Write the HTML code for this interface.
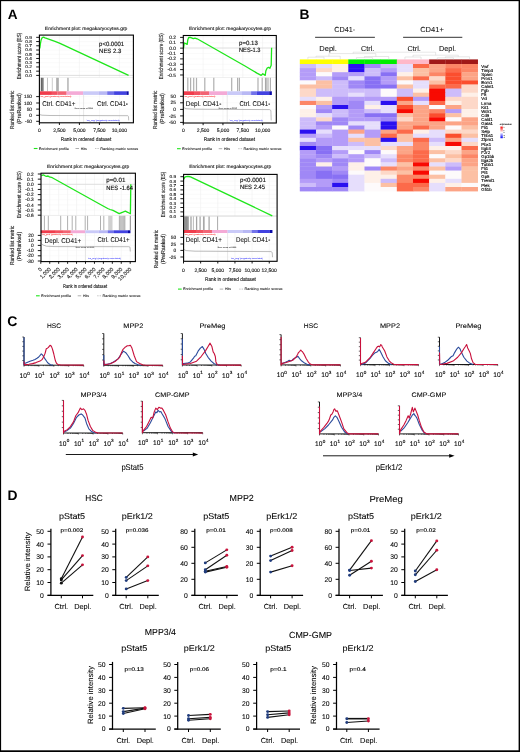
<!DOCTYPE html>
<html><head><meta charset="utf-8"><title>Figure</title>
<style>
html,body{margin:0;padding:0;background:#fff;}
body{width:520px;height:752px;overflow:hidden;}
svg{display:block;font-family:"Liberation Sans", sans-serif;text-rendering:geometricPrecision;will-change:transform;}
.frame{position:absolute;left:0;top:0;width:518px;height:750px;border:1px solid #000;}
</style></head>
<body>
<svg width="520" height="752" viewBox="0 0 520 752">
<rect x="0" y="0" width="520" height="752" fill="#fff"/>
<text x="7.8" y="18.7" font-size="13.6" font-weight="bold" >A</text>
<text x="299.6" y="18.8" font-size="13.8" font-weight="bold" >B</text>
<text x="7.2" y="326.4" font-size="14" font-weight="bold" >C</text>
<text x="7.4" y="500.4" font-size="13.8" font-weight="bold" >D</text>
<text x="86.1" y="30.3" font-size="4.7" text-anchor="middle" fill="#222" textLength="82.6" lengthAdjust="spacingAndGlyphs" stroke="#222" stroke-width="0.14" >Enrichment plot: megakaryocytes.grp</text>
<line x1="59.4" y1="35.1" x2="59.4" y2="77.5" stroke="#ececec" stroke-width="0.5" />
<line x1="59.4" y1="94.9" x2="59.4" y2="122.8" stroke="#eeeeee" stroke-width="0.5" />
<line x1="79.4" y1="35.1" x2="79.4" y2="77.5" stroke="#ececec" stroke-width="0.5" />
<line x1="79.4" y1="94.9" x2="79.4" y2="122.8" stroke="#eeeeee" stroke-width="0.5" />
<line x1="99.4" y1="35.1" x2="99.4" y2="77.5" stroke="#ececec" stroke-width="0.5" />
<line x1="99.4" y1="94.9" x2="99.4" y2="122.8" stroke="#eeeeee" stroke-width="0.5" />
<line x1="119.4" y1="35.1" x2="119.4" y2="77.5" stroke="#ececec" stroke-width="0.5" />
<line x1="119.4" y1="94.9" x2="119.4" y2="122.8" stroke="#eeeeee" stroke-width="0.5" />
<line x1="39.4" y1="75.4" x2="133.4" y2="75.4" stroke="#f2f2f2" stroke-width="0.4" />
<line x1="39.4" y1="71.17" x2="133.4" y2="71.17" stroke="#f2f2f2" stroke-width="0.4" />
<line x1="39.4" y1="66.94" x2="133.4" y2="66.94" stroke="#f2f2f2" stroke-width="0.4" />
<line x1="39.4" y1="62.71" x2="133.4" y2="62.71" stroke="#f2f2f2" stroke-width="0.4" />
<line x1="39.4" y1="58.48" x2="133.4" y2="58.48" stroke="#f2f2f2" stroke-width="0.4" />
<line x1="39.4" y1="54.25" x2="133.4" y2="54.25" stroke="#f2f2f2" stroke-width="0.4" />
<line x1="39.4" y1="50.02" x2="133.4" y2="50.02" stroke="#f2f2f2" stroke-width="0.4" />
<line x1="39.4" y1="45.79" x2="133.4" y2="45.79" stroke="#f2f2f2" stroke-width="0.4" />
<line x1="39.4" y1="41.56" x2="133.4" y2="41.56" stroke="#f2f2f2" stroke-width="0.4" />
<line x1="39.4" y1="37.33" x2="133.4" y2="37.33" stroke="#f2f2f2" stroke-width="0.4" />
<line x1="39.4" y1="96.6" x2="133.4" y2="96.6" stroke="#f4f4f4" stroke-width="0.4" />
<line x1="39.4" y1="103" x2="133.4" y2="103" stroke="#f4f4f4" stroke-width="0.4" />
<line x1="39.4" y1="109.1" x2="133.4" y2="109.1" stroke="#f4f4f4" stroke-width="0.4" />
<line x1="39.4" y1="115.3" x2="133.4" y2="115.3" stroke="#f4f4f4" stroke-width="0.4" />
<line x1="39.4" y1="121.3" x2="133.4" y2="121.3" stroke="#f4f4f4" stroke-width="0.4" />
<line x1="39.4" y1="75.4" x2="133.4" y2="75.4" stroke="#d4d4d4" stroke-width="0.7" />
<line x1="39.4" y1="77.5" x2="133.4" y2="77.5" stroke="#e0e0e0" stroke-width="0.5" />
<rect x="40.8" y="77.8" width="2.9" height="13.5" fill="#8a8a8a" />
<line x1="41.4" y1="77.8" x2="41.4" y2="91.3" stroke="#444" stroke-width="0.6" />
<line x1="42.6" y1="77.8" x2="42.6" y2="91.3" stroke="#666" stroke-width="0.4" />
<line x1="47.5" y1="77.8" x2="47.5" y2="91.3" stroke="#999" stroke-width="0.6" />
<line x1="52.3" y1="77.8" x2="52.3" y2="91.3" stroke="#aaa" stroke-width="0.6" />
<rect x="56.2" y="77.8" width="2.7" height="13.5" fill="#b4b4b4" />
<line x1="57" y1="77.8" x2="57" y2="91.3" stroke="#999" stroke-width="0.4" />
<rect x="67.2" y="77.8" width="1.5" height="13.5" fill="#b4b4b4" />
<rect x="39.4" y="91.3" width="12.54" height="3.6" fill="#f03c4c" />
<rect x="51.89" y="91.3" width="5.4" height="3.6" fill="#f25060" />
<rect x="57.24" y="91.3" width="9.42" height="3.6" fill="#f26474" />
<rect x="66.61" y="91.3" width="16.55" height="3.6" fill="#f4aad6" />
<rect x="83.11" y="91.3" width="15.66" height="3.6" fill="#cacaf8" />
<rect x="98.72" y="91.3" width="8.52" height="3.6" fill="#b8b8f4" />
<rect x="107.19" y="91.3" width="6.92" height="3.6" fill="#7272ea" />
<rect x="114.06" y="91.3" width="12.36" height="3.6" fill="#4242e0" />
<rect x="126.37" y="91.3" width="2.28" height="3.6" fill="#0a0aa8" />
<text x="40.4" y="96.6" font-size="1.8" fill="#ff3030" textLength="31" lengthAdjust="spacingAndGlyphs" stroke="#ff3030" stroke-width="0.05" >'na_pos' (positively correlated)</text>
<text x="86.5" y="121" font-size="1.8" fill="#4040ff" textLength="33" lengthAdjust="spacingAndGlyphs" stroke="#4040ff" stroke-width="0.05" >'na_neg' (negatively correlated)</text>
<line x1="83.6" y1="94.9" x2="83.6" y2="122.8" stroke="#d0d0d0" stroke-width="0.5" />
<text x="74.6" y="108.8" font-size="1.8" fill="#444" textLength="18.5" lengthAdjust="spacingAndGlyphs" stroke="#444" stroke-width="0.05" >Zero cross at 5548</text>
<polyline points="39.8,114.6 42,115.2 50,115.5 127.8,115.7 128.5,116.6 128.7,120.4" fill="none" stroke="#a0a0a0" stroke-width="0.7" stroke-linejoin="round" />
<text x="42.3" y="105.6" font-size="7" fill="#111" textLength="33.1" lengthAdjust="spacingAndGlyphs" stroke="#111" stroke-width="0.07" >Ctrl. CD41+</text>
<text x="97" y="105.5" font-size="7" fill="#111" textLength="30.9" lengthAdjust="spacingAndGlyphs" stroke="#111" stroke-width="0.07" >Ctrl. CD41-</text>
<polyline points="39.8,48.5 40.3,44.5 41,40.5 41.8,38.3 42.8,37.3 43.6,37.2 45,37.9 46.5,38.4 50,39.6 55,41.3 60,43.3 128.6,75.4" fill="none" stroke="#1ee61a" stroke-width="1.3" stroke-linejoin="round" />
<text x="99.1" y="45.7" font-size="6.2" fill="#111" textLength="25" lengthAdjust="spacingAndGlyphs" stroke="#111" stroke-width="0.14" >p&lt;0.0001</text>
<text x="99.1" y="52.8" font-size="6.2" fill="#111" textLength="22.2" lengthAdjust="spacingAndGlyphs" stroke="#111" stroke-width="0.14" >NES 2.3</text>
<rect x="39.4" y="35.1" width="94" height="87.7" fill="none" stroke="#000" stroke-width="1.1" />
<line x1="36.2" y1="75.4" x2="39.4" y2="75.4" stroke="#000" stroke-width="0.9" />
<text x="32" y="0" font-size="4.8" text-anchor="end" fill="#222" stroke="#222" stroke-width="0.14" transform="translate(0 76.85) scale(1 0.88)">0.0</text>
<line x1="36.2" y1="71.17" x2="39.4" y2="71.17" stroke="#000" stroke-width="0.9" />
<text x="32" y="0" font-size="4.8" text-anchor="end" fill="#222" stroke="#222" stroke-width="0.14" transform="translate(0 72.62) scale(1 0.88)">0.1</text>
<line x1="36.2" y1="66.94" x2="39.4" y2="66.94" stroke="#000" stroke-width="0.9" />
<text x="32" y="0" font-size="4.8" text-anchor="end" fill="#222" stroke="#222" stroke-width="0.14" transform="translate(0 68.39) scale(1 0.88)">0.2</text>
<line x1="36.2" y1="62.71" x2="39.4" y2="62.71" stroke="#000" stroke-width="0.9" />
<text x="32" y="0" font-size="4.8" text-anchor="end" fill="#222" stroke="#222" stroke-width="0.14" transform="translate(0 64.16) scale(1 0.88)">0.3</text>
<line x1="36.2" y1="58.48" x2="39.4" y2="58.48" stroke="#000" stroke-width="0.9" />
<text x="32" y="0" font-size="4.8" text-anchor="end" fill="#222" stroke="#222" stroke-width="0.14" transform="translate(0 59.93) scale(1 0.88)">0.4</text>
<line x1="36.2" y1="54.25" x2="39.4" y2="54.25" stroke="#000" stroke-width="0.9" />
<text x="32" y="0" font-size="4.8" text-anchor="end" fill="#222" stroke="#222" stroke-width="0.14" transform="translate(0 55.7) scale(1 0.88)">0.5</text>
<line x1="36.2" y1="50.02" x2="39.4" y2="50.02" stroke="#000" stroke-width="0.9" />
<text x="32" y="0" font-size="4.8" text-anchor="end" fill="#222" stroke="#222" stroke-width="0.14" transform="translate(0 51.47) scale(1 0.88)">0.6</text>
<line x1="36.2" y1="45.79" x2="39.4" y2="45.79" stroke="#000" stroke-width="0.9" />
<text x="32" y="0" font-size="4.8" text-anchor="end" fill="#222" stroke="#222" stroke-width="0.14" transform="translate(0 47.24) scale(1 0.88)">0.7</text>
<line x1="36.2" y1="41.56" x2="39.4" y2="41.56" stroke="#000" stroke-width="0.9" />
<text x="32" y="0" font-size="4.8" text-anchor="end" fill="#222" stroke="#222" stroke-width="0.14" transform="translate(0 43.01) scale(1 0.88)">0.8</text>
<line x1="36.2" y1="37.33" x2="39.4" y2="37.33" stroke="#000" stroke-width="0.9" />
<text x="32" y="0" font-size="4.8" text-anchor="end" fill="#222" stroke="#222" stroke-width="0.14" transform="translate(0 38.78) scale(1 0.88)">0.9</text>
<line x1="36.2" y1="96.6" x2="39.4" y2="96.6" stroke="#000" stroke-width="0.9" />
<text x="32" y="98.2" font-size="4.8" text-anchor="end" fill="#222" stroke="#222" stroke-width="0.14" >150</text>
<line x1="36.2" y1="103" x2="39.4" y2="103" stroke="#000" stroke-width="0.9" />
<text x="32" y="104.6" font-size="4.8" text-anchor="end" fill="#222" stroke="#222" stroke-width="0.14" >100</text>
<line x1="36.2" y1="109.1" x2="39.4" y2="109.1" stroke="#000" stroke-width="0.9" />
<text x="32" y="110.7" font-size="4.8" text-anchor="end" fill="#222" stroke="#222" stroke-width="0.14" >50</text>
<line x1="36.2" y1="115.3" x2="39.4" y2="115.3" stroke="#000" stroke-width="0.9" />
<text x="32" y="116.9" font-size="4.8" text-anchor="end" fill="#222" stroke="#222" stroke-width="0.14" >0</text>
<line x1="36.2" y1="121.3" x2="39.4" y2="121.3" stroke="#000" stroke-width="0.9" />
<text x="32" y="122.9" font-size="4.8" text-anchor="end" fill="#222" stroke="#222" stroke-width="0.14" >-50</text>
<line x1="39.4" y1="122.8" x2="39.4" y2="125" stroke="#000" stroke-width="0.9" />
<text x="39.4" y="131.7" font-size="5" text-anchor="middle" fill="#222" stroke="#222" stroke-width="0.14" >0</text>
<line x1="59.4" y1="122.8" x2="59.4" y2="125" stroke="#000" stroke-width="0.9" />
<text x="59.4" y="131.7" font-size="5" text-anchor="middle" fill="#222" stroke="#222" stroke-width="0.14" >2,500</text>
<line x1="79.4" y1="122.8" x2="79.4" y2="125" stroke="#000" stroke-width="0.9" />
<text x="79.4" y="131.7" font-size="5" text-anchor="middle" fill="#222" stroke="#222" stroke-width="0.14" >5,000</text>
<line x1="99.4" y1="122.8" x2="99.4" y2="125" stroke="#000" stroke-width="0.9" />
<text x="99.4" y="131.7" font-size="5" text-anchor="middle" fill="#222" stroke="#222" stroke-width="0.14" >7,500</text>
<line x1="119.4" y1="122.8" x2="119.4" y2="125" stroke="#000" stroke-width="0.9" />
<text x="119.4" y="131.7" font-size="5" text-anchor="middle" fill="#222" stroke="#222" stroke-width="0.14" >10,000</text>
<text x="86.05" y="141.4" font-size="5.5" text-anchor="middle" fill="#222" textLength="50.5" lengthAdjust="spacingAndGlyphs" stroke="#222" stroke-width="0.14" >Rank in ordered dataset</text>
<text x="21.3" y="56" font-size="5.8" text-anchor="middle" fill="#222" textLength="46.5" lengthAdjust="spacingAndGlyphs" transform="rotate(-90 21.3 56)" stroke="#222" stroke-width="0.14" >Enrichment score (ES)</text>
<text x="14" y="109.8" font-size="5.8" text-anchor="middle" fill="#222" textLength="38.5" lengthAdjust="spacingAndGlyphs" transform="rotate(-90 14 109.8)" stroke="#222" stroke-width="0.14" >Ranked list metric</text>
<text x="20.8" y="108.5" font-size="5.8" text-anchor="middle" fill="#222" textLength="30.5" lengthAdjust="spacingAndGlyphs" transform="rotate(-90 20.8 108.5)" stroke="#222" stroke-width="0.14" >(PreRanked)</text>
<line x1="33.8" y1="148.5" x2="37.5" y2="148.5" stroke="#1ee61a" stroke-width="1.1" />
<text x="38.8" y="149.6" font-size="3.4" fill="#333" textLength="30" lengthAdjust="spacingAndGlyphs" stroke="#333" stroke-width="0.1" >Enrichment profile</text>
<line x1="75.5" y1="148.5" x2="79" y2="148.5" stroke="#777" stroke-width="0.6" />
<text x="80.8" y="149.6" font-size="3.4" fill="#333" textLength="6" lengthAdjust="spacingAndGlyphs" stroke="#333" stroke-width="0.1" >Hits</text>
<line x1="95" y1="148.5" x2="96.4" y2="148.5" stroke="#999" stroke-width="0.6" />
<line x1="97.4" y1="148.5" x2="98.8" y2="148.5" stroke="#999" stroke-width="0.6" />
<text x="100.3" y="149.6" font-size="3.4" fill="#333" textLength="38" lengthAdjust="spacingAndGlyphs" stroke="#333" stroke-width="0.1" >Ranking metric scores</text>
<text x="230" y="30.3" font-size="4.7" text-anchor="middle" fill="#222" textLength="82" lengthAdjust="spacingAndGlyphs" stroke="#222" stroke-width="0.14" >Enrichment plot: megakaryocytes.grp</text>
<line x1="203.12" y1="35.5" x2="203.12" y2="77.5" stroke="#ececec" stroke-width="0.5" />
<line x1="203.12" y1="95" x2="203.12" y2="123" stroke="#eeeeee" stroke-width="0.5" />
<line x1="222.95" y1="35.5" x2="222.95" y2="77.5" stroke="#ececec" stroke-width="0.5" />
<line x1="222.95" y1="95" x2="222.95" y2="123" stroke="#eeeeee" stroke-width="0.5" />
<line x1="242.78" y1="35.5" x2="242.78" y2="77.5" stroke="#ececec" stroke-width="0.5" />
<line x1="242.78" y1="95" x2="242.78" y2="123" stroke="#eeeeee" stroke-width="0.5" />
<line x1="262.6" y1="35.5" x2="262.6" y2="77.5" stroke="#ececec" stroke-width="0.5" />
<line x1="262.6" y1="95" x2="262.6" y2="123" stroke="#eeeeee" stroke-width="0.5" />
<line x1="183.3" y1="37.4" x2="276.3" y2="37.4" stroke="#f2f2f2" stroke-width="0.4" />
<line x1="183.3" y1="42.77" x2="276.3" y2="42.77" stroke="#f2f2f2" stroke-width="0.4" />
<line x1="183.3" y1="48.14" x2="276.3" y2="48.14" stroke="#f2f2f2" stroke-width="0.4" />
<line x1="183.3" y1="53.51" x2="276.3" y2="53.51" stroke="#f2f2f2" stroke-width="0.4" />
<line x1="183.3" y1="58.88" x2="276.3" y2="58.88" stroke="#f2f2f2" stroke-width="0.4" />
<line x1="183.3" y1="64.25" x2="276.3" y2="64.25" stroke="#f2f2f2" stroke-width="0.4" />
<line x1="183.3" y1="69.62" x2="276.3" y2="69.62" stroke="#f2f2f2" stroke-width="0.4" />
<line x1="183.3" y1="74.99" x2="276.3" y2="74.99" stroke="#f2f2f2" stroke-width="0.4" />
<line x1="183.3" y1="96.3" x2="276.3" y2="96.3" stroke="#f4f4f4" stroke-width="0.4" />
<line x1="183.3" y1="102.8" x2="276.3" y2="102.8" stroke="#f4f4f4" stroke-width="0.4" />
<line x1="183.3" y1="109.4" x2="276.3" y2="109.4" stroke="#f4f4f4" stroke-width="0.4" />
<line x1="183.3" y1="115.9" x2="276.3" y2="115.9" stroke="#f4f4f4" stroke-width="0.4" />
<line x1="183.3" y1="48" x2="276.3" y2="48" stroke="#d4d4d4" stroke-width="0.7" />
<line x1="183.3" y1="77.5" x2="276.3" y2="77.5" stroke="#e0e0e0" stroke-width="0.5" />
<line x1="187.8" y1="77.8" x2="187.8" y2="91.3" stroke="#b0b0b0" stroke-width="1.2" />
<line x1="190.6" y1="77.8" x2="190.6" y2="91.3" stroke="#b0b0b0" stroke-width="1.2" />
<line x1="193.7" y1="77.8" x2="193.7" y2="91.3" stroke="#b0b0b0" stroke-width="1.2" />
<line x1="196.5" y1="77.8" x2="196.5" y2="91.3" stroke="#b0b0b0" stroke-width="1.2" />
<line x1="204.8" y1="77.8" x2="204.8" y2="91.3" stroke="#b0b0b0" stroke-width="1.2" />
<line x1="213.8" y1="77.8" x2="213.8" y2="91.3" stroke="#b0b0b0" stroke-width="1.2" />
<line x1="231.7" y1="77.8" x2="231.7" y2="91.3" stroke="#b0b0b0" stroke-width="1.2" />
<line x1="237.6" y1="77.8" x2="237.6" y2="91.3" stroke="#b0b0b0" stroke-width="1.2" />
<line x1="239.4" y1="77.8" x2="239.4" y2="91.3" stroke="#b0b0b0" stroke-width="1.2" />
<line x1="258" y1="77.8" x2="258" y2="91.3" stroke="#b0b0b0" stroke-width="1.2" />
<line x1="262.2" y1="77.8" x2="262.2" y2="91.3" stroke="#b0b0b0" stroke-width="1.2" />
<line x1="268" y1="77.8" x2="268" y2="91.3" stroke="#b0b0b0" stroke-width="1.2" />
<line x1="270.4" y1="77.8" x2="270.4" y2="91.3" stroke="#b0b0b0" stroke-width="1.2" />
<line x1="266" y1="77.8" x2="266" y2="91.3" stroke="#999" stroke-width="1.2" />
<line x1="265.4" y1="77.8" x2="265.4" y2="91.3" stroke="#888" stroke-width="0.5" />
<rect x="183.3" y="91.3" width="11.55" height="3.7" fill="#f03c4c" />
<rect x="194.81" y="91.3" width="5.36" height="3.7" fill="#f25060" />
<rect x="200.12" y="91.3" width="8.9" height="3.7" fill="#f26474" />
<rect x="208.97" y="91.3" width="18.28" height="3.7" fill="#f4aad6" />
<rect x="227.2" y="91.3" width="14.74" height="3.7" fill="#cacaf8" />
<rect x="241.89" y="91.3" width="9.25" height="3.7" fill="#b8b8f4" />
<rect x="251.09" y="91.3" width="5.71" height="3.7" fill="#7272ea" />
<rect x="256.75" y="91.3" width="12.53" height="3.7" fill="#4242e0" />
<rect x="269.23" y="91.3" width="2.62" height="3.7" fill="#0a0aa8" />
<text x="184.3" y="96.7" font-size="1.8" fill="#ff3030" textLength="31" lengthAdjust="spacingAndGlyphs" stroke="#ff3030" stroke-width="0.05" >'na_pos' (positively correlated)</text>
<text x="229.5" y="121" font-size="1.8" fill="#4040ff" textLength="33" lengthAdjust="spacingAndGlyphs" stroke="#4040ff" stroke-width="0.05" >'na_neg' (negatively correlated)</text>
<line x1="227.2" y1="95" x2="227.2" y2="123" stroke="#d0d0d0" stroke-width="0.5" />
<text x="218.5" y="108.9" font-size="1.8" fill="#444" textLength="18.5" lengthAdjust="spacingAndGlyphs" stroke="#444" stroke-width="0.05" >Zero cross at 5535</text>
<polyline points="183.8,107.6 186,108.7 195,109.2 269.5,109.6 270.9,110.5 271.2,120.4" fill="none" stroke="#a0a0a0" stroke-width="0.7" stroke-linejoin="round" />
<text x="185.8" y="105.8" font-size="7" fill="#111" textLength="35.5" lengthAdjust="spacingAndGlyphs" stroke="#111" stroke-width="0.07" >Depl. CD41-</text>
<text x="239.6" y="105.8" font-size="7" fill="#111" textLength="30.6" lengthAdjust="spacingAndGlyphs" stroke="#111" stroke-width="0.07" >Ctrl. CD41-</text>
<polyline points="183.5,48.3 184.3,43 185.8,43.6 187.2,44.4 187.8,39.8 188.7,37.5 190.4,37.4 192.1,38.1 193.3,38.7 195,38.1 197.1,38.8 245,66 251.7,70 257.4,73.4 261.2,75.4 262.8,73.7 265.2,75.4 265.9,70.7 267.2,68 268.6,67.3 269.9,68.3 271.2,65.3 271.6,47.8" fill="none" stroke="#1ee61a" stroke-width="1.3" stroke-linejoin="round" />
<text x="239" y="44.8" font-size="6.2" fill="#111" textLength="18.8" lengthAdjust="spacingAndGlyphs" stroke="#111" stroke-width="0.14" >p=0.13</text>
<text x="239" y="51.8" font-size="6.2" fill="#111" textLength="21.5" lengthAdjust="spacingAndGlyphs" stroke="#111" stroke-width="0.14" >NES-1.3</text>
<rect x="183.3" y="35.5" width="93" height="87.5" fill="none" stroke="#000" stroke-width="1.1" />
<line x1="180.1" y1="37.4" x2="183.3" y2="37.4" stroke="#000" stroke-width="0.9" />
<text x="175.9" y="39" font-size="4.8" text-anchor="end" fill="#222" stroke="#222" stroke-width="0.14" >0.2</text>
<line x1="180.1" y1="42.77" x2="183.3" y2="42.77" stroke="#000" stroke-width="0.9" />
<text x="175.9" y="44.37" font-size="4.8" text-anchor="end" fill="#222" stroke="#222" stroke-width="0.14" >0.1</text>
<line x1="180.1" y1="48.14" x2="183.3" y2="48.14" stroke="#000" stroke-width="0.9" />
<text x="175.9" y="49.74" font-size="4.8" text-anchor="end" fill="#222" stroke="#222" stroke-width="0.14" >0.0</text>
<line x1="180.1" y1="53.51" x2="183.3" y2="53.51" stroke="#000" stroke-width="0.9" />
<text x="175.9" y="55.11" font-size="4.8" text-anchor="end" fill="#222" stroke="#222" stroke-width="0.14" >-0.1</text>
<line x1="180.1" y1="58.88" x2="183.3" y2="58.88" stroke="#000" stroke-width="0.9" />
<text x="175.9" y="60.48" font-size="4.8" text-anchor="end" fill="#222" stroke="#222" stroke-width="0.14" >-0.2</text>
<line x1="180.1" y1="64.25" x2="183.3" y2="64.25" stroke="#000" stroke-width="0.9" />
<text x="175.9" y="65.85" font-size="4.8" text-anchor="end" fill="#222" stroke="#222" stroke-width="0.14" >-0.3</text>
<line x1="180.1" y1="69.62" x2="183.3" y2="69.62" stroke="#000" stroke-width="0.9" />
<text x="175.9" y="71.22" font-size="4.8" text-anchor="end" fill="#222" stroke="#222" stroke-width="0.14" >-0.4</text>
<line x1="180.1" y1="74.99" x2="183.3" y2="74.99" stroke="#000" stroke-width="0.9" />
<text x="175.9" y="76.59" font-size="4.8" text-anchor="end" fill="#222" stroke="#222" stroke-width="0.14" >-0.5</text>
<line x1="180.1" y1="96.3" x2="183.3" y2="96.3" stroke="#000" stroke-width="0.9" />
<text x="175.9" y="97.9" font-size="4.8" text-anchor="end" fill="#222" stroke="#222" stroke-width="0.14" >50</text>
<line x1="180.1" y1="102.8" x2="183.3" y2="102.8" stroke="#000" stroke-width="0.9" />
<text x="175.9" y="104.4" font-size="4.8" text-anchor="end" fill="#222" stroke="#222" stroke-width="0.14" >25</text>
<line x1="180.1" y1="109.4" x2="183.3" y2="109.4" stroke="#000" stroke-width="0.9" />
<text x="175.9" y="111" font-size="4.8" text-anchor="end" fill="#222" stroke="#222" stroke-width="0.14" >0</text>
<line x1="180.1" y1="115.9" x2="183.3" y2="115.9" stroke="#000" stroke-width="0.9" />
<text x="175.9" y="117.5" font-size="4.8" text-anchor="end" fill="#222" stroke="#222" stroke-width="0.14" >-25</text>
<line x1="180.1" y1="122.4" x2="183.3" y2="122.4" stroke="#000" stroke-width="0.9" />
<text x="175.9" y="124" font-size="4.8" text-anchor="end" fill="#222" stroke="#222" stroke-width="0.14" >-50</text>
<line x1="183.3" y1="123" x2="183.3" y2="125.2" stroke="#000" stroke-width="0.9" />
<text x="183.3" y="132" font-size="5" text-anchor="middle" fill="#222" stroke="#222" stroke-width="0.14" >0</text>
<line x1="203.12" y1="123" x2="203.12" y2="125.2" stroke="#000" stroke-width="0.9" />
<text x="203.12" y="132" font-size="5" text-anchor="middle" fill="#222" stroke="#222" stroke-width="0.14" >2,500</text>
<line x1="222.95" y1="123" x2="222.95" y2="125.2" stroke="#000" stroke-width="0.9" />
<text x="222.95" y="132" font-size="5" text-anchor="middle" fill="#222" stroke="#222" stroke-width="0.14" >5,000</text>
<line x1="242.78" y1="123" x2="242.78" y2="125.2" stroke="#000" stroke-width="0.9" />
<text x="242.78" y="132" font-size="5" text-anchor="middle" fill="#222" stroke="#222" stroke-width="0.14" >7,500</text>
<line x1="262.6" y1="123" x2="262.6" y2="125.2" stroke="#000" stroke-width="0.9" />
<text x="262.6" y="132" font-size="5" text-anchor="middle" fill="#222" stroke="#222" stroke-width="0.14" >10,000</text>
<text x="229.4" y="141.4" font-size="5.5" text-anchor="middle" fill="#222" textLength="51.2" lengthAdjust="spacingAndGlyphs" stroke="#222" stroke-width="0.14" >Rank in ordered dataset</text>
<text x="163.2" y="56.2" font-size="5.8" text-anchor="middle" fill="#222" textLength="45.9" lengthAdjust="spacingAndGlyphs" transform="rotate(-90 163.2 56.2)" stroke="#222" stroke-width="0.14" >Enrichment score (ES)</text>
<text x="157" y="109.8" font-size="5.8" text-anchor="middle" fill="#222" textLength="38.5" lengthAdjust="spacingAndGlyphs" transform="rotate(-90 157 109.8)" stroke="#222" stroke-width="0.14" >Ranked list metric</text>
<text x="163.8" y="108.5" font-size="5.8" text-anchor="middle" fill="#222" textLength="30.5" lengthAdjust="spacingAndGlyphs" transform="rotate(-90 163.8 108.5)" stroke="#222" stroke-width="0.14" >(PreRanked)</text>
<line x1="177" y1="148.7" x2="180.7" y2="148.7" stroke="#1ee61a" stroke-width="1.1" />
<text x="182" y="149.8" font-size="3.4" fill="#333" textLength="30" lengthAdjust="spacingAndGlyphs" stroke="#333" stroke-width="0.1" >Enrichment profile</text>
<line x1="218.7" y1="148.7" x2="222.2" y2="148.7" stroke="#777" stroke-width="0.6" />
<text x="224" y="149.8" font-size="3.4" fill="#333" textLength="6" lengthAdjust="spacingAndGlyphs" stroke="#333" stroke-width="0.1" >Hits</text>
<line x1="238.2" y1="148.7" x2="239.6" y2="148.7" stroke="#999" stroke-width="0.6" />
<line x1="240.6" y1="148.7" x2="242" y2="148.7" stroke="#999" stroke-width="0.6" />
<text x="243.5" y="149.8" font-size="3.4" fill="#333" textLength="38" lengthAdjust="spacingAndGlyphs" stroke="#333" stroke-width="0.1" >Ranking metric scores</text>
<text x="88.05" y="168.2" font-size="4.7" text-anchor="middle" fill="#222" textLength="82.3" lengthAdjust="spacingAndGlyphs" stroke="#222" stroke-width="0.14" >Enrichment plot: megakaryocytes.grp</text>
<line x1="49.74" y1="173.2" x2="49.74" y2="215.5" stroke="#ececec" stroke-width="0.5" />
<line x1="49.74" y1="233.2" x2="49.74" y2="261.6" stroke="#eeeeee" stroke-width="0.5" />
<line x1="58.68" y1="173.2" x2="58.68" y2="215.5" stroke="#ececec" stroke-width="0.5" />
<line x1="58.68" y1="233.2" x2="58.68" y2="261.6" stroke="#eeeeee" stroke-width="0.5" />
<line x1="67.62" y1="173.2" x2="67.62" y2="215.5" stroke="#ececec" stroke-width="0.5" />
<line x1="67.62" y1="233.2" x2="67.62" y2="261.6" stroke="#eeeeee" stroke-width="0.5" />
<line x1="76.56" y1="173.2" x2="76.56" y2="215.5" stroke="#ececec" stroke-width="0.5" />
<line x1="76.56" y1="233.2" x2="76.56" y2="261.6" stroke="#eeeeee" stroke-width="0.5" />
<line x1="85.5" y1="173.2" x2="85.5" y2="215.5" stroke="#ececec" stroke-width="0.5" />
<line x1="85.5" y1="233.2" x2="85.5" y2="261.6" stroke="#eeeeee" stroke-width="0.5" />
<line x1="94.44" y1="173.2" x2="94.44" y2="215.5" stroke="#ececec" stroke-width="0.5" />
<line x1="94.44" y1="233.2" x2="94.44" y2="261.6" stroke="#eeeeee" stroke-width="0.5" />
<line x1="103.38" y1="173.2" x2="103.38" y2="215.5" stroke="#ececec" stroke-width="0.5" />
<line x1="103.38" y1="233.2" x2="103.38" y2="261.6" stroke="#eeeeee" stroke-width="0.5" />
<line x1="112.32" y1="173.2" x2="112.32" y2="215.5" stroke="#ececec" stroke-width="0.5" />
<line x1="112.32" y1="233.2" x2="112.32" y2="261.6" stroke="#eeeeee" stroke-width="0.5" />
<line x1="121.26" y1="173.2" x2="121.26" y2="215.5" stroke="#ececec" stroke-width="0.5" />
<line x1="121.26" y1="233.2" x2="121.26" y2="261.6" stroke="#eeeeee" stroke-width="0.5" />
<line x1="130.2" y1="173.2" x2="130.2" y2="215.5" stroke="#ececec" stroke-width="0.5" />
<line x1="130.2" y1="233.2" x2="130.2" y2="261.6" stroke="#eeeeee" stroke-width="0.5" />
<line x1="41" y1="174" x2="135.4" y2="174" stroke="#f2f2f2" stroke-width="0.4" />
<line x1="41" y1="179.15" x2="135.4" y2="179.15" stroke="#f2f2f2" stroke-width="0.4" />
<line x1="41" y1="184.3" x2="135.4" y2="184.3" stroke="#f2f2f2" stroke-width="0.4" />
<line x1="41" y1="189.45" x2="135.4" y2="189.45" stroke="#f2f2f2" stroke-width="0.4" />
<line x1="41" y1="194.6" x2="135.4" y2="194.6" stroke="#f2f2f2" stroke-width="0.4" />
<line x1="41" y1="199.75" x2="135.4" y2="199.75" stroke="#f2f2f2" stroke-width="0.4" />
<line x1="41" y1="204.9" x2="135.4" y2="204.9" stroke="#f2f2f2" stroke-width="0.4" />
<line x1="41" y1="210.05" x2="135.4" y2="210.05" stroke="#f2f2f2" stroke-width="0.4" />
<line x1="41" y1="215.2" x2="135.4" y2="215.2" stroke="#f2f2f2" stroke-width="0.4" />
<line x1="41" y1="235.4" x2="135.4" y2="235.4" stroke="#f4f4f4" stroke-width="0.4" />
<line x1="41" y1="240.4" x2="135.4" y2="240.4" stroke="#f4f4f4" stroke-width="0.4" />
<line x1="41" y1="245.4" x2="135.4" y2="245.4" stroke="#f4f4f4" stroke-width="0.4" />
<line x1="41" y1="250.6" x2="135.4" y2="250.6" stroke="#f4f4f4" stroke-width="0.4" />
<line x1="41" y1="255.8" x2="135.4" y2="255.8" stroke="#f4f4f4" stroke-width="0.4" />
<line x1="41" y1="184.3" x2="135.4" y2="184.3" stroke="#d4d4d4" stroke-width="0.7" />
<line x1="41" y1="215.5" x2="135.4" y2="215.5" stroke="#e0e0e0" stroke-width="0.5" />
<line x1="44.4" y1="215.8" x2="44.4" y2="230.3" stroke="#b0b0b0" stroke-width="1" />
<line x1="48.3" y1="215.8" x2="48.3" y2="230.3" stroke="#b0b0b0" stroke-width="1" />
<line x1="60.7" y1="215.8" x2="60.7" y2="230.3" stroke="#b0b0b0" stroke-width="1" />
<line x1="67.6" y1="215.8" x2="67.6" y2="230.3" stroke="#b0b0b0" stroke-width="1" />
<line x1="72.2" y1="215.8" x2="72.2" y2="230.3" stroke="#b0b0b0" stroke-width="1" />
<line x1="75.8" y1="215.8" x2="75.8" y2="230.3" stroke="#b0b0b0" stroke-width="1" />
<line x1="85.2" y1="215.8" x2="85.2" y2="230.3" stroke="#b0b0b0" stroke-width="1" />
<line x1="87.6" y1="215.8" x2="87.6" y2="230.3" stroke="#b0b0b0" stroke-width="1" />
<line x1="100.5" y1="215.8" x2="100.5" y2="230.3" stroke="#b0b0b0" stroke-width="1" />
<line x1="103.8" y1="215.8" x2="103.8" y2="230.3" stroke="#b0b0b0" stroke-width="1" />
<rect x="108.2" y="215.8" width="4.3" height="14.5" fill="#d0d0d0" />
<rect x="118.8" y="215.8" width="6.7" height="14.5" fill="#c4c4c4" />
<line x1="119.6" y1="215.8" x2="119.6" y2="230.3" stroke="#a8a8a8" stroke-width="0.6" />
<line x1="124.2" y1="215.8" x2="124.2" y2="230.3" stroke="#a8a8a8" stroke-width="0.6" />
<line x1="130.3" y1="215.8" x2="130.3" y2="230.3" stroke="#888" stroke-width="1" />
<rect x="40.8" y="230.3" width="15.1" height="2.9" fill="#f03c4c" />
<rect x="55.85" y="230.3" width="7.13" height="2.9" fill="#f25060" />
<rect x="62.93" y="230.3" width="7.93" height="2.9" fill="#f26474" />
<rect x="70.82" y="230.3" width="14.48" height="2.9" fill="#f4aad6" />
<rect x="85.24" y="230.3" width="13.4" height="2.9" fill="#cacaf8" />
<rect x="98.59" y="230.3" width="9.19" height="2.9" fill="#b8b8f4" />
<rect x="107.73" y="230.3" width="6.32" height="2.9" fill="#7272ea" />
<rect x="114" y="230.3" width="13.94" height="2.9" fill="#4242e0" />
<rect x="127.89" y="230.3" width="2.56" height="2.9" fill="#0a0aa8" />
<text x="41.8" y="234.9" font-size="1.8" fill="#ff3030" textLength="31" lengthAdjust="spacingAndGlyphs" stroke="#ff3030" stroke-width="0.05" >'na_pos' (positively correlated)</text>
<text x="87.9" y="259.3" font-size="1.8" fill="#4040ff" textLength="33" lengthAdjust="spacingAndGlyphs" stroke="#4040ff" stroke-width="0.05" >'na_neg' (negatively correlated)</text>
<line x1="85.4" y1="233.2" x2="85.4" y2="261.6" stroke="#d0d0d0" stroke-width="0.5" />
<text x="75.4" y="247.9" font-size="1.8" fill="#444" textLength="19" lengthAdjust="spacingAndGlyphs" stroke="#444" stroke-width="0.05" >Zero cross at 4999</text>
<polyline points="41.5,243.7 43,245 46.5,246.2 55,246.6 128.8,246.7 130,247.2 130.3,251.5" fill="none" stroke="#a0a0a0" stroke-width="0.7" stroke-linejoin="round" />
<text x="44.6" y="242.6" font-size="7" fill="#111" textLength="36.6" lengthAdjust="spacingAndGlyphs" stroke="#111" stroke-width="0.07" >Depl. CD41+</text>
<text x="97.5" y="242.4" font-size="7" fill="#111" textLength="32.1" lengthAdjust="spacingAndGlyphs" stroke="#111" stroke-width="0.07" >Ctrl. CD41+</text>
<polyline points="41.5,175.6 42.5,175.2 43.7,175 45,175.8 46.5,176.3 48,176 49.4,176.9 52.3,177.7 100,204.2 107.7,208.5 110,209.5 113,210.4 119.2,213.6 122.3,212.3 125.4,211.2 127.7,212.3 130.4,213.8 130.8,184.2" fill="none" stroke="#1ee61a" stroke-width="1.3" stroke-linejoin="round" />
<text x="106.2" y="181.9" font-size="6.2" fill="#111" textLength="19.2" lengthAdjust="spacingAndGlyphs" stroke="#111" stroke-width="0.14" >p=0.01</text>
<text x="106.2" y="189.6" font-size="6.2" fill="#111" textLength="26.8" lengthAdjust="spacingAndGlyphs" stroke="#111" stroke-width="0.14" >NES -1.64</text>
<rect x="41" y="173.2" width="94.4" height="88.4" fill="none" stroke="#000" stroke-width="1.1" />
<line x1="37.8" y1="174" x2="41" y2="174" stroke="#000" stroke-width="0.9" />
<text x="33.6" y="175.6" font-size="4.8" text-anchor="end" fill="#222" stroke="#222" stroke-width="0.14" >0.2</text>
<line x1="37.8" y1="179.15" x2="41" y2="179.15" stroke="#000" stroke-width="0.9" />
<text x="33.6" y="180.75" font-size="4.8" text-anchor="end" fill="#222" stroke="#222" stroke-width="0.14" >0.1</text>
<line x1="37.8" y1="184.3" x2="41" y2="184.3" stroke="#000" stroke-width="0.9" />
<text x="33.6" y="185.9" font-size="4.8" text-anchor="end" fill="#222" stroke="#222" stroke-width="0.14" >0.0</text>
<line x1="37.8" y1="189.45" x2="41" y2="189.45" stroke="#000" stroke-width="0.9" />
<text x="33.6" y="191.05" font-size="4.8" text-anchor="end" fill="#222" stroke="#222" stroke-width="0.14" >-0.1</text>
<line x1="37.8" y1="194.6" x2="41" y2="194.6" stroke="#000" stroke-width="0.9" />
<text x="33.6" y="196.2" font-size="4.8" text-anchor="end" fill="#222" stroke="#222" stroke-width="0.14" >-0.2</text>
<line x1="37.8" y1="199.75" x2="41" y2="199.75" stroke="#000" stroke-width="0.9" />
<text x="33.6" y="201.35" font-size="4.8" text-anchor="end" fill="#222" stroke="#222" stroke-width="0.14" >-0.3</text>
<line x1="37.8" y1="204.9" x2="41" y2="204.9" stroke="#000" stroke-width="0.9" />
<text x="33.6" y="206.5" font-size="4.8" text-anchor="end" fill="#222" stroke="#222" stroke-width="0.14" >-0.4</text>
<line x1="37.8" y1="210.05" x2="41" y2="210.05" stroke="#000" stroke-width="0.9" />
<text x="33.6" y="211.65" font-size="4.8" text-anchor="end" fill="#222" stroke="#222" stroke-width="0.14" >-0.5</text>
<line x1="37.8" y1="215.2" x2="41" y2="215.2" stroke="#000" stroke-width="0.9" />
<text x="33.6" y="216.8" font-size="4.8" text-anchor="end" fill="#222" stroke="#222" stroke-width="0.14" >-0.6</text>
<line x1="37.8" y1="235.4" x2="41" y2="235.4" stroke="#000" stroke-width="0.9" />
<text x="33.6" y="237" font-size="4.8" text-anchor="end" fill="#222" stroke="#222" stroke-width="0.14" >20</text>
<line x1="37.8" y1="240.4" x2="41" y2="240.4" stroke="#000" stroke-width="0.9" />
<text x="33.6" y="242" font-size="4.8" text-anchor="end" fill="#222" stroke="#222" stroke-width="0.14" >10</text>
<line x1="37.8" y1="245.4" x2="41" y2="245.4" stroke="#000" stroke-width="0.9" />
<text x="33.6" y="247" font-size="4.8" text-anchor="end" fill="#222" stroke="#222" stroke-width="0.14" >0</text>
<line x1="37.8" y1="250.6" x2="41" y2="250.6" stroke="#000" stroke-width="0.9" />
<text x="33.6" y="252.2" font-size="4.8" text-anchor="end" fill="#222" stroke="#222" stroke-width="0.14" >-10</text>
<line x1="37.8" y1="255.8" x2="41" y2="255.8" stroke="#000" stroke-width="0.9" />
<text x="33.6" y="257.4" font-size="4.8" text-anchor="end" fill="#222" stroke="#222" stroke-width="0.14" >-20</text>
<line x1="37.8" y1="261" x2="41" y2="261" stroke="#000" stroke-width="0.9" />
<text x="33.6" y="262.6" font-size="4.8" text-anchor="end" fill="#222" stroke="#222" stroke-width="0.14" >-30</text>
<line x1="40.8" y1="261.6" x2="40.8" y2="263.8" stroke="#000" stroke-width="0.9" />
<text x="0" y="0" font-size="5.3" text-anchor="end" fill="#222" stroke="#222" stroke-width="0.14" transform="translate(42.4 269.6) rotate(-45)">0</text>
<line x1="49.74" y1="261.6" x2="49.74" y2="263.8" stroke="#000" stroke-width="0.9" />
<text x="0" y="0" font-size="5.3" text-anchor="end" fill="#222" stroke="#222" stroke-width="0.14" transform="translate(51.34 269.6) rotate(-45)">1,000</text>
<line x1="58.68" y1="261.6" x2="58.68" y2="263.8" stroke="#000" stroke-width="0.9" />
<text x="0" y="0" font-size="5.3" text-anchor="end" fill="#222" stroke="#222" stroke-width="0.14" transform="translate(60.28 269.6) rotate(-45)">2,000</text>
<line x1="67.62" y1="261.6" x2="67.62" y2="263.8" stroke="#000" stroke-width="0.9" />
<text x="0" y="0" font-size="5.3" text-anchor="end" fill="#222" stroke="#222" stroke-width="0.14" transform="translate(69.22 269.6) rotate(-45)">3,000</text>
<line x1="76.56" y1="261.6" x2="76.56" y2="263.8" stroke="#000" stroke-width="0.9" />
<text x="0" y="0" font-size="5.3" text-anchor="end" fill="#222" stroke="#222" stroke-width="0.14" transform="translate(78.16 269.6) rotate(-45)">4,000</text>
<line x1="85.5" y1="261.6" x2="85.5" y2="263.8" stroke="#000" stroke-width="0.9" />
<text x="0" y="0" font-size="5.3" text-anchor="end" fill="#222" stroke="#222" stroke-width="0.14" transform="translate(87.1 269.6) rotate(-45)">5,000</text>
<line x1="94.44" y1="261.6" x2="94.44" y2="263.8" stroke="#000" stroke-width="0.9" />
<text x="0" y="0" font-size="5.3" text-anchor="end" fill="#222" stroke="#222" stroke-width="0.14" transform="translate(96.04 269.6) rotate(-45)">6,000</text>
<line x1="103.38" y1="261.6" x2="103.38" y2="263.8" stroke="#000" stroke-width="0.9" />
<text x="0" y="0" font-size="5.3" text-anchor="end" fill="#222" stroke="#222" stroke-width="0.14" transform="translate(104.98 269.6) rotate(-45)">7,000</text>
<line x1="112.32" y1="261.6" x2="112.32" y2="263.8" stroke="#000" stroke-width="0.9" />
<text x="0" y="0" font-size="5.3" text-anchor="end" fill="#222" stroke="#222" stroke-width="0.14" transform="translate(113.92 269.6) rotate(-45)">8,000</text>
<line x1="121.26" y1="261.6" x2="121.26" y2="263.8" stroke="#000" stroke-width="0.9" />
<text x="0" y="0" font-size="5.3" text-anchor="end" fill="#222" stroke="#222" stroke-width="0.14" transform="translate(122.86 269.6) rotate(-45)">9,000</text>
<line x1="130.2" y1="261.6" x2="130.2" y2="263.8" stroke="#000" stroke-width="0.9" />
<text x="0" y="0" font-size="5.3" text-anchor="end" fill="#222" stroke="#222" stroke-width="0.14" transform="translate(131.8 269.6) rotate(-45)">10,000</text>
<text x="85" y="287.9" font-size="5.5" text-anchor="middle" fill="#222" textLength="44.2" lengthAdjust="spacingAndGlyphs" stroke="#222" stroke-width="0.14" >Rank in ordered dataset</text>
<text x="20.6" y="194.6" font-size="5.8" text-anchor="middle" fill="#222" textLength="46.6" lengthAdjust="spacingAndGlyphs" transform="rotate(-90 20.6 194.6)" stroke="#222" stroke-width="0.14" >Enrichment score (ES)</text>
<text x="13.9" y="245.4" font-size="5.8" text-anchor="middle" fill="#222" textLength="39.2" lengthAdjust="spacingAndGlyphs" transform="rotate(-90 13.9 245.4)" stroke="#222" stroke-width="0.14" >Ranked list metric</text>
<text x="20.8" y="246.4" font-size="5.8" text-anchor="middle" fill="#222" textLength="29.2" lengthAdjust="spacingAndGlyphs" transform="rotate(-90 20.8 246.4)" stroke="#222" stroke-width="0.14" >(PreRanked)</text>
<line x1="36" y1="295.8" x2="39.7" y2="295.8" stroke="#1ee61a" stroke-width="1.1" />
<text x="41" y="296.9" font-size="3.4" fill="#333" textLength="30" lengthAdjust="spacingAndGlyphs" stroke="#333" stroke-width="0.1" >Enrichment profile</text>
<line x1="77.7" y1="295.8" x2="81.2" y2="295.8" stroke="#777" stroke-width="0.6" />
<text x="83" y="296.9" font-size="3.4" fill="#333" textLength="6" lengthAdjust="spacingAndGlyphs" stroke="#333" stroke-width="0.1" >Hits</text>
<line x1="97.2" y1="295.8" x2="98.6" y2="295.8" stroke="#999" stroke-width="0.6" />
<line x1="99.6" y1="295.8" x2="101" y2="295.8" stroke="#999" stroke-width="0.6" />
<text x="102.5" y="296.9" font-size="3.4" fill="#333" textLength="38" lengthAdjust="spacingAndGlyphs" stroke="#333" stroke-width="0.1" >Ranking metric scores</text>
<text x="230.25" y="168.2" font-size="4.7" text-anchor="middle" fill="#222" textLength="82.1" lengthAdjust="spacingAndGlyphs" stroke="#222" stroke-width="0.14" >Enrichment plot: megakaryocytes.grp</text>
<line x1="200.65" y1="174.4" x2="200.65" y2="216.1" stroke="#ececec" stroke-width="0.5" />
<line x1="200.65" y1="233" x2="200.65" y2="261.3" stroke="#eeeeee" stroke-width="0.5" />
<line x1="217.8" y1="174.4" x2="217.8" y2="216.1" stroke="#ececec" stroke-width="0.5" />
<line x1="217.8" y1="233" x2="217.8" y2="261.3" stroke="#eeeeee" stroke-width="0.5" />
<line x1="234.95" y1="174.4" x2="234.95" y2="216.1" stroke="#ececec" stroke-width="0.5" />
<line x1="234.95" y1="233" x2="234.95" y2="261.3" stroke="#eeeeee" stroke-width="0.5" />
<line x1="252.1" y1="174.4" x2="252.1" y2="216.1" stroke="#ececec" stroke-width="0.5" />
<line x1="252.1" y1="233" x2="252.1" y2="261.3" stroke="#eeeeee" stroke-width="0.5" />
<line x1="269.25" y1="174.4" x2="269.25" y2="216.1" stroke="#ececec" stroke-width="0.5" />
<line x1="269.25" y1="233" x2="269.25" y2="261.3" stroke="#eeeeee" stroke-width="0.5" />
<line x1="183.6" y1="216.3" x2="277.1" y2="216.3" stroke="#f2f2f2" stroke-width="0.4" />
<line x1="183.6" y1="211.9" x2="277.1" y2="211.9" stroke="#f2f2f2" stroke-width="0.4" />
<line x1="183.6" y1="207.5" x2="277.1" y2="207.5" stroke="#f2f2f2" stroke-width="0.4" />
<line x1="183.6" y1="203.1" x2="277.1" y2="203.1" stroke="#f2f2f2" stroke-width="0.4" />
<line x1="183.6" y1="198.7" x2="277.1" y2="198.7" stroke="#f2f2f2" stroke-width="0.4" />
<line x1="183.6" y1="194.3" x2="277.1" y2="194.3" stroke="#f2f2f2" stroke-width="0.4" />
<line x1="183.6" y1="189.9" x2="277.1" y2="189.9" stroke="#f2f2f2" stroke-width="0.4" />
<line x1="183.6" y1="185.5" x2="277.1" y2="185.5" stroke="#f2f2f2" stroke-width="0.4" />
<line x1="183.6" y1="181.1" x2="277.1" y2="181.1" stroke="#f2f2f2" stroke-width="0.4" />
<line x1="183.6" y1="176.7" x2="277.1" y2="176.7" stroke="#f2f2f2" stroke-width="0.4" />
<line x1="183.6" y1="237.4" x2="277.1" y2="237.4" stroke="#f4f4f4" stroke-width="0.4" />
<line x1="183.6" y1="244" x2="277.1" y2="244" stroke="#f4f4f4" stroke-width="0.4" />
<line x1="183.6" y1="250.4" x2="277.1" y2="250.4" stroke="#f4f4f4" stroke-width="0.4" />
<line x1="183.6" y1="257" x2="277.1" y2="257" stroke="#f4f4f4" stroke-width="0.4" />
<line x1="183.6" y1="216" x2="277.1" y2="216" stroke="#d4d4d4" stroke-width="0.7" />
<line x1="183.6" y1="216.1" x2="277.1" y2="216.1" stroke="#e0e0e0" stroke-width="0.5" />
<rect x="184.2" y="216.4" width="4.6" height="13.6" fill="#9a9a9a" />
<line x1="185" y1="216.4" x2="185" y2="230" stroke="#777" stroke-width="0.5" />
<line x1="186.6" y1="216.4" x2="186.6" y2="230" stroke="#808080" stroke-width="0.5" />
<line x1="191" y1="216.4" x2="191" y2="230" stroke="#a4a4a4" stroke-width="1.3" />
<line x1="193.4" y1="216.4" x2="193.4" y2="230" stroke="#aaaaaa" stroke-width="0.8" />
<line x1="196.6" y1="216.4" x2="196.6" y2="230" stroke="#a4a4a4" stroke-width="1.3" />
<line x1="200.1" y1="216.4" x2="200.1" y2="230" stroke="#a8a8a8" stroke-width="1.3" />
<line x1="203.8" y1="216.4" x2="203.8" y2="230" stroke="#a8a8a8" stroke-width="1.7" />
<line x1="209.1" y1="216.4" x2="209.1" y2="230" stroke="#a8a8a8" stroke-width="1.3" />
<line x1="217.6" y1="216.4" x2="217.6" y2="230" stroke="#a0a0a0" stroke-width="0.9" />
<rect x="183.5" y="230" width="13.39" height="3" fill="#f03c4c" />
<rect x="196.84" y="230" width="6.27" height="3" fill="#f25060" />
<rect x="203.06" y="230" width="8.94" height="3" fill="#f26474" />
<rect x="211.95" y="230" width="15.7" height="3" fill="#f4aad6" />
<rect x="227.59" y="230" width="14.81" height="3" fill="#cacaf8" />
<rect x="242.35" y="230" width="9.3" height="3" fill="#b8b8f4" />
<rect x="251.6" y="230" width="5.74" height="3" fill="#7272ea" />
<rect x="257.29" y="230" width="12.58" height="3" fill="#4242e0" />
<rect x="269.82" y="230" width="2.63" height="3" fill="#0a0aa8" />
<text x="184.5" y="234.7" font-size="1.8" fill="#ff3030" textLength="31" lengthAdjust="spacingAndGlyphs" stroke="#ff3030" stroke-width="0.05" >'na_pos' (positively correlated)</text>
<text x="230.9" y="259.3" font-size="1.8" fill="#4040ff" textLength="32" lengthAdjust="spacingAndGlyphs" stroke="#4040ff" stroke-width="0.05" >'na_neg' (negatively correlated)</text>
<line x1="227.6" y1="233" x2="227.6" y2="261.3" stroke="#d0d0d0" stroke-width="0.5" />
<text x="217.4" y="247.6" font-size="1.8" fill="#444" textLength="19" lengthAdjust="spacingAndGlyphs" stroke="#444" stroke-width="0.05" >Zero cross at 6288</text>
<polyline points="183.9,249.4 186,250.6 195,251.2 271,251.6 272.2,252.4 272.5,257.2" fill="none" stroke="#a0a0a0" stroke-width="0.7" stroke-linejoin="round" />
<text x="185.8" y="241.5" font-size="7" fill="#111" textLength="36" lengthAdjust="spacingAndGlyphs" stroke="#111" stroke-width="0.07" >Depl. CD41+</text>
<text x="236.1" y="241.5" font-size="7" fill="#111" textLength="34.2" lengthAdjust="spacingAndGlyphs" stroke="#111" stroke-width="0.07" >Depl. CD41-</text>
<polyline points="183.9,179.2 184.5,177.8 185.3,176.9 187.2,176.3 189,176.5 190.5,176.9 272.3,215.8" fill="none" stroke="#1ee61a" stroke-width="1.3" stroke-linejoin="round" />
<text x="240" y="181.5" font-size="6.2" fill="#111" textLength="25.8" lengthAdjust="spacingAndGlyphs" stroke="#111" stroke-width="0.14" >p&lt;0.0001</text>
<text x="240" y="188.5" font-size="6.2" fill="#111" textLength="25" lengthAdjust="spacingAndGlyphs" stroke="#111" stroke-width="0.14" >NES 2.45</text>
<rect x="183.6" y="174.4" width="93.5" height="86.9" fill="none" stroke="#000" stroke-width="1.1" />
<line x1="180.4" y1="216.3" x2="183.6" y2="216.3" stroke="#000" stroke-width="0.9" />
<text x="176.2" y="0" font-size="4.8" text-anchor="end" fill="#222" stroke="#222" stroke-width="0.14" transform="translate(0 217.75) scale(1 0.88)">0.0</text>
<line x1="180.4" y1="211.9" x2="183.6" y2="211.9" stroke="#000" stroke-width="0.9" />
<text x="176.2" y="0" font-size="4.8" text-anchor="end" fill="#222" stroke="#222" stroke-width="0.14" transform="translate(0 213.35) scale(1 0.88)">0.1</text>
<line x1="180.4" y1="207.5" x2="183.6" y2="207.5" stroke="#000" stroke-width="0.9" />
<text x="176.2" y="0" font-size="4.8" text-anchor="end" fill="#222" stroke="#222" stroke-width="0.14" transform="translate(0 208.95) scale(1 0.88)">0.2</text>
<line x1="180.4" y1="203.1" x2="183.6" y2="203.1" stroke="#000" stroke-width="0.9" />
<text x="176.2" y="0" font-size="4.8" text-anchor="end" fill="#222" stroke="#222" stroke-width="0.14" transform="translate(0 204.55) scale(1 0.88)">0.3</text>
<line x1="180.4" y1="198.7" x2="183.6" y2="198.7" stroke="#000" stroke-width="0.9" />
<text x="176.2" y="0" font-size="4.8" text-anchor="end" fill="#222" stroke="#222" stroke-width="0.14" transform="translate(0 200.15) scale(1 0.88)">0.4</text>
<line x1="180.4" y1="194.3" x2="183.6" y2="194.3" stroke="#000" stroke-width="0.9" />
<text x="176.2" y="0" font-size="4.8" text-anchor="end" fill="#222" stroke="#222" stroke-width="0.14" transform="translate(0 195.75) scale(1 0.88)">0.5</text>
<line x1="180.4" y1="189.9" x2="183.6" y2="189.9" stroke="#000" stroke-width="0.9" />
<text x="176.2" y="0" font-size="4.8" text-anchor="end" fill="#222" stroke="#222" stroke-width="0.14" transform="translate(0 191.35) scale(1 0.88)">0.6</text>
<line x1="180.4" y1="185.5" x2="183.6" y2="185.5" stroke="#000" stroke-width="0.9" />
<text x="176.2" y="0" font-size="4.8" text-anchor="end" fill="#222" stroke="#222" stroke-width="0.14" transform="translate(0 186.95) scale(1 0.88)">0.7</text>
<line x1="180.4" y1="181.1" x2="183.6" y2="181.1" stroke="#000" stroke-width="0.9" />
<text x="176.2" y="0" font-size="4.8" text-anchor="end" fill="#222" stroke="#222" stroke-width="0.14" transform="translate(0 182.55) scale(1 0.88)">0.8</text>
<line x1="180.4" y1="176.7" x2="183.6" y2="176.7" stroke="#000" stroke-width="0.9" />
<text x="176.2" y="0" font-size="4.8" text-anchor="end" fill="#222" stroke="#222" stroke-width="0.14" transform="translate(0 178.15) scale(1 0.88)">0.9</text>
<line x1="180.4" y1="237.4" x2="183.6" y2="237.4" stroke="#000" stroke-width="0.9" />
<text x="176.2" y="239" font-size="4.8" text-anchor="end" fill="#222" stroke="#222" stroke-width="0.14" >50</text>
<line x1="180.4" y1="244" x2="183.6" y2="244" stroke="#000" stroke-width="0.9" />
<text x="176.2" y="245.6" font-size="4.8" text-anchor="end" fill="#222" stroke="#222" stroke-width="0.14" >25</text>
<line x1="180.4" y1="250.4" x2="183.6" y2="250.4" stroke="#000" stroke-width="0.9" />
<text x="176.2" y="252" font-size="4.8" text-anchor="end" fill="#222" stroke="#222" stroke-width="0.14" >0</text>
<line x1="180.4" y1="257" x2="183.6" y2="257" stroke="#000" stroke-width="0.9" />
<text x="176.2" y="258.6" font-size="4.8" text-anchor="end" fill="#222" stroke="#222" stroke-width="0.14" >-25</text>
<line x1="183.5" y1="261.3" x2="183.5" y2="263.5" stroke="#000" stroke-width="0.9" />
<text x="183.5" y="272" font-size="5" text-anchor="middle" fill="#222" stroke="#222" stroke-width="0.14" >0</text>
<line x1="200.65" y1="261.3" x2="200.65" y2="263.5" stroke="#000" stroke-width="0.9" />
<text x="200.65" y="272" font-size="5" text-anchor="middle" fill="#222" stroke="#222" stroke-width="0.14" >2,500</text>
<line x1="217.8" y1="261.3" x2="217.8" y2="263.5" stroke="#000" stroke-width="0.9" />
<text x="217.8" y="272" font-size="5" text-anchor="middle" fill="#222" stroke="#222" stroke-width="0.14" >5,000</text>
<line x1="234.95" y1="261.3" x2="234.95" y2="263.5" stroke="#000" stroke-width="0.9" />
<text x="234.95" y="272" font-size="5" text-anchor="middle" fill="#222" stroke="#222" stroke-width="0.14" >7,500</text>
<line x1="252.1" y1="261.3" x2="252.1" y2="263.5" stroke="#000" stroke-width="0.9" />
<text x="252.1" y="272" font-size="5" text-anchor="middle" fill="#222" stroke="#222" stroke-width="0.14" >10,000</text>
<line x1="269.25" y1="261.3" x2="269.25" y2="263.5" stroke="#000" stroke-width="0.9" />
<text x="269.25" y="272" font-size="5" text-anchor="middle" fill="#222" stroke="#222" stroke-width="0.14" >12,500</text>
<text x="230.45" y="281.4" font-size="5.5" text-anchor="middle" fill="#222" textLength="50.9" lengthAdjust="spacingAndGlyphs" stroke="#222" stroke-width="0.14" >Rank in ordered dataset</text>
<text x="164.9" y="194.5" font-size="5.8" text-anchor="middle" fill="#222" textLength="45.5" lengthAdjust="spacingAndGlyphs" transform="rotate(-90 164.9 194.5)" stroke="#222" stroke-width="0.14" >Enrichment score (ES)</text>
<text x="157.9" y="249" font-size="5.8" text-anchor="middle" fill="#222" textLength="38.5" lengthAdjust="spacingAndGlyphs" transform="rotate(-90 157.9 249)" stroke="#222" stroke-width="0.14" >Ranked list metric</text>
<text x="164.7" y="249" font-size="5.8" text-anchor="middle" fill="#222" textLength="30" lengthAdjust="spacingAndGlyphs" transform="rotate(-90 164.7 249)" stroke="#222" stroke-width="0.14" >(PreRanked)</text>
<line x1="178" y1="289.1" x2="181.7" y2="289.1" stroke="#1ee61a" stroke-width="1.1" />
<text x="183" y="290.2" font-size="3.4" fill="#333" textLength="30" lengthAdjust="spacingAndGlyphs" stroke="#333" stroke-width="0.1" >Enrichment profile</text>
<line x1="219.7" y1="289.1" x2="223.2" y2="289.1" stroke="#777" stroke-width="0.6" />
<text x="225" y="290.2" font-size="3.4" fill="#333" textLength="6" lengthAdjust="spacingAndGlyphs" stroke="#333" stroke-width="0.1" >Hits</text>
<line x1="239.2" y1="289.1" x2="240.6" y2="289.1" stroke="#999" stroke-width="0.6" />
<line x1="241.6" y1="289.1" x2="243" y2="289.1" stroke="#999" stroke-width="0.6" />
<text x="244.5" y="290.2" font-size="3.4" fill="#333" textLength="38" lengthAdjust="spacingAndGlyphs" stroke="#333" stroke-width="0.1" >Ranking metric scores</text>
<rect x="299.8" y="59.4" width="16.47" height="4.6" fill="#ffff00" />
<rect x="315.97" y="59.4" width="16.47" height="4.6" fill="#ffff00" />
<rect x="332.14" y="59.4" width="16.47" height="4.6" fill="#ffff00" />
<rect x="348.31" y="59.4" width="16.47" height="4.6" fill="#00ee00" />
<rect x="364.48" y="59.4" width="16.47" height="4.6" fill="#00ee00" />
<rect x="380.65" y="59.4" width="16.47" height="4.6" fill="#00ee00" />
<rect x="396.82" y="59.4" width="16.47" height="4.6" fill="#ffb8c8" />
<rect x="412.99" y="59.4" width="16.47" height="4.6" fill="#ffb8c8" />
<rect x="429.16" y="59.4" width="16.47" height="4.6" fill="#a01818" />
<rect x="445.33" y="59.4" width="16.47" height="4.6" fill="#a01818" />
<rect x="461.5" y="59.4" width="16.47" height="4.6" fill="#a01818" />
<rect x="299.8" y="64" width="16.47" height="4.4" fill="#cdbcfa" />
<rect x="315.97" y="64" width="16.47" height="4.4" fill="#e6defc" />
<rect x="332.14" y="64" width="16.47" height="4.4" fill="#fef0e8" />
<rect x="348.31" y="64" width="16.47" height="4.4" fill="#2a10f0" />
<rect x="364.48" y="64" width="16.47" height="4.4" fill="#a088f6" />
<rect x="380.65" y="64" width="16.47" height="4.4" fill="#cdbcfa" />
<rect x="396.82" y="64" width="16.47" height="4.4" fill="#e6defc" />
<rect x="412.99" y="64" width="16.47" height="4.4" fill="#fc6a4a" />
<rect x="429.16" y="64" width="16.47" height="4.4" fill="#fca486" />
<rect x="445.33" y="64" width="16.47" height="4.4" fill="#fc8666" />
<rect x="461.5" y="64" width="16.47" height="4.4" fill="#fc8666" />
<rect x="299.8" y="68.1" width="16.47" height="4.4" fill="#b49cf8" />
<rect x="315.97" y="68.1" width="16.47" height="4.4" fill="#fdd8c8" />
<rect x="332.14" y="68.1" width="16.47" height="4.4" fill="#fef0e8" />
<rect x="348.31" y="68.1" width="16.47" height="4.4" fill="#2a10f0" />
<rect x="364.48" y="68.1" width="16.47" height="4.4" fill="#cdbcfa" />
<rect x="380.65" y="68.1" width="16.47" height="4.4" fill="#b49cf8" />
<rect x="396.82" y="68.1" width="16.47" height="4.4" fill="#e6defc" />
<rect x="412.99" y="68.1" width="16.47" height="4.4" fill="#fcc0a4" />
<rect x="429.16" y="68.1" width="16.47" height="4.4" fill="#fca486" />
<rect x="445.33" y="68.1" width="16.47" height="4.4" fill="#fc6a4a" />
<rect x="461.5" y="68.1" width="16.47" height="4.4" fill="#fc8666" />
<rect x="299.8" y="72.2" width="16.47" height="4.4" fill="#b49cf8" />
<rect x="315.97" y="72.2" width="16.47" height="4.4" fill="#fdfafb" />
<rect x="332.14" y="72.2" width="16.47" height="4.4" fill="#b49cf8" />
<rect x="348.31" y="72.2" width="16.47" height="4.4" fill="#b49cf8" />
<rect x="364.48" y="72.2" width="16.47" height="4.4" fill="#cdbcfa" />
<rect x="380.65" y="72.2" width="16.47" height="4.4" fill="#8870f4" />
<rect x="396.82" y="72.2" width="16.47" height="4.4" fill="#fef0e8" />
<rect x="412.99" y="72.2" width="16.47" height="4.4" fill="#fcc0a4" />
<rect x="429.16" y="72.2" width="16.47" height="4.4" fill="#fc8666" />
<rect x="445.33" y="72.2" width="16.47" height="4.4" fill="#fb4e2e" />
<rect x="461.5" y="72.2" width="16.47" height="4.4" fill="#fca486" />
<rect x="299.8" y="76.3" width="16.47" height="4.4" fill="#b49cf8" />
<rect x="315.97" y="76.3" width="16.47" height="4.4" fill="#cdbcfa" />
<rect x="332.14" y="76.3" width="16.47" height="4.4" fill="#a088f6" />
<rect x="348.31" y="76.3" width="16.47" height="4.4" fill="#e6defc" />
<rect x="364.48" y="76.3" width="16.47" height="4.4" fill="#8870f4" />
<rect x="380.65" y="76.3" width="16.47" height="4.4" fill="#b49cf8" />
<rect x="396.82" y="76.3" width="16.47" height="4.4" fill="#fcc0a4" />
<rect x="412.99" y="76.3" width="16.47" height="4.4" fill="#fc6a4a" />
<rect x="429.16" y="76.3" width="16.47" height="4.4" fill="#fdd8c8" />
<rect x="445.33" y="76.3" width="16.47" height="4.4" fill="#fb4e2e" />
<rect x="461.5" y="76.3" width="16.47" height="4.4" fill="#fca486" />
<rect x="299.8" y="80.4" width="16.47" height="4.4" fill="#fdfafb" />
<rect x="315.97" y="80.4" width="16.47" height="4.4" fill="#fcc0a4" />
<rect x="332.14" y="80.4" width="16.47" height="4.4" fill="#cdbcfa" />
<rect x="348.31" y="80.4" width="16.47" height="4.4" fill="#a088f6" />
<rect x="364.48" y="80.4" width="16.47" height="4.4" fill="#8870f4" />
<rect x="380.65" y="80.4" width="16.47" height="4.4" fill="#b49cf8" />
<rect x="396.82" y="80.4" width="16.47" height="4.4" fill="#fdfafb" />
<rect x="412.99" y="80.4" width="16.47" height="4.4" fill="#e6defc" />
<rect x="429.16" y="80.4" width="16.47" height="4.4" fill="#fcc0a4" />
<rect x="445.33" y="80.4" width="16.47" height="4.4" fill="#fb4e2e" />
<rect x="461.5" y="80.4" width="16.47" height="4.4" fill="#fb4e2e" />
<rect x="299.8" y="84.5" width="16.47" height="4.4" fill="#fcc0a4" />
<rect x="315.97" y="84.5" width="16.47" height="4.4" fill="#fcc0a4" />
<rect x="332.14" y="84.5" width="16.47" height="4.4" fill="#cdbcfa" />
<rect x="348.31" y="84.5" width="16.47" height="4.4" fill="#a088f6" />
<rect x="364.48" y="84.5" width="16.47" height="4.4" fill="#8870f4" />
<rect x="380.65" y="84.5" width="16.47" height="4.4" fill="#8870f4" />
<rect x="396.82" y="84.5" width="16.47" height="4.4" fill="#fcc0a4" />
<rect x="412.99" y="84.5" width="16.47" height="4.4" fill="#e6defc" />
<rect x="429.16" y="84.5" width="16.47" height="4.4" fill="#fc6a4a" />
<rect x="445.33" y="84.5" width="16.47" height="4.4" fill="#fc6a4a" />
<rect x="461.5" y="84.5" width="16.47" height="4.4" fill="#fdd8c8" />
<rect x="299.8" y="88.6" width="16.47" height="4.4" fill="#fdd8c8" />
<rect x="315.97" y="88.6" width="16.47" height="4.4" fill="#cdbcfa" />
<rect x="332.14" y="88.6" width="16.47" height="4.4" fill="#cdbcfa" />
<rect x="348.31" y="88.6" width="16.47" height="4.4" fill="#cdbcfa" />
<rect x="364.48" y="88.6" width="16.47" height="4.4" fill="#cdbcfa" />
<rect x="380.65" y="88.6" width="16.47" height="4.4" fill="#fdfafb" />
<rect x="396.82" y="88.6" width="16.47" height="4.4" fill="#cdbcfa" />
<rect x="412.99" y="88.6" width="16.47" height="4.4" fill="#fef0e8" />
<rect x="429.16" y="88.6" width="16.47" height="4.4" fill="#f80a02" />
<rect x="445.33" y="88.6" width="16.47" height="4.4" fill="#cdbcfa" />
<rect x="461.5" y="88.6" width="16.47" height="4.4" fill="#fdd8c8" />
<rect x="299.8" y="92.7" width="16.47" height="4.4" fill="#fdd8c8" />
<rect x="315.97" y="92.7" width="16.47" height="4.4" fill="#cdbcfa" />
<rect x="332.14" y="92.7" width="16.47" height="4.4" fill="#cdbcfa" />
<rect x="348.31" y="92.7" width="16.47" height="4.4" fill="#e6defc" />
<rect x="364.48" y="92.7" width="16.47" height="4.4" fill="#cdbcfa" />
<rect x="380.65" y="92.7" width="16.47" height="4.4" fill="#fdfafb" />
<rect x="396.82" y="92.7" width="16.47" height="4.4" fill="#cdbcfa" />
<rect x="412.99" y="92.7" width="16.47" height="4.4" fill="#fcc0a4" />
<rect x="429.16" y="92.7" width="16.47" height="4.4" fill="#f80a02" />
<rect x="445.33" y="92.7" width="16.47" height="4.4" fill="#cdbcfa" />
<rect x="461.5" y="92.7" width="16.47" height="4.4" fill="#fef0e8" />
<rect x="299.8" y="96.8" width="16.47" height="4.4" fill="#e6defc" />
<rect x="315.97" y="96.8" width="16.47" height="4.4" fill="#fef0e8" />
<rect x="332.14" y="96.8" width="16.47" height="4.4" fill="#b49cf8" />
<rect x="348.31" y="96.8" width="16.47" height="4.4" fill="#b49cf8" />
<rect x="364.48" y="96.8" width="16.47" height="4.4" fill="#b49cf8" />
<rect x="380.65" y="96.8" width="16.47" height="4.4" fill="#b49cf8" />
<rect x="396.82" y="96.8" width="16.47" height="4.4" fill="#fb4e2e" />
<rect x="412.99" y="96.8" width="16.47" height="4.4" fill="#b49cf8" />
<rect x="429.16" y="96.8" width="16.47" height="4.4" fill="#f80a02" />
<rect x="445.33" y="96.8" width="16.47" height="4.4" fill="#fdd8c8" />
<rect x="461.5" y="96.8" width="16.47" height="4.4" fill="#fdd8c8" />
<rect x="299.8" y="100.9" width="16.47" height="4.4" fill="#fc8666" />
<rect x="315.97" y="100.9" width="16.47" height="4.4" fill="#fcc0a4" />
<rect x="332.14" y="100.9" width="16.47" height="4.4" fill="#b49cf8" />
<rect x="348.31" y="100.9" width="16.47" height="4.4" fill="#a088f6" />
<rect x="364.48" y="100.9" width="16.47" height="4.4" fill="#e6defc" />
<rect x="380.65" y="100.9" width="16.47" height="4.4" fill="#2a10f0" />
<rect x="396.82" y="100.9" width="16.47" height="4.4" fill="#fca486" />
<rect x="412.99" y="100.9" width="16.47" height="4.4" fill="#e6defc" />
<rect x="429.16" y="100.9" width="16.47" height="4.4" fill="#fc6a4a" />
<rect x="445.33" y="100.9" width="16.47" height="4.4" fill="#fef0e8" />
<rect x="461.5" y="100.9" width="16.47" height="4.4" fill="#fdd8c8" />
<rect x="299.8" y="105" width="16.47" height="4.4" fill="#fdfafb" />
<rect x="315.97" y="105" width="16.47" height="4.4" fill="#b49cf8" />
<rect x="332.14" y="105" width="16.47" height="4.4" fill="#2a10f0" />
<rect x="348.31" y="105" width="16.47" height="4.4" fill="#a088f6" />
<rect x="364.48" y="105" width="16.47" height="4.4" fill="#fef0e8" />
<rect x="380.65" y="105" width="16.47" height="4.4" fill="#e6defc" />
<rect x="396.82" y="105" width="16.47" height="4.4" fill="#fb4e2e" />
<rect x="412.99" y="105" width="16.47" height="4.4" fill="#fca486" />
<rect x="429.16" y="105" width="16.47" height="4.4" fill="#fdfafb" />
<rect x="445.33" y="105" width="16.47" height="4.4" fill="#fca486" />
<rect x="461.5" y="105" width="16.47" height="4.4" fill="#fdd8c8" />
<rect x="299.8" y="109.1" width="16.47" height="4.4" fill="#fef0e8" />
<rect x="315.97" y="109.1" width="16.47" height="4.4" fill="#a088f6" />
<rect x="332.14" y="109.1" width="16.47" height="4.4" fill="#cdbcfa" />
<rect x="348.31" y="109.1" width="16.47" height="4.4" fill="#b49cf8" />
<rect x="364.48" y="109.1" width="16.47" height="4.4" fill="#cdbcfa" />
<rect x="380.65" y="109.1" width="16.47" height="4.4" fill="#e6defc" />
<rect x="396.82" y="109.1" width="16.47" height="4.4" fill="#f80a02" />
<rect x="412.99" y="109.1" width="16.47" height="4.4" fill="#fca486" />
<rect x="429.16" y="109.1" width="16.47" height="4.4" fill="#fc8666" />
<rect x="445.33" y="109.1" width="16.47" height="4.4" fill="#b49cf8" />
<rect x="461.5" y="109.1" width="16.47" height="4.4" fill="#fef0e8" />
<rect x="299.8" y="113.2" width="16.47" height="4.4" fill="#fef0e8" />
<rect x="315.97" y="113.2" width="16.47" height="4.4" fill="#e6defc" />
<rect x="332.14" y="113.2" width="16.47" height="4.4" fill="#cdbcfa" />
<rect x="348.31" y="113.2" width="16.47" height="4.4" fill="#b49cf8" />
<rect x="364.48" y="113.2" width="16.47" height="4.4" fill="#8870f4" />
<rect x="380.65" y="113.2" width="16.47" height="4.4" fill="#8870f4" />
<rect x="396.82" y="113.2" width="16.47" height="4.4" fill="#fcc0a4" />
<rect x="412.99" y="113.2" width="16.47" height="4.4" fill="#fca486" />
<rect x="429.16" y="113.2" width="16.47" height="4.4" fill="#fb4e2e" />
<rect x="445.33" y="113.2" width="16.47" height="4.4" fill="#fcc0a4" />
<rect x="461.5" y="113.2" width="16.47" height="4.4" fill="#fef0e8" />
<rect x="299.8" y="117.3" width="16.47" height="4.4" fill="#cdbcfa" />
<rect x="315.97" y="117.3" width="16.47" height="4.4" fill="#fdd8c8" />
<rect x="332.14" y="117.3" width="16.47" height="4.4" fill="#a088f6" />
<rect x="348.31" y="117.3" width="16.47" height="4.4" fill="#b49cf8" />
<rect x="364.48" y="117.3" width="16.47" height="4.4" fill="#b49cf8" />
<rect x="380.65" y="117.3" width="16.47" height="4.4" fill="#a088f6" />
<rect x="396.82" y="117.3" width="16.47" height="4.4" fill="#fdd8c8" />
<rect x="412.99" y="117.3" width="16.47" height="4.4" fill="#fca486" />
<rect x="429.16" y="117.3" width="16.47" height="4.4" fill="#f80a02" />
<rect x="445.33" y="117.3" width="16.47" height="4.4" fill="#fdfafb" />
<rect x="461.5" y="117.3" width="16.47" height="4.4" fill="#fca486" />
<rect x="299.8" y="121.4" width="16.47" height="4.4" fill="#cdbcfa" />
<rect x="315.97" y="121.4" width="16.47" height="4.4" fill="#a088f6" />
<rect x="332.14" y="121.4" width="16.47" height="4.4" fill="#a088f6" />
<rect x="348.31" y="121.4" width="16.47" height="4.4" fill="#e6defc" />
<rect x="364.48" y="121.4" width="16.47" height="4.4" fill="#e6defc" />
<rect x="380.65" y="121.4" width="16.47" height="4.4" fill="#2a10f0" />
<rect x="396.82" y="121.4" width="16.47" height="4.4" fill="#fca486" />
<rect x="412.99" y="121.4" width="16.47" height="4.4" fill="#fca486" />
<rect x="429.16" y="121.4" width="16.47" height="4.4" fill="#fca486" />
<rect x="445.33" y="121.4" width="16.47" height="4.4" fill="#fca486" />
<rect x="461.5" y="121.4" width="16.47" height="4.4" fill="#fca486" />
<rect x="299.8" y="125.5" width="16.47" height="4.4" fill="#cdbcfa" />
<rect x="315.97" y="125.5" width="16.47" height="4.4" fill="#b49cf8" />
<rect x="332.14" y="125.5" width="16.47" height="4.4" fill="#fdfafb" />
<rect x="348.31" y="125.5" width="16.47" height="4.4" fill="#a088f6" />
<rect x="364.48" y="125.5" width="16.47" height="4.4" fill="#e6defc" />
<rect x="380.65" y="125.5" width="16.47" height="4.4" fill="#2a10f0" />
<rect x="396.82" y="125.5" width="16.47" height="4.4" fill="#fca486" />
<rect x="412.99" y="125.5" width="16.47" height="4.4" fill="#fc6a4a" />
<rect x="429.16" y="125.5" width="16.47" height="4.4" fill="#fca486" />
<rect x="445.33" y="125.5" width="16.47" height="4.4" fill="#fdfafb" />
<rect x="461.5" y="125.5" width="16.47" height="4.4" fill="#fcc0a4" />
<rect x="299.8" y="129.6" width="16.47" height="4.4" fill="#2a10f0" />
<rect x="315.97" y="129.6" width="16.47" height="4.4" fill="#e6defc" />
<rect x="332.14" y="129.6" width="16.47" height="4.4" fill="#b49cf8" />
<rect x="348.31" y="129.6" width="16.47" height="4.4" fill="#fca486" />
<rect x="364.48" y="129.6" width="16.47" height="4.4" fill="#b49cf8" />
<rect x="380.65" y="129.6" width="16.47" height="4.4" fill="#fca486" />
<rect x="396.82" y="129.6" width="16.47" height="4.4" fill="#fc6a4a" />
<rect x="412.99" y="129.6" width="16.47" height="4.4" fill="#fef0e8" />
<rect x="429.16" y="129.6" width="16.47" height="4.4" fill="#e6defc" />
<rect x="445.33" y="129.6" width="16.47" height="4.4" fill="#fdd8c8" />
<rect x="461.5" y="129.6" width="16.47" height="4.4" fill="#fdd8c8" />
<rect x="299.8" y="133.7" width="16.47" height="4.4" fill="#b49cf8" />
<rect x="315.97" y="133.7" width="16.47" height="4.4" fill="#cdbcfa" />
<rect x="332.14" y="133.7" width="16.47" height="4.4" fill="#b49cf8" />
<rect x="348.31" y="133.7" width="16.47" height="4.4" fill="#e6defc" />
<rect x="364.48" y="133.7" width="16.47" height="4.4" fill="#b49cf8" />
<rect x="380.65" y="133.7" width="16.47" height="4.4" fill="#fc6a4a" />
<rect x="396.82" y="133.7" width="16.47" height="4.4" fill="#fcc0a4" />
<rect x="412.99" y="133.7" width="16.47" height="4.4" fill="#e6defc" />
<rect x="429.16" y="133.7" width="16.47" height="4.4" fill="#e6defc" />
<rect x="445.33" y="133.7" width="16.47" height="4.4" fill="#fb4e2e" />
<rect x="461.5" y="133.7" width="16.47" height="4.4" fill="#fcc0a4" />
<rect x="299.8" y="137.8" width="16.47" height="4.4" fill="#e6defc" />
<rect x="315.97" y="137.8" width="16.47" height="4.4" fill="#b49cf8" />
<rect x="332.14" y="137.8" width="16.47" height="4.4" fill="#b49cf8" />
<rect x="348.31" y="137.8" width="16.47" height="4.4" fill="#fcc0a4" />
<rect x="364.48" y="137.8" width="16.47" height="4.4" fill="#fcc0a4" />
<rect x="380.65" y="137.8" width="16.47" height="4.4" fill="#2a10f0" />
<rect x="396.82" y="137.8" width="16.47" height="4.4" fill="#fcc0a4" />
<rect x="412.99" y="137.8" width="16.47" height="4.4" fill="#fc6a4a" />
<rect x="429.16" y="137.8" width="16.47" height="4.4" fill="#cdbcfa" />
<rect x="445.33" y="137.8" width="16.47" height="4.4" fill="#fca486" />
<rect x="461.5" y="137.8" width="16.47" height="4.4" fill="#e6defc" />
<rect x="299.8" y="141.9" width="16.47" height="4.4" fill="#a088f6" />
<rect x="315.97" y="141.9" width="16.47" height="4.4" fill="#b49cf8" />
<rect x="332.14" y="141.9" width="16.47" height="4.4" fill="#b49cf8" />
<rect x="348.31" y="141.9" width="16.47" height="4.4" fill="#cdbcfa" />
<rect x="364.48" y="141.9" width="16.47" height="4.4" fill="#fcc0a4" />
<rect x="380.65" y="141.9" width="16.47" height="4.4" fill="#e6defc" />
<rect x="396.82" y="141.9" width="16.47" height="4.4" fill="#e6defc" />
<rect x="412.99" y="141.9" width="16.47" height="4.4" fill="#fc8666" />
<rect x="429.16" y="141.9" width="16.47" height="4.4" fill="#e6defc" />
<rect x="445.33" y="141.9" width="16.47" height="4.4" fill="#f80a02" />
<rect x="461.5" y="141.9" width="16.47" height="4.4" fill="#fdd8c8" />
<rect x="299.8" y="146" width="16.47" height="4.4" fill="#2a10f0" />
<rect x="315.97" y="146" width="16.47" height="4.4" fill="#8870f4" />
<rect x="332.14" y="146" width="16.47" height="4.4" fill="#e6defc" />
<rect x="348.31" y="146" width="16.47" height="4.4" fill="#e6defc" />
<rect x="364.48" y="146" width="16.47" height="4.4" fill="#e6defc" />
<rect x="380.65" y="146" width="16.47" height="4.4" fill="#fdd8c8" />
<rect x="396.82" y="146" width="16.47" height="4.4" fill="#fca486" />
<rect x="412.99" y="146" width="16.47" height="4.4" fill="#fc8666" />
<rect x="429.16" y="146" width="16.47" height="4.4" fill="#fef0e8" />
<rect x="445.33" y="146" width="16.47" height="4.4" fill="#fef0e8" />
<rect x="461.5" y="146" width="16.47" height="4.4" fill="#fc6a4a" />
<rect x="299.8" y="150.1" width="16.47" height="4.4" fill="#b49cf8" />
<rect x="315.97" y="150.1" width="16.47" height="4.4" fill="#8870f4" />
<rect x="332.14" y="150.1" width="16.47" height="4.4" fill="#b49cf8" />
<rect x="348.31" y="150.1" width="16.47" height="4.4" fill="#fdfafb" />
<rect x="364.48" y="150.1" width="16.47" height="4.4" fill="#a088f6" />
<rect x="380.65" y="150.1" width="16.47" height="4.4" fill="#fdfafb" />
<rect x="396.82" y="150.1" width="16.47" height="4.4" fill="#fca486" />
<rect x="412.99" y="150.1" width="16.47" height="4.4" fill="#fc6a4a" />
<rect x="429.16" y="150.1" width="16.47" height="4.4" fill="#fcc0a4" />
<rect x="445.33" y="150.1" width="16.47" height="4.4" fill="#fdd8c8" />
<rect x="461.5" y="150.1" width="16.47" height="4.4" fill="#fca486" />
<rect x="299.8" y="154.2" width="16.47" height="4.4" fill="#b49cf8" />
<rect x="315.97" y="154.2" width="16.47" height="4.4" fill="#a088f6" />
<rect x="332.14" y="154.2" width="16.47" height="4.4" fill="#cdbcfa" />
<rect x="348.31" y="154.2" width="16.47" height="4.4" fill="#b49cf8" />
<rect x="364.48" y="154.2" width="16.47" height="4.4" fill="#cdbcfa" />
<rect x="380.65" y="154.2" width="16.47" height="4.4" fill="#e6defc" />
<rect x="396.82" y="154.2" width="16.47" height="4.4" fill="#fc8666" />
<rect x="412.99" y="154.2" width="16.47" height="4.4" fill="#fc6a4a" />
<rect x="429.16" y="154.2" width="16.47" height="4.4" fill="#fdfafb" />
<rect x="445.33" y="154.2" width="16.47" height="4.4" fill="#fcc0a4" />
<rect x="461.5" y="154.2" width="16.47" height="4.4" fill="#fc8666" />
<rect x="299.8" y="158.3" width="16.47" height="4.4" fill="#a088f6" />
<rect x="315.97" y="158.3" width="16.47" height="4.4" fill="#b49cf8" />
<rect x="332.14" y="158.3" width="16.47" height="4.4" fill="#a088f6" />
<rect x="348.31" y="158.3" width="16.47" height="4.4" fill="#b49cf8" />
<rect x="364.48" y="158.3" width="16.47" height="4.4" fill="#fdfafb" />
<rect x="380.65" y="158.3" width="16.47" height="4.4" fill="#cdbcfa" />
<rect x="396.82" y="158.3" width="16.47" height="4.4" fill="#fc8666" />
<rect x="412.99" y="158.3" width="16.47" height="4.4" fill="#fc6a4a" />
<rect x="429.16" y="158.3" width="16.47" height="4.4" fill="#fcc0a4" />
<rect x="445.33" y="158.3" width="16.47" height="4.4" fill="#fdd8c8" />
<rect x="461.5" y="158.3" width="16.47" height="4.4" fill="#fca486" />
<rect x="299.8" y="162.4" width="16.47" height="4.4" fill="#a088f6" />
<rect x="315.97" y="162.4" width="16.47" height="4.4" fill="#fef0e8" />
<rect x="332.14" y="162.4" width="16.47" height="4.4" fill="#a088f6" />
<rect x="348.31" y="162.4" width="16.47" height="4.4" fill="#fef0e8" />
<rect x="364.48" y="162.4" width="16.47" height="4.4" fill="#fdfafb" />
<rect x="380.65" y="162.4" width="16.47" height="4.4" fill="#e6defc" />
<rect x="396.82" y="162.4" width="16.47" height="4.4" fill="#fcc0a4" />
<rect x="412.99" y="162.4" width="16.47" height="4.4" fill="#f80a02" />
<rect x="429.16" y="162.4" width="16.47" height="4.4" fill="#e6defc" />
<rect x="445.33" y="162.4" width="16.47" height="4.4" fill="#cdbcfa" />
<rect x="461.5" y="162.4" width="16.47" height="4.4" fill="#fca486" />
<rect x="299.8" y="166.5" width="16.47" height="4.4" fill="#a088f6" />
<rect x="315.97" y="166.5" width="16.47" height="4.4" fill="#a088f6" />
<rect x="332.14" y="166.5" width="16.47" height="4.4" fill="#b49cf8" />
<rect x="348.31" y="166.5" width="16.47" height="4.4" fill="#fef0e8" />
<rect x="364.48" y="166.5" width="16.47" height="4.4" fill="#a088f6" />
<rect x="380.65" y="166.5" width="16.47" height="4.4" fill="#fc8666" />
<rect x="396.82" y="166.5" width="16.47" height="4.4" fill="#fca486" />
<rect x="412.99" y="166.5" width="16.47" height="4.4" fill="#fc8666" />
<rect x="429.16" y="166.5" width="16.47" height="4.4" fill="#fcc0a4" />
<rect x="445.33" y="166.5" width="16.47" height="4.4" fill="#b49cf8" />
<rect x="461.5" y="166.5" width="16.47" height="4.4" fill="#fcc0a4" />
<rect x="299.8" y="170.6" width="16.47" height="4.4" fill="#a088f6" />
<rect x="315.97" y="170.6" width="16.47" height="4.4" fill="#8870f4" />
<rect x="332.14" y="170.6" width="16.47" height="4.4" fill="#a088f6" />
<rect x="348.31" y="170.6" width="16.47" height="4.4" fill="#fdfafb" />
<rect x="364.48" y="170.6" width="16.47" height="4.4" fill="#fef0e8" />
<rect x="380.65" y="170.6" width="16.47" height="4.4" fill="#fdd8c8" />
<rect x="396.82" y="170.6" width="16.47" height="4.4" fill="#fcc0a4" />
<rect x="412.99" y="170.6" width="16.47" height="4.4" fill="#f80a02" />
<rect x="429.16" y="170.6" width="16.47" height="4.4" fill="#fdfafb" />
<rect x="445.33" y="170.6" width="16.47" height="4.4" fill="#fdfafb" />
<rect x="461.5" y="170.6" width="16.47" height="4.4" fill="#fcc0a4" />
<rect x="299.8" y="174.7" width="16.47" height="4.4" fill="#a088f6" />
<rect x="315.97" y="174.7" width="16.47" height="4.4" fill="#8870f4" />
<rect x="332.14" y="174.7" width="16.47" height="4.4" fill="#8870f4" />
<rect x="348.31" y="174.7" width="16.47" height="4.4" fill="#e6defc" />
<rect x="364.48" y="174.7" width="16.47" height="4.4" fill="#fef0e8" />
<rect x="380.65" y="174.7" width="16.47" height="4.4" fill="#fef0e8" />
<rect x="396.82" y="174.7" width="16.47" height="4.4" fill="#fc8666" />
<rect x="412.99" y="174.7" width="16.47" height="4.4" fill="#fc8666" />
<rect x="429.16" y="174.7" width="16.47" height="4.4" fill="#fcc0a4" />
<rect x="445.33" y="174.7" width="16.47" height="4.4" fill="#fdfafb" />
<rect x="461.5" y="174.7" width="16.47" height="4.4" fill="#fcc0a4" />
<rect x="299.8" y="178.8" width="16.47" height="4.4" fill="#b49cf8" />
<rect x="315.97" y="178.8" width="16.47" height="4.4" fill="#b49cf8" />
<rect x="332.14" y="178.8" width="16.47" height="4.4" fill="#a088f6" />
<rect x="348.31" y="178.8" width="16.47" height="4.4" fill="#e6defc" />
<rect x="364.48" y="178.8" width="16.47" height="4.4" fill="#fef0e8" />
<rect x="380.65" y="178.8" width="16.47" height="4.4" fill="#cdbcfa" />
<rect x="396.82" y="178.8" width="16.47" height="4.4" fill="#fc8666" />
<rect x="412.99" y="178.8" width="16.47" height="4.4" fill="#f80a02" />
<rect x="429.16" y="178.8" width="16.47" height="4.4" fill="#fef0e8" />
<rect x="445.33" y="178.8" width="16.47" height="4.4" fill="#e6defc" />
<rect x="461.5" y="178.8" width="16.47" height="4.4" fill="#fcc0a4" />
<rect x="299.8" y="182.9" width="16.47" height="4.4" fill="#cdbcfa" />
<rect x="315.97" y="182.9" width="16.47" height="4.4" fill="#b49cf8" />
<rect x="332.14" y="182.9" width="16.47" height="4.4" fill="#2a10f0" />
<rect x="348.31" y="182.9" width="16.47" height="4.4" fill="#e6defc" />
<rect x="364.48" y="182.9" width="16.47" height="4.4" fill="#fdfafb" />
<rect x="380.65" y="182.9" width="16.47" height="4.4" fill="#fcc0a4" />
<rect x="396.82" y="182.9" width="16.47" height="4.4" fill="#fc6a4a" />
<rect x="412.99" y="182.9" width="16.47" height="4.4" fill="#fc6a4a" />
<rect x="429.16" y="182.9" width="16.47" height="4.4" fill="#e6defc" />
<rect x="445.33" y="182.9" width="16.47" height="4.4" fill="#fef0e8" />
<rect x="461.5" y="182.9" width="16.47" height="4.4" fill="#fdfafb" />
<rect x="299.8" y="187" width="16.47" height="4.4" fill="#a088f6" />
<rect x="315.97" y="187" width="16.47" height="4.4" fill="#a088f6" />
<rect x="332.14" y="187" width="16.47" height="4.4" fill="#a088f6" />
<rect x="348.31" y="187" width="16.47" height="4.4" fill="#e6defc" />
<rect x="364.48" y="187" width="16.47" height="4.4" fill="#fdfafb" />
<rect x="380.65" y="187" width="16.47" height="4.4" fill="#fdfafb" />
<rect x="396.82" y="187" width="16.47" height="4.4" fill="#fc6a4a" />
<rect x="412.99" y="187" width="16.47" height="4.4" fill="#fc8666" />
<rect x="429.16" y="187" width="16.47" height="4.4" fill="#e6defc" />
<rect x="445.33" y="187" width="16.47" height="4.4" fill="#fca486" />
<rect x="461.5" y="187" width="16.47" height="4.4" fill="#fca486" />
<path d="M307.88,59.4 V57.2 H324.06 V59.4" fill="none" stroke="#cfcfcf" stroke-width="0.5"/>
<path d="M315.97,57.2 V56.2 H340.23 V59.4" fill="none" stroke="#cfcfcf" stroke-width="0.5"/>
<path d="M356.4,59.4 V57.6 H372.57 V59.4" fill="none" stroke="#cfcfcf" stroke-width="0.5"/>
<path d="M364.48,57.6 V56.5 H388.74 V59.4" fill="none" stroke="#cfcfcf" stroke-width="0.5"/>
<path d="M328.91,56.2 V53.6 H375.8 V56.5" fill="none" stroke="#cfcfcf" stroke-width="0.5"/>
<path d="M404.91,59.4 V57 H421.08 V59.4" fill="none" stroke="#cfcfcf" stroke-width="0.5"/>
<path d="M437.25,59.4 V57.8 H453.42 V59.4" fill="none" stroke="#cfcfcf" stroke-width="0.5"/>
<path d="M445.33,57.8 V56.8 H469.59 V59.4" fill="none" stroke="#cfcfcf" stroke-width="0.5"/>
<path d="M412.99,57 V55.2 H458.27 V56.8" fill="none" stroke="#cfcfcf" stroke-width="0.5"/>
<path d="M353.16,53.6 V52.2 H435.63 V55.2" fill="none" stroke="#cfcfcf" stroke-width="0.5"/>
<text x="344.65" y="32.1" font-size="7.4" text-anchor="middle" fill="#111" textLength="20.9" lengthAdjust="spacingAndGlyphs" stroke="#111" stroke-width="0.07" >CD41-</text>
<line x1="315.1" y1="37.3" x2="374.9" y2="37.3" stroke="#333" stroke-width="1" />
<text x="432" y="32.1" font-size="7.4" text-anchor="middle" fill="#111" textLength="23.6" lengthAdjust="spacingAndGlyphs" stroke="#111" stroke-width="0.07" >CD41+</text>
<line x1="403.1" y1="37.3" x2="462.3" y2="37.3" stroke="#333" stroke-width="1" />
<text x="328.05" y="50.9" font-size="7.2" text-anchor="middle" fill="#111" textLength="17.7" lengthAdjust="spacingAndGlyphs" stroke="#111" stroke-width="0.07" >Depl.</text>
<text x="367.6" y="50.9" font-size="7.2" text-anchor="middle" fill="#111" textLength="13.4" lengthAdjust="spacingAndGlyphs" stroke="#111" stroke-width="0.07" >Ctrl.</text>
<text x="414.15" y="50.9" font-size="7.2" text-anchor="middle" fill="#111" textLength="13.5" lengthAdjust="spacingAndGlyphs" stroke="#111" stroke-width="0.07" >Ctrl.</text>
<text x="447.55" y="50.9" font-size="7.2" text-anchor="middle" fill="#111" textLength="17.1" lengthAdjust="spacingAndGlyphs" stroke="#111" stroke-width="0.07" >Depl.</text>
<text x="481.3" y="67.6" font-size="4.3" stroke="#000" stroke-width="0.13" >Vwf</text>
<text x="481.3" y="71.7" font-size="4.3" stroke="#000" stroke-width="0.13" >Timp3</text>
<text x="481.3" y="75.8" font-size="4.3" stroke="#000" stroke-width="0.13" >Sparc</text>
<text x="481.3" y="79.9" font-size="4.3" stroke="#000" stroke-width="0.13" >Pros1</text>
<text x="481.3" y="84" font-size="4.3" stroke="#000" stroke-width="0.13" >Ecm1</text>
<text x="481.3" y="88.1" font-size="4.3" stroke="#000" stroke-width="0.13" >Calm1</text>
<text x="481.3" y="92.2" font-size="4.3" stroke="#000" stroke-width="0.13" >Fgb</text>
<text x="481.3" y="96.3" font-size="4.3" stroke="#000" stroke-width="0.13" >F5</text>
<text x="481.3" y="100.4" font-size="4.3" stroke="#000" stroke-width="0.13" >Vcl</text>
<text x="481.3" y="104.5" font-size="4.3" stroke="#000" stroke-width="0.13" >Lrrna</text>
<text x="481.3" y="108.6" font-size="4.3" stroke="#000" stroke-width="0.13" >Kit1</text>
<text x="481.3" y="112.7" font-size="4.3" stroke="#000" stroke-width="0.13" >Wdr1</text>
<text x="481.3" y="116.8" font-size="4.3" stroke="#000" stroke-width="0.13" >Cd9</text>
<text x="481.3" y="120.9" font-size="4.3" stroke="#000" stroke-width="0.13" >Cald1</text>
<text x="481.3" y="125" font-size="4.3" stroke="#000" stroke-width="0.13" >Gata1</text>
<text x="481.3" y="129.1" font-size="4.3" stroke="#000" stroke-width="0.13" >Fli1</text>
<text x="481.3" y="133.2" font-size="4.3" stroke="#000" stroke-width="0.13" >Selp</text>
<text x="481.3" y="137.3" font-size="4.3" stroke="#000" stroke-width="0.13" >Thbs1</text>
<text x="481.3" y="141.4" font-size="4.3" stroke="#000" stroke-width="0.13" >Zfpm1</text>
<text x="481.3" y="145.5" font-size="4.3" stroke="#000" stroke-width="0.13" >Pbx1</text>
<text x="481.3" y="149.6" font-size="4.3" stroke="#000" stroke-width="0.13" >Itgb3</text>
<text x="481.3" y="153.7" font-size="4.3" stroke="#000" stroke-width="0.13" >F2r2</text>
<text x="481.3" y="157.8" font-size="4.3" stroke="#000" stroke-width="0.13" >Gp1bb</text>
<text x="481.3" y="161.9" font-size="4.3" stroke="#000" stroke-width="0.13" >Itga2b</text>
<text x="481.3" y="166" font-size="4.3" stroke="#000" stroke-width="0.13" >Tubb1</text>
<text x="481.3" y="170.1" font-size="4.3" stroke="#000" stroke-width="0.13" >Fli1</text>
<text x="481.3" y="174.2" font-size="4.3" stroke="#000" stroke-width="0.13" >Pf4</text>
<text x="481.3" y="178.3" font-size="4.3" stroke="#000" stroke-width="0.13" >Gp5</text>
<text x="481.3" y="182.4" font-size="4.3" stroke="#000" stroke-width="0.13" >Treml1</text>
<text x="481.3" y="186.5" font-size="4.3" stroke="#000" stroke-width="0.13" >Plek</text>
<text x="481.3" y="190.6" font-size="4.3" stroke="#000" stroke-width="0.13" >Gfi1b</text>
<text x="499.8" y="125" font-size="2.2" textLength="12.2" lengthAdjust="spacingAndGlyphs" stroke="#000" stroke-width="0.07" >expression</text>
<defs><linearGradient id="lg" x1="0" y1="0" x2="0" y2="1"><stop offset="0" stop-color="#f80000"/><stop offset="0.5" stop-color="#ffffff"/><stop offset="1" stop-color="#0000f8"/></linearGradient></defs>
<rect x="500.4" y="126.6" width="2.4" height="11.6" fill="url(#lg)" />
<text x="503.6" y="128.2" font-size="1.6" stroke="#000" stroke-width="0.05" >2</text>
<text x="503.6" y="130.7" font-size="1.6" stroke="#000" stroke-width="0.05" >1</text>
<text x="503.6" y="133.2" font-size="1.6" stroke="#000" stroke-width="0.05" >0</text>
<text x="503.6" y="135.7" font-size="1.6" stroke="#000" stroke-width="0.05" >-1</text>
<text x="503.6" y="138.2" font-size="1.6" stroke="#000" stroke-width="0.05" >-2</text>
<text x="54" y="327.7" font-size="6.6" text-anchor="middle" textLength="14" lengthAdjust="spacingAndGlyphs" stroke="#000" stroke-width="0.07" >HSC</text>
<line x1="24" y1="337" x2="24" y2="365.6" stroke="#000" stroke-width="0.9" />
<line x1="24" y1="365.2" x2="83.7" y2="365.2" stroke="#000" stroke-width="0.9" />
<line x1="22.3" y1="360.5" x2="24" y2="360.5" stroke="#000" stroke-width="0.6" />
<line x1="22.3" y1="355.8" x2="24" y2="355.8" stroke="#000" stroke-width="0.6" />
<line x1="22.3" y1="351.1" x2="24" y2="351.1" stroke="#000" stroke-width="0.6" />
<line x1="22.3" y1="346.4" x2="24" y2="346.4" stroke="#000" stroke-width="0.6" />
<line x1="22.3" y1="341.7" x2="24" y2="341.7" stroke="#000" stroke-width="0.6" />
<line x1="22.3" y1="337" x2="24" y2="337" stroke="#000" stroke-width="0.6" />
<line x1="24" y1="365.2" x2="24" y2="366.8" stroke="#000" stroke-width="0.5" />
<line x1="28.49" y1="365.2" x2="28.49" y2="366.2" stroke="#000" stroke-width="0.5" />
<line x1="31.12" y1="365.2" x2="31.12" y2="366.2" stroke="#000" stroke-width="0.5" />
<line x1="32.99" y1="365.2" x2="32.99" y2="366.2" stroke="#000" stroke-width="0.5" />
<line x1="34.43" y1="365.2" x2="34.43" y2="366.2" stroke="#000" stroke-width="0.5" />
<line x1="35.61" y1="365.2" x2="35.61" y2="366.2" stroke="#000" stroke-width="0.5" />
<line x1="36.61" y1="365.2" x2="36.61" y2="366.2" stroke="#000" stroke-width="0.5" />
<line x1="37.48" y1="365.2" x2="37.48" y2="366.2" stroke="#000" stroke-width="0.5" />
<line x1="38.24" y1="365.2" x2="38.24" y2="366.2" stroke="#000" stroke-width="0.5" />
<line x1="38.92" y1="365.2" x2="38.92" y2="366.8" stroke="#000" stroke-width="0.5" />
<line x1="43.42" y1="365.2" x2="43.42" y2="366.2" stroke="#000" stroke-width="0.5" />
<line x1="46.05" y1="365.2" x2="46.05" y2="366.2" stroke="#000" stroke-width="0.5" />
<line x1="47.91" y1="365.2" x2="47.91" y2="366.2" stroke="#000" stroke-width="0.5" />
<line x1="49.36" y1="365.2" x2="49.36" y2="366.2" stroke="#000" stroke-width="0.5" />
<line x1="50.54" y1="365.2" x2="50.54" y2="366.2" stroke="#000" stroke-width="0.5" />
<line x1="51.54" y1="365.2" x2="51.54" y2="366.2" stroke="#000" stroke-width="0.5" />
<line x1="52.4" y1="365.2" x2="52.4" y2="366.2" stroke="#000" stroke-width="0.5" />
<line x1="53.17" y1="365.2" x2="53.17" y2="366.2" stroke="#000" stroke-width="0.5" />
<line x1="53.85" y1="365.2" x2="53.85" y2="366.8" stroke="#000" stroke-width="0.5" />
<line x1="58.34" y1="365.2" x2="58.34" y2="366.2" stroke="#000" stroke-width="0.5" />
<line x1="60.97" y1="365.2" x2="60.97" y2="366.2" stroke="#000" stroke-width="0.5" />
<line x1="62.84" y1="365.2" x2="62.84" y2="366.2" stroke="#000" stroke-width="0.5" />
<line x1="64.28" y1="365.2" x2="64.28" y2="366.2" stroke="#000" stroke-width="0.5" />
<line x1="65.46" y1="365.2" x2="65.46" y2="366.2" stroke="#000" stroke-width="0.5" />
<line x1="66.46" y1="365.2" x2="66.46" y2="366.2" stroke="#000" stroke-width="0.5" />
<line x1="67.33" y1="365.2" x2="67.33" y2="366.2" stroke="#000" stroke-width="0.5" />
<line x1="68.09" y1="365.2" x2="68.09" y2="366.2" stroke="#000" stroke-width="0.5" />
<line x1="68.78" y1="365.2" x2="68.78" y2="366.8" stroke="#000" stroke-width="0.5" />
<line x1="73.27" y1="365.2" x2="73.27" y2="366.2" stroke="#000" stroke-width="0.5" />
<line x1="75.9" y1="365.2" x2="75.9" y2="366.2" stroke="#000" stroke-width="0.5" />
<line x1="77.76" y1="365.2" x2="77.76" y2="366.2" stroke="#000" stroke-width="0.5" />
<line x1="79.21" y1="365.2" x2="79.21" y2="366.2" stroke="#000" stroke-width="0.5" />
<line x1="80.39" y1="365.2" x2="80.39" y2="366.2" stroke="#000" stroke-width="0.5" />
<line x1="81.39" y1="365.2" x2="81.39" y2="366.2" stroke="#000" stroke-width="0.5" />
<line x1="82.25" y1="365.2" x2="82.25" y2="366.2" stroke="#000" stroke-width="0.5" />
<line x1="83.02" y1="365.2" x2="83.02" y2="366.2" stroke="#000" stroke-width="0.5" />
<line x1="83.7" y1="365.2" x2="83.7" y2="366.8" stroke="#000" stroke-width="0.5" />
<text x="23.3" y="377.7" font-size="6.8" text-anchor="middle" textLength="7.4" lengthAdjust="spacingAndGlyphs" stroke="#000" stroke-width="0.07" >10</text>
<text x="27.2" y="374.5" font-size="4.6" stroke="#000" stroke-width="0.14" >0</text>
<text x="38.22" y="377.7" font-size="6.8" text-anchor="middle" textLength="7.4" lengthAdjust="spacingAndGlyphs" stroke="#000" stroke-width="0.07" >10</text>
<text x="42.12" y="374.5" font-size="4.6" stroke="#000" stroke-width="0.14" >1</text>
<text x="53.15" y="377.7" font-size="6.8" text-anchor="middle" textLength="7.4" lengthAdjust="spacingAndGlyphs" stroke="#000" stroke-width="0.07" >10</text>
<text x="57.05" y="374.5" font-size="4.6" stroke="#000" stroke-width="0.14" >2</text>
<text x="68.08" y="377.7" font-size="6.8" text-anchor="middle" textLength="7.4" lengthAdjust="spacingAndGlyphs" stroke="#000" stroke-width="0.07" >10</text>
<text x="71.98" y="374.5" font-size="4.6" stroke="#000" stroke-width="0.14" >3</text>
<text x="83" y="377.7" font-size="6.8" text-anchor="middle" textLength="7.4" lengthAdjust="spacingAndGlyphs" stroke="#000" stroke-width="0.07" >10</text>
<text x="86.9" y="374.5" font-size="4.6" stroke="#000" stroke-width="0.14" >4</text>
<polyline points="24,337.2 24,365 24.6,363.6 27,362.6 30,361.3 33,360.3 35,359.5 37,358.3 38.75,357 40.3,355.2 41.25,353.9 42.2,354.6 43,355.6 44,357.2 45,358.9 46.3,360.8 47.5,362.5 49,363.8 50.5,364.7 53,365.1" fill="none" stroke="#2c4c9c" stroke-width="1.1" stroke-linejoin="round" />
<polyline points="24,361.5 24.4,365 26,364.6 29,364.2 32.5,363.6 36,362.6 40,361.1 42,359.6 43,358 44.2,355.6 45,353.6 45.7,351 46.3,348.7 47.2,348.2 48.2,347.6 49.2,346.3 50,345.4 50.8,345.6 51.5,346.6 52.3,348.6 53,351 53.8,354 54.6,357.6 55.5,361.1 56.6,363.4 58,364.5 61,365 83.7,365.1" fill="none" stroke="#c8103c" stroke-width="1.1" stroke-linejoin="round" />
<text x="133.3" y="328" font-size="6.6" text-anchor="middle" textLength="20" lengthAdjust="spacingAndGlyphs" stroke="#000" stroke-width="0.07" >MPP2</text>
<line x1="103.8" y1="333.5" x2="103.8" y2="365.7" stroke="#000" stroke-width="0.9" />
<line x1="103.8" y1="365.3" x2="162.7" y2="365.3" stroke="#000" stroke-width="0.9" />
<line x1="102.1" y1="360" x2="103.8" y2="360" stroke="#000" stroke-width="0.6" />
<line x1="102.1" y1="354.7" x2="103.8" y2="354.7" stroke="#000" stroke-width="0.6" />
<line x1="102.1" y1="349.4" x2="103.8" y2="349.4" stroke="#000" stroke-width="0.6" />
<line x1="102.1" y1="344.1" x2="103.8" y2="344.1" stroke="#000" stroke-width="0.6" />
<line x1="102.1" y1="338.8" x2="103.8" y2="338.8" stroke="#000" stroke-width="0.6" />
<line x1="102.1" y1="333.5" x2="103.8" y2="333.5" stroke="#000" stroke-width="0.6" />
<line x1="103.8" y1="365.3" x2="103.8" y2="366.9" stroke="#000" stroke-width="0.5" />
<line x1="108.23" y1="365.3" x2="108.23" y2="366.3" stroke="#000" stroke-width="0.5" />
<line x1="110.83" y1="365.3" x2="110.83" y2="366.3" stroke="#000" stroke-width="0.5" />
<line x1="112.67" y1="365.3" x2="112.67" y2="366.3" stroke="#000" stroke-width="0.5" />
<line x1="114.09" y1="365.3" x2="114.09" y2="366.3" stroke="#000" stroke-width="0.5" />
<line x1="115.26" y1="365.3" x2="115.26" y2="366.3" stroke="#000" stroke-width="0.5" />
<line x1="116.24" y1="365.3" x2="116.24" y2="366.3" stroke="#000" stroke-width="0.5" />
<line x1="117.1" y1="365.3" x2="117.1" y2="366.3" stroke="#000" stroke-width="0.5" />
<line x1="117.85" y1="365.3" x2="117.85" y2="366.3" stroke="#000" stroke-width="0.5" />
<line x1="118.52" y1="365.3" x2="118.52" y2="366.9" stroke="#000" stroke-width="0.5" />
<line x1="122.96" y1="365.3" x2="122.96" y2="366.3" stroke="#000" stroke-width="0.5" />
<line x1="125.55" y1="365.3" x2="125.55" y2="366.3" stroke="#000" stroke-width="0.5" />
<line x1="127.39" y1="365.3" x2="127.39" y2="366.3" stroke="#000" stroke-width="0.5" />
<line x1="128.82" y1="365.3" x2="128.82" y2="366.3" stroke="#000" stroke-width="0.5" />
<line x1="129.98" y1="365.3" x2="129.98" y2="366.3" stroke="#000" stroke-width="0.5" />
<line x1="130.97" y1="365.3" x2="130.97" y2="366.3" stroke="#000" stroke-width="0.5" />
<line x1="131.82" y1="365.3" x2="131.82" y2="366.3" stroke="#000" stroke-width="0.5" />
<line x1="132.58" y1="365.3" x2="132.58" y2="366.3" stroke="#000" stroke-width="0.5" />
<line x1="133.25" y1="365.3" x2="133.25" y2="366.9" stroke="#000" stroke-width="0.5" />
<line x1="137.68" y1="365.3" x2="137.68" y2="366.3" stroke="#000" stroke-width="0.5" />
<line x1="140.28" y1="365.3" x2="140.28" y2="366.3" stroke="#000" stroke-width="0.5" />
<line x1="142.12" y1="365.3" x2="142.12" y2="366.3" stroke="#000" stroke-width="0.5" />
<line x1="143.54" y1="365.3" x2="143.54" y2="366.3" stroke="#000" stroke-width="0.5" />
<line x1="144.71" y1="365.3" x2="144.71" y2="366.3" stroke="#000" stroke-width="0.5" />
<line x1="145.69" y1="365.3" x2="145.69" y2="366.3" stroke="#000" stroke-width="0.5" />
<line x1="146.55" y1="365.3" x2="146.55" y2="366.3" stroke="#000" stroke-width="0.5" />
<line x1="147.3" y1="365.3" x2="147.3" y2="366.3" stroke="#000" stroke-width="0.5" />
<line x1="147.97" y1="365.3" x2="147.97" y2="366.9" stroke="#000" stroke-width="0.5" />
<line x1="152.41" y1="365.3" x2="152.41" y2="366.3" stroke="#000" stroke-width="0.5" />
<line x1="155" y1="365.3" x2="155" y2="366.3" stroke="#000" stroke-width="0.5" />
<line x1="156.84" y1="365.3" x2="156.84" y2="366.3" stroke="#000" stroke-width="0.5" />
<line x1="158.27" y1="365.3" x2="158.27" y2="366.3" stroke="#000" stroke-width="0.5" />
<line x1="159.43" y1="365.3" x2="159.43" y2="366.3" stroke="#000" stroke-width="0.5" />
<line x1="160.42" y1="365.3" x2="160.42" y2="366.3" stroke="#000" stroke-width="0.5" />
<line x1="161.27" y1="365.3" x2="161.27" y2="366.3" stroke="#000" stroke-width="0.5" />
<line x1="162.03" y1="365.3" x2="162.03" y2="366.3" stroke="#000" stroke-width="0.5" />
<line x1="162.7" y1="365.3" x2="162.7" y2="366.9" stroke="#000" stroke-width="0.5" />
<text x="103.1" y="377.8" font-size="6.8" text-anchor="middle" textLength="7.4" lengthAdjust="spacingAndGlyphs" stroke="#000" stroke-width="0.07" >10</text>
<text x="107" y="374.6" font-size="4.6" stroke="#000" stroke-width="0.14" >0</text>
<text x="117.82" y="377.8" font-size="6.8" text-anchor="middle" textLength="7.4" lengthAdjust="spacingAndGlyphs" stroke="#000" stroke-width="0.07" >10</text>
<text x="121.72" y="374.6" font-size="4.6" stroke="#000" stroke-width="0.14" >1</text>
<text x="132.55" y="377.8" font-size="6.8" text-anchor="middle" textLength="7.4" lengthAdjust="spacingAndGlyphs" stroke="#000" stroke-width="0.07" >10</text>
<text x="136.45" y="374.6" font-size="4.6" stroke="#000" stroke-width="0.14" >2</text>
<text x="147.28" y="377.8" font-size="6.8" text-anchor="middle" textLength="7.4" lengthAdjust="spacingAndGlyphs" stroke="#000" stroke-width="0.07" >10</text>
<text x="151.17" y="374.6" font-size="4.6" stroke="#000" stroke-width="0.14" >3</text>
<text x="162" y="377.8" font-size="6.8" text-anchor="middle" textLength="7.4" lengthAdjust="spacingAndGlyphs" stroke="#000" stroke-width="0.07" >10</text>
<text x="165.9" y="374.6" font-size="4.6" stroke="#000" stroke-width="0.14" >4</text>
<polyline points="103.8,355 103.8,365 104.54,364.23 107.31,364.23 110.38,363.46 113.46,361.92 118.08,358.85 121.15,354.23 123.46,351.15 125.77,352.69 128.08,355.77 130.38,359.62 132.69,361.92 135,363.46 138.08,364.69 141.15,365.31" fill="none" stroke="#2c4c9c" stroke-width="1.1" stroke-linejoin="round" />
<polyline points="103.8,360.4 104.2,365 105,364.69 110.38,363.77 115,361.62 119.62,357.31 121.46,352.69 123,349.31 125,347.31 126.23,346.54 127.31,345.77 129.15,345.62 130.38,345.31 131.92,348.08 134.23,355.77 136.54,361.62 139.62,363.46 142.69,364.69 145.77,365.31 162.69,365.31" fill="none" stroke="#c8103c" stroke-width="1.1" stroke-linejoin="round" />
<text x="212.4" y="328" font-size="6.6" text-anchor="middle" textLength="26" lengthAdjust="spacingAndGlyphs" stroke="#000" stroke-width="0.07" >PreMeg</text>
<line x1="182.4" y1="333.5" x2="182.4" y2="365.4" stroke="#000" stroke-width="0.9" />
<line x1="182.4" y1="365" x2="241.2" y2="365" stroke="#000" stroke-width="0.9" />
<line x1="180.7" y1="359.75" x2="182.4" y2="359.75" stroke="#000" stroke-width="0.6" />
<line x1="180.7" y1="354.5" x2="182.4" y2="354.5" stroke="#000" stroke-width="0.6" />
<line x1="180.7" y1="349.25" x2="182.4" y2="349.25" stroke="#000" stroke-width="0.6" />
<line x1="180.7" y1="344" x2="182.4" y2="344" stroke="#000" stroke-width="0.6" />
<line x1="180.7" y1="338.75" x2="182.4" y2="338.75" stroke="#000" stroke-width="0.6" />
<line x1="180.7" y1="333.5" x2="182.4" y2="333.5" stroke="#000" stroke-width="0.6" />
<line x1="182.4" y1="365" x2="182.4" y2="366.6" stroke="#000" stroke-width="0.5" />
<line x1="186.83" y1="365" x2="186.83" y2="366" stroke="#000" stroke-width="0.5" />
<line x1="189.41" y1="365" x2="189.41" y2="366" stroke="#000" stroke-width="0.5" />
<line x1="191.25" y1="365" x2="191.25" y2="366" stroke="#000" stroke-width="0.5" />
<line x1="192.67" y1="365" x2="192.67" y2="366" stroke="#000" stroke-width="0.5" />
<line x1="193.84" y1="365" x2="193.84" y2="366" stroke="#000" stroke-width="0.5" />
<line x1="194.82" y1="365" x2="194.82" y2="366" stroke="#000" stroke-width="0.5" />
<line x1="195.68" y1="365" x2="195.68" y2="366" stroke="#000" stroke-width="0.5" />
<line x1="196.43" y1="365" x2="196.43" y2="366" stroke="#000" stroke-width="0.5" />
<line x1="197.1" y1="365" x2="197.1" y2="366.6" stroke="#000" stroke-width="0.5" />
<line x1="201.53" y1="365" x2="201.53" y2="366" stroke="#000" stroke-width="0.5" />
<line x1="204.11" y1="365" x2="204.11" y2="366" stroke="#000" stroke-width="0.5" />
<line x1="205.95" y1="365" x2="205.95" y2="366" stroke="#000" stroke-width="0.5" />
<line x1="207.37" y1="365" x2="207.37" y2="366" stroke="#000" stroke-width="0.5" />
<line x1="208.54" y1="365" x2="208.54" y2="366" stroke="#000" stroke-width="0.5" />
<line x1="209.52" y1="365" x2="209.52" y2="366" stroke="#000" stroke-width="0.5" />
<line x1="210.38" y1="365" x2="210.38" y2="366" stroke="#000" stroke-width="0.5" />
<line x1="211.13" y1="365" x2="211.13" y2="366" stroke="#000" stroke-width="0.5" />
<line x1="211.8" y1="365" x2="211.8" y2="366.6" stroke="#000" stroke-width="0.5" />
<line x1="216.23" y1="365" x2="216.23" y2="366" stroke="#000" stroke-width="0.5" />
<line x1="218.81" y1="365" x2="218.81" y2="366" stroke="#000" stroke-width="0.5" />
<line x1="220.65" y1="365" x2="220.65" y2="366" stroke="#000" stroke-width="0.5" />
<line x1="222.07" y1="365" x2="222.07" y2="366" stroke="#000" stroke-width="0.5" />
<line x1="223.24" y1="365" x2="223.24" y2="366" stroke="#000" stroke-width="0.5" />
<line x1="224.22" y1="365" x2="224.22" y2="366" stroke="#000" stroke-width="0.5" />
<line x1="225.08" y1="365" x2="225.08" y2="366" stroke="#000" stroke-width="0.5" />
<line x1="225.83" y1="365" x2="225.83" y2="366" stroke="#000" stroke-width="0.5" />
<line x1="226.5" y1="365" x2="226.5" y2="366.6" stroke="#000" stroke-width="0.5" />
<line x1="230.93" y1="365" x2="230.93" y2="366" stroke="#000" stroke-width="0.5" />
<line x1="233.51" y1="365" x2="233.51" y2="366" stroke="#000" stroke-width="0.5" />
<line x1="235.35" y1="365" x2="235.35" y2="366" stroke="#000" stroke-width="0.5" />
<line x1="236.77" y1="365" x2="236.77" y2="366" stroke="#000" stroke-width="0.5" />
<line x1="237.94" y1="365" x2="237.94" y2="366" stroke="#000" stroke-width="0.5" />
<line x1="238.92" y1="365" x2="238.92" y2="366" stroke="#000" stroke-width="0.5" />
<line x1="239.78" y1="365" x2="239.78" y2="366" stroke="#000" stroke-width="0.5" />
<line x1="240.53" y1="365" x2="240.53" y2="366" stroke="#000" stroke-width="0.5" />
<line x1="241.2" y1="365" x2="241.2" y2="366.6" stroke="#000" stroke-width="0.5" />
<text x="181.7" y="377.5" font-size="6.8" text-anchor="middle" textLength="7.4" lengthAdjust="spacingAndGlyphs" stroke="#000" stroke-width="0.07" >10</text>
<text x="185.6" y="374.3" font-size="4.6" stroke="#000" stroke-width="0.14" >0</text>
<text x="196.4" y="377.5" font-size="6.8" text-anchor="middle" textLength="7.4" lengthAdjust="spacingAndGlyphs" stroke="#000" stroke-width="0.07" >10</text>
<text x="200.3" y="374.3" font-size="4.6" stroke="#000" stroke-width="0.14" >1</text>
<text x="211.1" y="377.5" font-size="6.8" text-anchor="middle" textLength="7.4" lengthAdjust="spacingAndGlyphs" stroke="#000" stroke-width="0.07" >10</text>
<text x="215" y="374.3" font-size="4.6" stroke="#000" stroke-width="0.14" >2</text>
<text x="225.8" y="377.5" font-size="6.8" text-anchor="middle" textLength="7.4" lengthAdjust="spacingAndGlyphs" stroke="#000" stroke-width="0.07" >10</text>
<text x="229.7" y="374.3" font-size="4.6" stroke="#000" stroke-width="0.14" >3</text>
<text x="240.5" y="377.5" font-size="6.8" text-anchor="middle" textLength="7.4" lengthAdjust="spacingAndGlyphs" stroke="#000" stroke-width="0.07" >10</text>
<text x="244.4" y="374.3" font-size="4.6" stroke="#000" stroke-width="0.14" >4</text>
<polyline points="182.4,338.8 182.4,364.8 183.46,363.46 187.31,363.15 190.38,361.92 193.46,358.08 194.69,356.23 195.77,355.77 198.08,351.15 200.38,348.08 202.38,346.54 204.23,349.62 205.77,353.46 208.08,357.31 211.15,361.15 214.23,363.77 217.31,364.69 219.62,365" fill="none" stroke="#2c4c9c" stroke-width="1.1" stroke-linejoin="round" />
<polyline points="182.4,355.8 182.6,364.8 184.23,364.23 190.38,363.46 196.54,361.15 201.15,356.54 205.77,350.38 208.08,346.54 210.08,343.15 211.92,346.54 213.15,351.92 214.23,353.46 215.31,356.54 215.92,361.92 217.31,364.69 219.62,365.15 241.15,365.15" fill="none" stroke="#c8103c" stroke-width="1.1" stroke-linejoin="round" />
<text x="93.45" y="396.7" font-size="6.6" text-anchor="middle" textLength="26.1" lengthAdjust="spacingAndGlyphs" stroke="#000" stroke-width="0.07" >MPP3/4</text>
<line x1="63.5" y1="400.4" x2="63.5" y2="433.4" stroke="#000" stroke-width="0.9" />
<line x1="63.5" y1="433" x2="122.7" y2="433" stroke="#000" stroke-width="0.9" />
<line x1="61.8" y1="427.57" x2="63.5" y2="427.57" stroke="#000" stroke-width="0.6" />
<line x1="61.8" y1="422.13" x2="63.5" y2="422.13" stroke="#000" stroke-width="0.6" />
<line x1="61.8" y1="416.7" x2="63.5" y2="416.7" stroke="#000" stroke-width="0.6" />
<line x1="61.8" y1="411.27" x2="63.5" y2="411.27" stroke="#000" stroke-width="0.6" />
<line x1="61.8" y1="405.83" x2="63.5" y2="405.83" stroke="#000" stroke-width="0.6" />
<line x1="61.8" y1="400.4" x2="63.5" y2="400.4" stroke="#000" stroke-width="0.6" />
<line x1="63.5" y1="433" x2="63.5" y2="434.6" stroke="#000" stroke-width="0.5" />
<line x1="67.96" y1="433" x2="67.96" y2="434" stroke="#000" stroke-width="0.5" />
<line x1="70.56" y1="433" x2="70.56" y2="434" stroke="#000" stroke-width="0.5" />
<line x1="72.41" y1="433" x2="72.41" y2="434" stroke="#000" stroke-width="0.5" />
<line x1="73.84" y1="433" x2="73.84" y2="434" stroke="#000" stroke-width="0.5" />
<line x1="75.02" y1="433" x2="75.02" y2="434" stroke="#000" stroke-width="0.5" />
<line x1="76.01" y1="433" x2="76.01" y2="434" stroke="#000" stroke-width="0.5" />
<line x1="76.87" y1="433" x2="76.87" y2="434" stroke="#000" stroke-width="0.5" />
<line x1="77.62" y1="433" x2="77.62" y2="434" stroke="#000" stroke-width="0.5" />
<line x1="78.3" y1="433" x2="78.3" y2="434.6" stroke="#000" stroke-width="0.5" />
<line x1="82.76" y1="433" x2="82.76" y2="434" stroke="#000" stroke-width="0.5" />
<line x1="85.36" y1="433" x2="85.36" y2="434" stroke="#000" stroke-width="0.5" />
<line x1="87.21" y1="433" x2="87.21" y2="434" stroke="#000" stroke-width="0.5" />
<line x1="88.64" y1="433" x2="88.64" y2="434" stroke="#000" stroke-width="0.5" />
<line x1="89.82" y1="433" x2="89.82" y2="434" stroke="#000" stroke-width="0.5" />
<line x1="90.81" y1="433" x2="90.81" y2="434" stroke="#000" stroke-width="0.5" />
<line x1="91.67" y1="433" x2="91.67" y2="434" stroke="#000" stroke-width="0.5" />
<line x1="92.42" y1="433" x2="92.42" y2="434" stroke="#000" stroke-width="0.5" />
<line x1="93.1" y1="433" x2="93.1" y2="434.6" stroke="#000" stroke-width="0.5" />
<line x1="97.56" y1="433" x2="97.56" y2="434" stroke="#000" stroke-width="0.5" />
<line x1="100.16" y1="433" x2="100.16" y2="434" stroke="#000" stroke-width="0.5" />
<line x1="102.01" y1="433" x2="102.01" y2="434" stroke="#000" stroke-width="0.5" />
<line x1="103.44" y1="433" x2="103.44" y2="434" stroke="#000" stroke-width="0.5" />
<line x1="104.62" y1="433" x2="104.62" y2="434" stroke="#000" stroke-width="0.5" />
<line x1="105.61" y1="433" x2="105.61" y2="434" stroke="#000" stroke-width="0.5" />
<line x1="106.47" y1="433" x2="106.47" y2="434" stroke="#000" stroke-width="0.5" />
<line x1="107.22" y1="433" x2="107.22" y2="434" stroke="#000" stroke-width="0.5" />
<line x1="107.9" y1="433" x2="107.9" y2="434.6" stroke="#000" stroke-width="0.5" />
<line x1="112.36" y1="433" x2="112.36" y2="434" stroke="#000" stroke-width="0.5" />
<line x1="114.96" y1="433" x2="114.96" y2="434" stroke="#000" stroke-width="0.5" />
<line x1="116.81" y1="433" x2="116.81" y2="434" stroke="#000" stroke-width="0.5" />
<line x1="118.24" y1="433" x2="118.24" y2="434" stroke="#000" stroke-width="0.5" />
<line x1="119.42" y1="433" x2="119.42" y2="434" stroke="#000" stroke-width="0.5" />
<line x1="120.41" y1="433" x2="120.41" y2="434" stroke="#000" stroke-width="0.5" />
<line x1="121.27" y1="433" x2="121.27" y2="434" stroke="#000" stroke-width="0.5" />
<line x1="122.02" y1="433" x2="122.02" y2="434" stroke="#000" stroke-width="0.5" />
<line x1="122.7" y1="433" x2="122.7" y2="434.6" stroke="#000" stroke-width="0.5" />
<text x="62.8" y="445.5" font-size="6.8" text-anchor="middle" textLength="7.4" lengthAdjust="spacingAndGlyphs" stroke="#000" stroke-width="0.07" >10</text>
<text x="66.7" y="442.3" font-size="4.6" stroke="#000" stroke-width="0.14" >0</text>
<text x="77.6" y="445.5" font-size="6.8" text-anchor="middle" textLength="7.4" lengthAdjust="spacingAndGlyphs" stroke="#000" stroke-width="0.07" >10</text>
<text x="81.5" y="442.3" font-size="4.6" stroke="#000" stroke-width="0.14" >1</text>
<text x="92.4" y="445.5" font-size="6.8" text-anchor="middle" textLength="7.4" lengthAdjust="spacingAndGlyphs" stroke="#000" stroke-width="0.07" >10</text>
<text x="96.3" y="442.3" font-size="4.6" stroke="#000" stroke-width="0.14" >2</text>
<text x="107.2" y="445.5" font-size="6.8" text-anchor="middle" textLength="7.4" lengthAdjust="spacingAndGlyphs" stroke="#000" stroke-width="0.07" >10</text>
<text x="111.1" y="442.3" font-size="4.6" stroke="#000" stroke-width="0.14" >3</text>
<text x="122" y="445.5" font-size="6.8" text-anchor="middle" textLength="7.4" lengthAdjust="spacingAndGlyphs" stroke="#000" stroke-width="0.07" >10</text>
<text x="125.9" y="442.3" font-size="4.6" stroke="#000" stroke-width="0.14" >4</text>
<polyline points="63.92,431.92 67.31,430.38 70.38,428.08 73.46,423.46 76.54,417.31 78.85,415 81.15,413.92 82.69,415 85,418.08 86.54,423.46 88.85,428.85 91.15,431.15 94.23,432.69 96.54,433" fill="none" stroke="#2c4c9c" stroke-width="1.1" stroke-linejoin="round" />
<polyline points="63.5,400.6 63.5,433 64.23,431.15 67.31,429.62 70.38,426.54 73.46,421.92 75.77,415.77 78.08,412.69 80.38,408.08 81.92,409.62 83.46,408.85 85,410.38 86.54,414.23 88.08,420.38 90.38,426.54 92.69,430.38 95.77,432.38 98.08,433 122.69,433" fill="none" stroke="#c8103c" stroke-width="1.1" stroke-linejoin="round" />
<text x="172.3" y="396.7" font-size="6.6" text-anchor="middle" textLength="34.6" lengthAdjust="spacingAndGlyphs" stroke="#000" stroke-width="0.07" >CMP-GMP</text>
<line x1="142.4" y1="401.2" x2="142.4" y2="433.1" stroke="#000" stroke-width="0.9" />
<line x1="142.4" y1="432.7" x2="202.7" y2="432.7" stroke="#000" stroke-width="0.9" />
<line x1="140.7" y1="427.45" x2="142.4" y2="427.45" stroke="#000" stroke-width="0.6" />
<line x1="140.7" y1="422.2" x2="142.4" y2="422.2" stroke="#000" stroke-width="0.6" />
<line x1="140.7" y1="416.95" x2="142.4" y2="416.95" stroke="#000" stroke-width="0.6" />
<line x1="140.7" y1="411.7" x2="142.4" y2="411.7" stroke="#000" stroke-width="0.6" />
<line x1="140.7" y1="406.45" x2="142.4" y2="406.45" stroke="#000" stroke-width="0.6" />
<line x1="140.7" y1="401.2" x2="142.4" y2="401.2" stroke="#000" stroke-width="0.6" />
<line x1="142.4" y1="432.7" x2="142.4" y2="434.3" stroke="#000" stroke-width="0.5" />
<line x1="146.94" y1="432.7" x2="146.94" y2="433.7" stroke="#000" stroke-width="0.5" />
<line x1="149.59" y1="432.7" x2="149.59" y2="433.7" stroke="#000" stroke-width="0.5" />
<line x1="151.48" y1="432.7" x2="151.48" y2="433.7" stroke="#000" stroke-width="0.5" />
<line x1="152.94" y1="432.7" x2="152.94" y2="433.7" stroke="#000" stroke-width="0.5" />
<line x1="154.13" y1="432.7" x2="154.13" y2="433.7" stroke="#000" stroke-width="0.5" />
<line x1="155.14" y1="432.7" x2="155.14" y2="433.7" stroke="#000" stroke-width="0.5" />
<line x1="156.01" y1="432.7" x2="156.01" y2="433.7" stroke="#000" stroke-width="0.5" />
<line x1="156.79" y1="432.7" x2="156.79" y2="433.7" stroke="#000" stroke-width="0.5" />
<line x1="157.47" y1="432.7" x2="157.47" y2="434.3" stroke="#000" stroke-width="0.5" />
<line x1="162.01" y1="432.7" x2="162.01" y2="433.7" stroke="#000" stroke-width="0.5" />
<line x1="164.67" y1="432.7" x2="164.67" y2="433.7" stroke="#000" stroke-width="0.5" />
<line x1="166.55" y1="432.7" x2="166.55" y2="433.7" stroke="#000" stroke-width="0.5" />
<line x1="168.01" y1="432.7" x2="168.01" y2="433.7" stroke="#000" stroke-width="0.5" />
<line x1="169.21" y1="432.7" x2="169.21" y2="433.7" stroke="#000" stroke-width="0.5" />
<line x1="170.21" y1="432.7" x2="170.21" y2="433.7" stroke="#000" stroke-width="0.5" />
<line x1="171.09" y1="432.7" x2="171.09" y2="433.7" stroke="#000" stroke-width="0.5" />
<line x1="171.86" y1="432.7" x2="171.86" y2="433.7" stroke="#000" stroke-width="0.5" />
<line x1="172.55" y1="432.7" x2="172.55" y2="434.3" stroke="#000" stroke-width="0.5" />
<line x1="177.09" y1="432.7" x2="177.09" y2="433.7" stroke="#000" stroke-width="0.5" />
<line x1="179.74" y1="432.7" x2="179.74" y2="433.7" stroke="#000" stroke-width="0.5" />
<line x1="181.63" y1="432.7" x2="181.63" y2="433.7" stroke="#000" stroke-width="0.5" />
<line x1="183.09" y1="432.7" x2="183.09" y2="433.7" stroke="#000" stroke-width="0.5" />
<line x1="184.28" y1="432.7" x2="184.28" y2="433.7" stroke="#000" stroke-width="0.5" />
<line x1="185.29" y1="432.7" x2="185.29" y2="433.7" stroke="#000" stroke-width="0.5" />
<line x1="186.16" y1="432.7" x2="186.16" y2="433.7" stroke="#000" stroke-width="0.5" />
<line x1="186.94" y1="432.7" x2="186.94" y2="433.7" stroke="#000" stroke-width="0.5" />
<line x1="187.62" y1="432.7" x2="187.62" y2="434.3" stroke="#000" stroke-width="0.5" />
<line x1="192.16" y1="432.7" x2="192.16" y2="433.7" stroke="#000" stroke-width="0.5" />
<line x1="194.82" y1="432.7" x2="194.82" y2="433.7" stroke="#000" stroke-width="0.5" />
<line x1="196.7" y1="432.7" x2="196.7" y2="433.7" stroke="#000" stroke-width="0.5" />
<line x1="198.16" y1="432.7" x2="198.16" y2="433.7" stroke="#000" stroke-width="0.5" />
<line x1="199.36" y1="432.7" x2="199.36" y2="433.7" stroke="#000" stroke-width="0.5" />
<line x1="200.36" y1="432.7" x2="200.36" y2="433.7" stroke="#000" stroke-width="0.5" />
<line x1="201.24" y1="432.7" x2="201.24" y2="433.7" stroke="#000" stroke-width="0.5" />
<line x1="202.01" y1="432.7" x2="202.01" y2="433.7" stroke="#000" stroke-width="0.5" />
<line x1="202.7" y1="432.7" x2="202.7" y2="434.3" stroke="#000" stroke-width="0.5" />
<text x="141.7" y="445.2" font-size="6.8" text-anchor="middle" textLength="7.4" lengthAdjust="spacingAndGlyphs" stroke="#000" stroke-width="0.07" >10</text>
<text x="145.6" y="442" font-size="4.6" stroke="#000" stroke-width="0.14" >0</text>
<text x="156.78" y="445.2" font-size="6.8" text-anchor="middle" textLength="7.4" lengthAdjust="spacingAndGlyphs" stroke="#000" stroke-width="0.07" >10</text>
<text x="160.67" y="442" font-size="4.6" stroke="#000" stroke-width="0.14" >1</text>
<text x="171.85" y="445.2" font-size="6.8" text-anchor="middle" textLength="7.4" lengthAdjust="spacingAndGlyphs" stroke="#000" stroke-width="0.07" >10</text>
<text x="175.75" y="442" font-size="4.6" stroke="#000" stroke-width="0.14" >2</text>
<text x="186.93" y="445.2" font-size="6.8" text-anchor="middle" textLength="7.4" lengthAdjust="spacingAndGlyphs" stroke="#000" stroke-width="0.07" >10</text>
<text x="190.82" y="442" font-size="4.6" stroke="#000" stroke-width="0.14" >3</text>
<text x="202" y="445.2" font-size="6.8" text-anchor="middle" textLength="7.4" lengthAdjust="spacingAndGlyphs" stroke="#000" stroke-width="0.07" >10</text>
<text x="205.9" y="442" font-size="4.6" stroke="#000" stroke-width="0.14" >4</text>
<polyline points="143.46,431.15 147.31,428.08 150.38,422.69 153.46,416.54 155.77,411.92 156.85,412.69 158.08,410.38 159.62,411.92 160.85,411.46 161.92,413.46 165,418.85 168.08,426.54 171.15,431.15 173.46,432.69 175.31,433" fill="none" stroke="#2c4c9c" stroke-width="1.1" stroke-linejoin="round" />
<polyline points="142.4,401.4 142.4,432.7 143.46,430.38 146.54,426.54 148.85,421.92 151.15,417.31 152.69,418.08 154.23,411.92 155.77,408.08 157.31,409.62 158.85,407.31 160.38,408.08 161.92,408.08 163.46,410.38 165.77,415 168.08,421.92 170.38,428.08 172.69,431.92 175,433 202.69,433" fill="none" stroke="#c8103c" stroke-width="1.1" stroke-linejoin="round" />
<line x1="65.8" y1="454.5" x2="194" y2="454.5" stroke="#000" stroke-width="0.9" />
<path d="M198.2,454.5 L192.8,452.6 L192.8,456.4 Z" fill="#000"/>
<text x="132.4" y="469.6" font-size="8.4" text-anchor="middle" textLength="22" lengthAdjust="spacingAndGlyphs" stroke="#000" stroke-width="0.07" >pStat5</text>
<text x="310.9" y="328" font-size="6.6" text-anchor="middle" textLength="14.2" lengthAdjust="spacingAndGlyphs" stroke="#000" stroke-width="0.07" >HSC</text>
<line x1="281.1" y1="334.6" x2="281.1" y2="365.3" stroke="#000" stroke-width="0.9" />
<line x1="281.1" y1="364.9" x2="340.5" y2="364.9" stroke="#000" stroke-width="0.9" />
<line x1="279.4" y1="359.85" x2="281.1" y2="359.85" stroke="#000" stroke-width="0.6" />
<line x1="279.4" y1="354.8" x2="281.1" y2="354.8" stroke="#000" stroke-width="0.6" />
<line x1="279.4" y1="349.75" x2="281.1" y2="349.75" stroke="#000" stroke-width="0.6" />
<line x1="279.4" y1="344.7" x2="281.1" y2="344.7" stroke="#000" stroke-width="0.6" />
<line x1="279.4" y1="339.65" x2="281.1" y2="339.65" stroke="#000" stroke-width="0.6" />
<line x1="279.4" y1="334.6" x2="281.1" y2="334.6" stroke="#000" stroke-width="0.6" />
<line x1="281.1" y1="364.9" x2="281.1" y2="366.5" stroke="#000" stroke-width="0.5" />
<line x1="285.57" y1="364.9" x2="285.57" y2="365.9" stroke="#000" stroke-width="0.5" />
<line x1="288.19" y1="364.9" x2="288.19" y2="365.9" stroke="#000" stroke-width="0.5" />
<line x1="290.04" y1="364.9" x2="290.04" y2="365.9" stroke="#000" stroke-width="0.5" />
<line x1="291.48" y1="364.9" x2="291.48" y2="365.9" stroke="#000" stroke-width="0.5" />
<line x1="292.66" y1="364.9" x2="292.66" y2="365.9" stroke="#000" stroke-width="0.5" />
<line x1="293.65" y1="364.9" x2="293.65" y2="365.9" stroke="#000" stroke-width="0.5" />
<line x1="294.51" y1="364.9" x2="294.51" y2="365.9" stroke="#000" stroke-width="0.5" />
<line x1="295.27" y1="364.9" x2="295.27" y2="365.9" stroke="#000" stroke-width="0.5" />
<line x1="295.95" y1="364.9" x2="295.95" y2="366.5" stroke="#000" stroke-width="0.5" />
<line x1="300.42" y1="364.9" x2="300.42" y2="365.9" stroke="#000" stroke-width="0.5" />
<line x1="303.04" y1="364.9" x2="303.04" y2="365.9" stroke="#000" stroke-width="0.5" />
<line x1="304.89" y1="364.9" x2="304.89" y2="365.9" stroke="#000" stroke-width="0.5" />
<line x1="306.33" y1="364.9" x2="306.33" y2="365.9" stroke="#000" stroke-width="0.5" />
<line x1="307.51" y1="364.9" x2="307.51" y2="365.9" stroke="#000" stroke-width="0.5" />
<line x1="308.5" y1="364.9" x2="308.5" y2="365.9" stroke="#000" stroke-width="0.5" />
<line x1="309.36" y1="364.9" x2="309.36" y2="365.9" stroke="#000" stroke-width="0.5" />
<line x1="310.12" y1="364.9" x2="310.12" y2="365.9" stroke="#000" stroke-width="0.5" />
<line x1="310.8" y1="364.9" x2="310.8" y2="366.5" stroke="#000" stroke-width="0.5" />
<line x1="315.27" y1="364.9" x2="315.27" y2="365.9" stroke="#000" stroke-width="0.5" />
<line x1="317.89" y1="364.9" x2="317.89" y2="365.9" stroke="#000" stroke-width="0.5" />
<line x1="319.74" y1="364.9" x2="319.74" y2="365.9" stroke="#000" stroke-width="0.5" />
<line x1="321.18" y1="364.9" x2="321.18" y2="365.9" stroke="#000" stroke-width="0.5" />
<line x1="322.36" y1="364.9" x2="322.36" y2="365.9" stroke="#000" stroke-width="0.5" />
<line x1="323.35" y1="364.9" x2="323.35" y2="365.9" stroke="#000" stroke-width="0.5" />
<line x1="324.21" y1="364.9" x2="324.21" y2="365.9" stroke="#000" stroke-width="0.5" />
<line x1="324.97" y1="364.9" x2="324.97" y2="365.9" stroke="#000" stroke-width="0.5" />
<line x1="325.65" y1="364.9" x2="325.65" y2="366.5" stroke="#000" stroke-width="0.5" />
<line x1="330.12" y1="364.9" x2="330.12" y2="365.9" stroke="#000" stroke-width="0.5" />
<line x1="332.74" y1="364.9" x2="332.74" y2="365.9" stroke="#000" stroke-width="0.5" />
<line x1="334.59" y1="364.9" x2="334.59" y2="365.9" stroke="#000" stroke-width="0.5" />
<line x1="336.03" y1="364.9" x2="336.03" y2="365.9" stroke="#000" stroke-width="0.5" />
<line x1="337.21" y1="364.9" x2="337.21" y2="365.9" stroke="#000" stroke-width="0.5" />
<line x1="338.2" y1="364.9" x2="338.2" y2="365.9" stroke="#000" stroke-width="0.5" />
<line x1="339.06" y1="364.9" x2="339.06" y2="365.9" stroke="#000" stroke-width="0.5" />
<line x1="339.82" y1="364.9" x2="339.82" y2="365.9" stroke="#000" stroke-width="0.5" />
<line x1="340.5" y1="364.9" x2="340.5" y2="366.5" stroke="#000" stroke-width="0.5" />
<text x="280.4" y="377.4" font-size="6.8" text-anchor="middle" textLength="7.4" lengthAdjust="spacingAndGlyphs" stroke="#000" stroke-width="0.07" >10</text>
<text x="284.3" y="374.2" font-size="4.6" stroke="#000" stroke-width="0.14" >0</text>
<text x="295.25" y="377.4" font-size="6.8" text-anchor="middle" textLength="7.4" lengthAdjust="spacingAndGlyphs" stroke="#000" stroke-width="0.07" >10</text>
<text x="299.15" y="374.2" font-size="4.6" stroke="#000" stroke-width="0.14" >1</text>
<text x="310.1" y="377.4" font-size="6.8" text-anchor="middle" textLength="7.4" lengthAdjust="spacingAndGlyphs" stroke="#000" stroke-width="0.07" >10</text>
<text x="314" y="374.2" font-size="4.6" stroke="#000" stroke-width="0.14" >2</text>
<text x="324.95" y="377.4" font-size="6.8" text-anchor="middle" textLength="7.4" lengthAdjust="spacingAndGlyphs" stroke="#000" stroke-width="0.07" >10</text>
<text x="328.85" y="374.2" font-size="4.6" stroke="#000" stroke-width="0.14" >3</text>
<text x="339.8" y="377.4" font-size="6.8" text-anchor="middle" textLength="7.4" lengthAdjust="spacingAndGlyphs" stroke="#000" stroke-width="0.07" >10</text>
<text x="343.7" y="374.2" font-size="4.6" stroke="#000" stroke-width="0.14" >4</text>
<polyline points="281.54,363.85 285.38,362.31 287.69,361.23 289.23,360.31 290.31,360.77 291.54,360.77 293.08,359.23 294.62,358.15 296.15,357.38 296.92,356.92 298,356.31 298.92,357.69 300,359.23 301.54,360.77 304.62,363.08 307.69,364.62 310,364.92" fill="none" stroke="#2c4c9c" stroke-width="1.1" stroke-linejoin="round" />
<polyline points="281.1,337 281.1,364.9 282.31,363.38 285.38,362.77 290,361.23 293.08,360 296.15,356.92 297.69,354.15 298.46,352.62 299.54,351.54 300.77,350 301.69,351.08 302.31,351.54 303.85,353.85 306.15,358.46 308.46,362.31 310.77,364.31 313.08,364.92 340.46,364.92" fill="none" stroke="#c8103c" stroke-width="1.1" stroke-linejoin="round" />
<text x="390" y="328.3" font-size="6.6" text-anchor="middle" textLength="20" lengthAdjust="spacingAndGlyphs" stroke="#000" stroke-width="0.07" >MPP2</text>
<line x1="360.5" y1="337.7" x2="360.5" y2="365" stroke="#000" stroke-width="0.9" />
<line x1="360.5" y1="364.6" x2="418.5" y2="364.6" stroke="#000" stroke-width="0.9" />
<line x1="358.8" y1="360.12" x2="360.5" y2="360.12" stroke="#000" stroke-width="0.6" />
<line x1="358.8" y1="355.63" x2="360.5" y2="355.63" stroke="#000" stroke-width="0.6" />
<line x1="358.8" y1="351.15" x2="360.5" y2="351.15" stroke="#000" stroke-width="0.6" />
<line x1="358.8" y1="346.67" x2="360.5" y2="346.67" stroke="#000" stroke-width="0.6" />
<line x1="358.8" y1="342.18" x2="360.5" y2="342.18" stroke="#000" stroke-width="0.6" />
<line x1="358.8" y1="337.7" x2="360.5" y2="337.7" stroke="#000" stroke-width="0.6" />
<line x1="360.5" y1="364.6" x2="360.5" y2="366.2" stroke="#000" stroke-width="0.5" />
<line x1="364.86" y1="364.6" x2="364.86" y2="365.6" stroke="#000" stroke-width="0.5" />
<line x1="367.42" y1="364.6" x2="367.42" y2="365.6" stroke="#000" stroke-width="0.5" />
<line x1="369.23" y1="364.6" x2="369.23" y2="365.6" stroke="#000" stroke-width="0.5" />
<line x1="370.64" y1="364.6" x2="370.64" y2="365.6" stroke="#000" stroke-width="0.5" />
<line x1="371.78" y1="364.6" x2="371.78" y2="365.6" stroke="#000" stroke-width="0.5" />
<line x1="372.75" y1="364.6" x2="372.75" y2="365.6" stroke="#000" stroke-width="0.5" />
<line x1="373.59" y1="364.6" x2="373.59" y2="365.6" stroke="#000" stroke-width="0.5" />
<line x1="374.34" y1="364.6" x2="374.34" y2="365.6" stroke="#000" stroke-width="0.5" />
<line x1="375" y1="364.6" x2="375" y2="366.2" stroke="#000" stroke-width="0.5" />
<line x1="379.36" y1="364.6" x2="379.36" y2="365.6" stroke="#000" stroke-width="0.5" />
<line x1="381.92" y1="364.6" x2="381.92" y2="365.6" stroke="#000" stroke-width="0.5" />
<line x1="383.73" y1="364.6" x2="383.73" y2="365.6" stroke="#000" stroke-width="0.5" />
<line x1="385.14" y1="364.6" x2="385.14" y2="365.6" stroke="#000" stroke-width="0.5" />
<line x1="386.28" y1="364.6" x2="386.28" y2="365.6" stroke="#000" stroke-width="0.5" />
<line x1="387.25" y1="364.6" x2="387.25" y2="365.6" stroke="#000" stroke-width="0.5" />
<line x1="388.09" y1="364.6" x2="388.09" y2="365.6" stroke="#000" stroke-width="0.5" />
<line x1="388.84" y1="364.6" x2="388.84" y2="365.6" stroke="#000" stroke-width="0.5" />
<line x1="389.5" y1="364.6" x2="389.5" y2="366.2" stroke="#000" stroke-width="0.5" />
<line x1="393.86" y1="364.6" x2="393.86" y2="365.6" stroke="#000" stroke-width="0.5" />
<line x1="396.42" y1="364.6" x2="396.42" y2="365.6" stroke="#000" stroke-width="0.5" />
<line x1="398.23" y1="364.6" x2="398.23" y2="365.6" stroke="#000" stroke-width="0.5" />
<line x1="399.64" y1="364.6" x2="399.64" y2="365.6" stroke="#000" stroke-width="0.5" />
<line x1="400.78" y1="364.6" x2="400.78" y2="365.6" stroke="#000" stroke-width="0.5" />
<line x1="401.75" y1="364.6" x2="401.75" y2="365.6" stroke="#000" stroke-width="0.5" />
<line x1="402.59" y1="364.6" x2="402.59" y2="365.6" stroke="#000" stroke-width="0.5" />
<line x1="403.34" y1="364.6" x2="403.34" y2="365.6" stroke="#000" stroke-width="0.5" />
<line x1="404" y1="364.6" x2="404" y2="366.2" stroke="#000" stroke-width="0.5" />
<line x1="408.36" y1="364.6" x2="408.36" y2="365.6" stroke="#000" stroke-width="0.5" />
<line x1="410.92" y1="364.6" x2="410.92" y2="365.6" stroke="#000" stroke-width="0.5" />
<line x1="412.73" y1="364.6" x2="412.73" y2="365.6" stroke="#000" stroke-width="0.5" />
<line x1="414.14" y1="364.6" x2="414.14" y2="365.6" stroke="#000" stroke-width="0.5" />
<line x1="415.28" y1="364.6" x2="415.28" y2="365.6" stroke="#000" stroke-width="0.5" />
<line x1="416.25" y1="364.6" x2="416.25" y2="365.6" stroke="#000" stroke-width="0.5" />
<line x1="417.09" y1="364.6" x2="417.09" y2="365.6" stroke="#000" stroke-width="0.5" />
<line x1="417.84" y1="364.6" x2="417.84" y2="365.6" stroke="#000" stroke-width="0.5" />
<line x1="418.5" y1="364.6" x2="418.5" y2="366.2" stroke="#000" stroke-width="0.5" />
<text x="359.8" y="377.1" font-size="6.8" text-anchor="middle" textLength="7.4" lengthAdjust="spacingAndGlyphs" stroke="#000" stroke-width="0.07" >10</text>
<text x="363.7" y="373.9" font-size="4.6" stroke="#000" stroke-width="0.14" >0</text>
<text x="374.3" y="377.1" font-size="6.8" text-anchor="middle" textLength="7.4" lengthAdjust="spacingAndGlyphs" stroke="#000" stroke-width="0.07" >10</text>
<text x="378.2" y="373.9" font-size="4.6" stroke="#000" stroke-width="0.14" >1</text>
<text x="388.8" y="377.1" font-size="6.8" text-anchor="middle" textLength="7.4" lengthAdjust="spacingAndGlyphs" stroke="#000" stroke-width="0.07" >10</text>
<text x="392.7" y="373.9" font-size="4.6" stroke="#000" stroke-width="0.14" >2</text>
<text x="403.3" y="377.1" font-size="6.8" text-anchor="middle" textLength="7.4" lengthAdjust="spacingAndGlyphs" stroke="#000" stroke-width="0.07" >10</text>
<text x="407.2" y="373.9" font-size="4.6" stroke="#000" stroke-width="0.14" >3</text>
<text x="417.8" y="377.1" font-size="6.8" text-anchor="middle" textLength="7.4" lengthAdjust="spacingAndGlyphs" stroke="#000" stroke-width="0.07" >10</text>
<text x="421.7" y="373.9" font-size="4.6" stroke="#000" stroke-width="0.14" >4</text>
<polyline points="361.54,364.62 365.38,363.08 370,358.46 372.31,355.38 374.62,353.08 376.46,352.31 377.69,351.54 379.23,349.23 380.77,352.31 383.08,356.92 385.38,360.77 388.46,363.38 391.54,364.62" fill="none" stroke="#2c4c9c" stroke-width="1.1" stroke-linejoin="round" />
<polyline points="360.5,338 360.5,364.6 361.08,363.85 365.38,362.31 370,357.69 373.08,353.08 376.15,348.46 377.69,346.46 378.46,346.15 379.54,346.92 380.77,344.62 381.69,345.38 382.31,346.92 384.62,350.77 386.92,356.92 389.23,360.77 391.54,363.08 394.62,364.62 418.46,364.62" fill="none" stroke="#c8103c" stroke-width="1.1" stroke-linejoin="round" />
<text x="468.45" y="328.2" font-size="6.6" text-anchor="middle" textLength="26.1" lengthAdjust="spacingAndGlyphs" stroke="#000" stroke-width="0.07" >PreMeg</text>
<line x1="439.5" y1="337.2" x2="439.5" y2="364.9" stroke="#000" stroke-width="0.9" />
<line x1="439.5" y1="364.5" x2="497.7" y2="364.5" stroke="#000" stroke-width="0.9" />
<line x1="437.8" y1="359.95" x2="439.5" y2="359.95" stroke="#000" stroke-width="0.6" />
<line x1="437.8" y1="355.4" x2="439.5" y2="355.4" stroke="#000" stroke-width="0.6" />
<line x1="437.8" y1="350.85" x2="439.5" y2="350.85" stroke="#000" stroke-width="0.6" />
<line x1="437.8" y1="346.3" x2="439.5" y2="346.3" stroke="#000" stroke-width="0.6" />
<line x1="437.8" y1="341.75" x2="439.5" y2="341.75" stroke="#000" stroke-width="0.6" />
<line x1="437.8" y1="337.2" x2="439.5" y2="337.2" stroke="#000" stroke-width="0.6" />
<line x1="439.5" y1="364.5" x2="439.5" y2="366.1" stroke="#000" stroke-width="0.5" />
<line x1="443.88" y1="364.5" x2="443.88" y2="365.5" stroke="#000" stroke-width="0.5" />
<line x1="446.44" y1="364.5" x2="446.44" y2="365.5" stroke="#000" stroke-width="0.5" />
<line x1="448.26" y1="364.5" x2="448.26" y2="365.5" stroke="#000" stroke-width="0.5" />
<line x1="449.67" y1="364.5" x2="449.67" y2="365.5" stroke="#000" stroke-width="0.5" />
<line x1="450.82" y1="364.5" x2="450.82" y2="365.5" stroke="#000" stroke-width="0.5" />
<line x1="451.8" y1="364.5" x2="451.8" y2="365.5" stroke="#000" stroke-width="0.5" />
<line x1="452.64" y1="364.5" x2="452.64" y2="365.5" stroke="#000" stroke-width="0.5" />
<line x1="453.38" y1="364.5" x2="453.38" y2="365.5" stroke="#000" stroke-width="0.5" />
<line x1="454.05" y1="364.5" x2="454.05" y2="366.1" stroke="#000" stroke-width="0.5" />
<line x1="458.43" y1="364.5" x2="458.43" y2="365.5" stroke="#000" stroke-width="0.5" />
<line x1="460.99" y1="364.5" x2="460.99" y2="365.5" stroke="#000" stroke-width="0.5" />
<line x1="462.81" y1="364.5" x2="462.81" y2="365.5" stroke="#000" stroke-width="0.5" />
<line x1="464.22" y1="364.5" x2="464.22" y2="365.5" stroke="#000" stroke-width="0.5" />
<line x1="465.37" y1="364.5" x2="465.37" y2="365.5" stroke="#000" stroke-width="0.5" />
<line x1="466.35" y1="364.5" x2="466.35" y2="365.5" stroke="#000" stroke-width="0.5" />
<line x1="467.19" y1="364.5" x2="467.19" y2="365.5" stroke="#000" stroke-width="0.5" />
<line x1="467.93" y1="364.5" x2="467.93" y2="365.5" stroke="#000" stroke-width="0.5" />
<line x1="468.6" y1="364.5" x2="468.6" y2="366.1" stroke="#000" stroke-width="0.5" />
<line x1="472.98" y1="364.5" x2="472.98" y2="365.5" stroke="#000" stroke-width="0.5" />
<line x1="475.54" y1="364.5" x2="475.54" y2="365.5" stroke="#000" stroke-width="0.5" />
<line x1="477.36" y1="364.5" x2="477.36" y2="365.5" stroke="#000" stroke-width="0.5" />
<line x1="478.77" y1="364.5" x2="478.77" y2="365.5" stroke="#000" stroke-width="0.5" />
<line x1="479.92" y1="364.5" x2="479.92" y2="365.5" stroke="#000" stroke-width="0.5" />
<line x1="480.9" y1="364.5" x2="480.9" y2="365.5" stroke="#000" stroke-width="0.5" />
<line x1="481.74" y1="364.5" x2="481.74" y2="365.5" stroke="#000" stroke-width="0.5" />
<line x1="482.48" y1="364.5" x2="482.48" y2="365.5" stroke="#000" stroke-width="0.5" />
<line x1="483.15" y1="364.5" x2="483.15" y2="366.1" stroke="#000" stroke-width="0.5" />
<line x1="487.53" y1="364.5" x2="487.53" y2="365.5" stroke="#000" stroke-width="0.5" />
<line x1="490.09" y1="364.5" x2="490.09" y2="365.5" stroke="#000" stroke-width="0.5" />
<line x1="491.91" y1="364.5" x2="491.91" y2="365.5" stroke="#000" stroke-width="0.5" />
<line x1="493.32" y1="364.5" x2="493.32" y2="365.5" stroke="#000" stroke-width="0.5" />
<line x1="494.47" y1="364.5" x2="494.47" y2="365.5" stroke="#000" stroke-width="0.5" />
<line x1="495.45" y1="364.5" x2="495.45" y2="365.5" stroke="#000" stroke-width="0.5" />
<line x1="496.29" y1="364.5" x2="496.29" y2="365.5" stroke="#000" stroke-width="0.5" />
<line x1="497.03" y1="364.5" x2="497.03" y2="365.5" stroke="#000" stroke-width="0.5" />
<line x1="497.7" y1="364.5" x2="497.7" y2="366.1" stroke="#000" stroke-width="0.5" />
<text x="438.8" y="377" font-size="6.8" text-anchor="middle" textLength="7.4" lengthAdjust="spacingAndGlyphs" stroke="#000" stroke-width="0.07" >10</text>
<text x="442.7" y="373.8" font-size="4.6" stroke="#000" stroke-width="0.14" >0</text>
<text x="453.35" y="377" font-size="6.8" text-anchor="middle" textLength="7.4" lengthAdjust="spacingAndGlyphs" stroke="#000" stroke-width="0.07" >10</text>
<text x="457.25" y="373.8" font-size="4.6" stroke="#000" stroke-width="0.14" >1</text>
<text x="467.9" y="377" font-size="6.8" text-anchor="middle" textLength="7.4" lengthAdjust="spacingAndGlyphs" stroke="#000" stroke-width="0.07" >10</text>
<text x="471.8" y="373.8" font-size="4.6" stroke="#000" stroke-width="0.14" >2</text>
<text x="482.45" y="377" font-size="6.8" text-anchor="middle" textLength="7.4" lengthAdjust="spacingAndGlyphs" stroke="#000" stroke-width="0.07" >10</text>
<text x="486.35" y="373.8" font-size="4.6" stroke="#000" stroke-width="0.14" >3</text>
<text x="497" y="377" font-size="6.8" text-anchor="middle" textLength="7.4" lengthAdjust="spacingAndGlyphs" stroke="#000" stroke-width="0.07" >10</text>
<text x="500.9" y="373.8" font-size="4.6" stroke="#000" stroke-width="0.14" >4</text>
<polyline points="439.5,346.5 439.5,364.5 440.77,364.15 444.62,362.62 447.69,360.31 450,358 451.54,356.46 453.08,355.69 454.62,352.62 456.92,348.77 458.46,347.23 460,348.77 461.54,352.62 463.85,357.23 466.92,361.08 470,363.38 473.08,364.46" fill="none" stroke="#2c4c9c" stroke-width="1.1" stroke-linejoin="round" />
<polyline points="439.5,352.6 439.8,364.5 440.77,364.46 446.92,363.38 453.08,361.08 457.69,357.23 461.54,352.62 463.85,348.77 465.38,346.46 466.62,344.46 467.69,348 469.23,351.08 470.31,353.38 471.54,358.77 473.08,362.62 475.38,364.46 497.69,364.46" fill="none" stroke="#c8103c" stroke-width="1.1" stroke-linejoin="round" />
<text x="349.4" y="397" font-size="6.6" text-anchor="middle" textLength="25.8" lengthAdjust="spacingAndGlyphs" stroke="#000" stroke-width="0.07" >MPP3/4</text>
<line x1="319.5" y1="401.9" x2="319.5" y2="434.3" stroke="#000" stroke-width="0.9" />
<line x1="319.5" y1="433.9" x2="378.5" y2="433.9" stroke="#000" stroke-width="0.9" />
<line x1="317.8" y1="428.57" x2="319.5" y2="428.57" stroke="#000" stroke-width="0.6" />
<line x1="317.8" y1="423.23" x2="319.5" y2="423.23" stroke="#000" stroke-width="0.6" />
<line x1="317.8" y1="417.9" x2="319.5" y2="417.9" stroke="#000" stroke-width="0.6" />
<line x1="317.8" y1="412.57" x2="319.5" y2="412.57" stroke="#000" stroke-width="0.6" />
<line x1="317.8" y1="407.23" x2="319.5" y2="407.23" stroke="#000" stroke-width="0.6" />
<line x1="317.8" y1="401.9" x2="319.5" y2="401.9" stroke="#000" stroke-width="0.6" />
<line x1="319.5" y1="433.9" x2="319.5" y2="435.5" stroke="#000" stroke-width="0.5" />
<line x1="323.94" y1="433.9" x2="323.94" y2="434.9" stroke="#000" stroke-width="0.5" />
<line x1="326.54" y1="433.9" x2="326.54" y2="434.9" stroke="#000" stroke-width="0.5" />
<line x1="328.38" y1="433.9" x2="328.38" y2="434.9" stroke="#000" stroke-width="0.5" />
<line x1="329.81" y1="433.9" x2="329.81" y2="434.9" stroke="#000" stroke-width="0.5" />
<line x1="330.98" y1="433.9" x2="330.98" y2="434.9" stroke="#000" stroke-width="0.5" />
<line x1="331.97" y1="433.9" x2="331.97" y2="434.9" stroke="#000" stroke-width="0.5" />
<line x1="332.82" y1="433.9" x2="332.82" y2="434.9" stroke="#000" stroke-width="0.5" />
<line x1="333.58" y1="433.9" x2="333.58" y2="434.9" stroke="#000" stroke-width="0.5" />
<line x1="334.25" y1="433.9" x2="334.25" y2="435.5" stroke="#000" stroke-width="0.5" />
<line x1="338.69" y1="433.9" x2="338.69" y2="434.9" stroke="#000" stroke-width="0.5" />
<line x1="341.29" y1="433.9" x2="341.29" y2="434.9" stroke="#000" stroke-width="0.5" />
<line x1="343.13" y1="433.9" x2="343.13" y2="434.9" stroke="#000" stroke-width="0.5" />
<line x1="344.56" y1="433.9" x2="344.56" y2="434.9" stroke="#000" stroke-width="0.5" />
<line x1="345.73" y1="433.9" x2="345.73" y2="434.9" stroke="#000" stroke-width="0.5" />
<line x1="346.72" y1="433.9" x2="346.72" y2="434.9" stroke="#000" stroke-width="0.5" />
<line x1="347.57" y1="433.9" x2="347.57" y2="434.9" stroke="#000" stroke-width="0.5" />
<line x1="348.33" y1="433.9" x2="348.33" y2="434.9" stroke="#000" stroke-width="0.5" />
<line x1="349" y1="433.9" x2="349" y2="435.5" stroke="#000" stroke-width="0.5" />
<line x1="353.44" y1="433.9" x2="353.44" y2="434.9" stroke="#000" stroke-width="0.5" />
<line x1="356.04" y1="433.9" x2="356.04" y2="434.9" stroke="#000" stroke-width="0.5" />
<line x1="357.88" y1="433.9" x2="357.88" y2="434.9" stroke="#000" stroke-width="0.5" />
<line x1="359.31" y1="433.9" x2="359.31" y2="434.9" stroke="#000" stroke-width="0.5" />
<line x1="360.48" y1="433.9" x2="360.48" y2="434.9" stroke="#000" stroke-width="0.5" />
<line x1="361.47" y1="433.9" x2="361.47" y2="434.9" stroke="#000" stroke-width="0.5" />
<line x1="362.32" y1="433.9" x2="362.32" y2="434.9" stroke="#000" stroke-width="0.5" />
<line x1="363.08" y1="433.9" x2="363.08" y2="434.9" stroke="#000" stroke-width="0.5" />
<line x1="363.75" y1="433.9" x2="363.75" y2="435.5" stroke="#000" stroke-width="0.5" />
<line x1="368.19" y1="433.9" x2="368.19" y2="434.9" stroke="#000" stroke-width="0.5" />
<line x1="370.79" y1="433.9" x2="370.79" y2="434.9" stroke="#000" stroke-width="0.5" />
<line x1="372.63" y1="433.9" x2="372.63" y2="434.9" stroke="#000" stroke-width="0.5" />
<line x1="374.06" y1="433.9" x2="374.06" y2="434.9" stroke="#000" stroke-width="0.5" />
<line x1="375.23" y1="433.9" x2="375.23" y2="434.9" stroke="#000" stroke-width="0.5" />
<line x1="376.22" y1="433.9" x2="376.22" y2="434.9" stroke="#000" stroke-width="0.5" />
<line x1="377.07" y1="433.9" x2="377.07" y2="434.9" stroke="#000" stroke-width="0.5" />
<line x1="377.83" y1="433.9" x2="377.83" y2="434.9" stroke="#000" stroke-width="0.5" />
<line x1="378.5" y1="433.9" x2="378.5" y2="435.5" stroke="#000" stroke-width="0.5" />
<text x="318.8" y="446.4" font-size="6.8" text-anchor="middle" textLength="7.4" lengthAdjust="spacingAndGlyphs" stroke="#000" stroke-width="0.07" >10</text>
<text x="322.7" y="443.2" font-size="4.6" stroke="#000" stroke-width="0.14" >0</text>
<text x="333.55" y="446.4" font-size="6.8" text-anchor="middle" textLength="7.4" lengthAdjust="spacingAndGlyphs" stroke="#000" stroke-width="0.07" >10</text>
<text x="337.45" y="443.2" font-size="4.6" stroke="#000" stroke-width="0.14" >1</text>
<text x="348.3" y="446.4" font-size="6.8" text-anchor="middle" textLength="7.4" lengthAdjust="spacingAndGlyphs" stroke="#000" stroke-width="0.07" >10</text>
<text x="352.2" y="443.2" font-size="4.6" stroke="#000" stroke-width="0.14" >2</text>
<text x="363.05" y="446.4" font-size="6.8" text-anchor="middle" textLength="7.4" lengthAdjust="spacingAndGlyphs" stroke="#000" stroke-width="0.07" >10</text>
<text x="366.95" y="443.2" font-size="4.6" stroke="#000" stroke-width="0.14" >3</text>
<text x="377.8" y="446.4" font-size="6.8" text-anchor="middle" textLength="7.4" lengthAdjust="spacingAndGlyphs" stroke="#000" stroke-width="0.07" >10</text>
<text x="381.7" y="443.2" font-size="4.6" stroke="#000" stroke-width="0.14" >4</text>
<polyline points="320.46,431.92 324.62,428.85 328.46,425 331.54,421.15 332.77,419.62 333.85,417.31 334.62,416.54 335.38,415.77 336.46,417 336.92,417.31 339.23,421.92 341.54,427.31 344.62,431.92 347.69,433.92" fill="none" stroke="#2c4c9c" stroke-width="1.1" stroke-linejoin="round" />
<polyline points="319.5,406.5 319.5,433.9 320.46,431.15 323.85,427.31 326.92,423.46 328.46,421.15 329.23,419.62 330.77,415 331.85,414.23 333.08,411.92 333.85,409.62 334.62,408.85 335.85,411.15 336.92,410.85 337.38,410.85 339.23,415.77 341.54,421.92 343.85,428.85 346.92,432.69 349.23,433.92 378.46,433.92" fill="none" stroke="#c8103c" stroke-width="1.1" stroke-linejoin="round" />
<text x="428.85" y="397" font-size="6.6" text-anchor="middle" textLength="34.7" lengthAdjust="spacingAndGlyphs" stroke="#000" stroke-width="0.07" >CMP-GMP</text>
<line x1="399.5" y1="405.8" x2="399.5" y2="434.3" stroke="#000" stroke-width="0.9" />
<line x1="399.5" y1="433.9" x2="458.5" y2="433.9" stroke="#000" stroke-width="0.9" />
<line x1="397.8" y1="429.22" x2="399.5" y2="429.22" stroke="#000" stroke-width="0.6" />
<line x1="397.8" y1="424.53" x2="399.5" y2="424.53" stroke="#000" stroke-width="0.6" />
<line x1="397.8" y1="419.85" x2="399.5" y2="419.85" stroke="#000" stroke-width="0.6" />
<line x1="397.8" y1="415.17" x2="399.5" y2="415.17" stroke="#000" stroke-width="0.6" />
<line x1="397.8" y1="410.48" x2="399.5" y2="410.48" stroke="#000" stroke-width="0.6" />
<line x1="397.8" y1="405.8" x2="399.5" y2="405.8" stroke="#000" stroke-width="0.6" />
<line x1="399.5" y1="433.9" x2="399.5" y2="435.5" stroke="#000" stroke-width="0.5" />
<line x1="403.94" y1="433.9" x2="403.94" y2="434.9" stroke="#000" stroke-width="0.5" />
<line x1="406.54" y1="433.9" x2="406.54" y2="434.9" stroke="#000" stroke-width="0.5" />
<line x1="408.38" y1="433.9" x2="408.38" y2="434.9" stroke="#000" stroke-width="0.5" />
<line x1="409.81" y1="433.9" x2="409.81" y2="434.9" stroke="#000" stroke-width="0.5" />
<line x1="410.98" y1="433.9" x2="410.98" y2="434.9" stroke="#000" stroke-width="0.5" />
<line x1="411.97" y1="433.9" x2="411.97" y2="434.9" stroke="#000" stroke-width="0.5" />
<line x1="412.82" y1="433.9" x2="412.82" y2="434.9" stroke="#000" stroke-width="0.5" />
<line x1="413.58" y1="433.9" x2="413.58" y2="434.9" stroke="#000" stroke-width="0.5" />
<line x1="414.25" y1="433.9" x2="414.25" y2="435.5" stroke="#000" stroke-width="0.5" />
<line x1="418.69" y1="433.9" x2="418.69" y2="434.9" stroke="#000" stroke-width="0.5" />
<line x1="421.29" y1="433.9" x2="421.29" y2="434.9" stroke="#000" stroke-width="0.5" />
<line x1="423.13" y1="433.9" x2="423.13" y2="434.9" stroke="#000" stroke-width="0.5" />
<line x1="424.56" y1="433.9" x2="424.56" y2="434.9" stroke="#000" stroke-width="0.5" />
<line x1="425.73" y1="433.9" x2="425.73" y2="434.9" stroke="#000" stroke-width="0.5" />
<line x1="426.72" y1="433.9" x2="426.72" y2="434.9" stroke="#000" stroke-width="0.5" />
<line x1="427.57" y1="433.9" x2="427.57" y2="434.9" stroke="#000" stroke-width="0.5" />
<line x1="428.33" y1="433.9" x2="428.33" y2="434.9" stroke="#000" stroke-width="0.5" />
<line x1="429" y1="433.9" x2="429" y2="435.5" stroke="#000" stroke-width="0.5" />
<line x1="433.44" y1="433.9" x2="433.44" y2="434.9" stroke="#000" stroke-width="0.5" />
<line x1="436.04" y1="433.9" x2="436.04" y2="434.9" stroke="#000" stroke-width="0.5" />
<line x1="437.88" y1="433.9" x2="437.88" y2="434.9" stroke="#000" stroke-width="0.5" />
<line x1="439.31" y1="433.9" x2="439.31" y2="434.9" stroke="#000" stroke-width="0.5" />
<line x1="440.48" y1="433.9" x2="440.48" y2="434.9" stroke="#000" stroke-width="0.5" />
<line x1="441.47" y1="433.9" x2="441.47" y2="434.9" stroke="#000" stroke-width="0.5" />
<line x1="442.32" y1="433.9" x2="442.32" y2="434.9" stroke="#000" stroke-width="0.5" />
<line x1="443.08" y1="433.9" x2="443.08" y2="434.9" stroke="#000" stroke-width="0.5" />
<line x1="443.75" y1="433.9" x2="443.75" y2="435.5" stroke="#000" stroke-width="0.5" />
<line x1="448.19" y1="433.9" x2="448.19" y2="434.9" stroke="#000" stroke-width="0.5" />
<line x1="450.79" y1="433.9" x2="450.79" y2="434.9" stroke="#000" stroke-width="0.5" />
<line x1="452.63" y1="433.9" x2="452.63" y2="434.9" stroke="#000" stroke-width="0.5" />
<line x1="454.06" y1="433.9" x2="454.06" y2="434.9" stroke="#000" stroke-width="0.5" />
<line x1="455.23" y1="433.9" x2="455.23" y2="434.9" stroke="#000" stroke-width="0.5" />
<line x1="456.22" y1="433.9" x2="456.22" y2="434.9" stroke="#000" stroke-width="0.5" />
<line x1="457.07" y1="433.9" x2="457.07" y2="434.9" stroke="#000" stroke-width="0.5" />
<line x1="457.83" y1="433.9" x2="457.83" y2="434.9" stroke="#000" stroke-width="0.5" />
<line x1="458.5" y1="433.9" x2="458.5" y2="435.5" stroke="#000" stroke-width="0.5" />
<text x="398.8" y="446.4" font-size="6.8" text-anchor="middle" textLength="7.4" lengthAdjust="spacingAndGlyphs" stroke="#000" stroke-width="0.07" >10</text>
<text x="402.7" y="443.2" font-size="4.6" stroke="#000" stroke-width="0.14" >0</text>
<text x="413.55" y="446.4" font-size="6.8" text-anchor="middle" textLength="7.4" lengthAdjust="spacingAndGlyphs" stroke="#000" stroke-width="0.07" >10</text>
<text x="417.45" y="443.2" font-size="4.6" stroke="#000" stroke-width="0.14" >1</text>
<text x="428.3" y="446.4" font-size="6.8" text-anchor="middle" textLength="7.4" lengthAdjust="spacingAndGlyphs" stroke="#000" stroke-width="0.07" >10</text>
<text x="432.2" y="443.2" font-size="4.6" stroke="#000" stroke-width="0.14" >2</text>
<text x="443.05" y="446.4" font-size="6.8" text-anchor="middle" textLength="7.4" lengthAdjust="spacingAndGlyphs" stroke="#000" stroke-width="0.07" >10</text>
<text x="446.95" y="443.2" font-size="4.6" stroke="#000" stroke-width="0.14" >3</text>
<text x="457.8" y="446.4" font-size="6.8" text-anchor="middle" textLength="7.4" lengthAdjust="spacingAndGlyphs" stroke="#000" stroke-width="0.07" >10</text>
<text x="461.7" y="443.2" font-size="4.6" stroke="#000" stroke-width="0.14" >4</text>
<polyline points="400.77,431.15 404.62,427.31 407.69,422.69 410,418.85 411.54,416.54 412.31,415 413.08,414.54 413.85,413.46 414.62,415 415.38,415.77 416.92,418.08 419.23,424.23 422.31,430.38 425.38,433.92" fill="none" stroke="#2c4c9c" stroke-width="1.1" stroke-linejoin="round" />
<polyline points="399.5,406 399.5,433.9 400.77,429.62 403.85,425 406.15,420.38 408.15,415.77 409.23,418.08 410.77,413.46 412.31,407.31 413.38,411.92 414.92,408.08 416.15,411.15 417.69,415 419.23,420.38 421.54,427.31 423.85,431.92 426.92,433.92 458.46,433.92" fill="none" stroke="#c8103c" stroke-width="1.1" stroke-linejoin="round" />
<line x1="323" y1="455.8" x2="450" y2="455.8" stroke="#000" stroke-width="0.9" />
<path d="M454.6,455.8 L449.2,453.9 L449.2,457.7 Z" fill="#000"/>
<text x="389" y="470" font-size="8.4" text-anchor="middle" textLength="26.5" lengthAdjust="spacingAndGlyphs" stroke="#000" stroke-width="0.07" >pErk1/2</text>
<text x="94" y="501.4" font-size="8.8" text-anchor="middle" textLength="17.4" lengthAdjust="spacingAndGlyphs" stroke="#000" stroke-width="0.07" >HSC</text>
<line x1="47.5" y1="595.3" x2="50.9" y2="595.3" stroke="#000" stroke-width="1" />
<text x="43.9" y="597.7" font-size="6.8" text-anchor="end" stroke="#000" stroke-width="0.07" >0</text>
<line x1="47.5" y1="582.5" x2="50.9" y2="582.5" stroke="#000" stroke-width="1" />
<text x="43.9" y="584.9" font-size="6.8" text-anchor="end" stroke="#000" stroke-width="0.07" >10</text>
<line x1="47.5" y1="569.7" x2="50.9" y2="569.7" stroke="#000" stroke-width="1" />
<text x="43.9" y="572.1" font-size="6.8" text-anchor="end" stroke="#000" stroke-width="0.07" >20</text>
<line x1="47.5" y1="556.9" x2="50.9" y2="556.9" stroke="#000" stroke-width="1" />
<text x="43.9" y="559.3" font-size="6.8" text-anchor="end" stroke="#000" stroke-width="0.07" >30</text>
<line x1="47.5" y1="544.1" x2="50.9" y2="544.1" stroke="#000" stroke-width="1" />
<text x="43.9" y="546.5" font-size="6.8" text-anchor="end" stroke="#000" stroke-width="0.07" >40</text>
<line x1="47.5" y1="531.3" x2="50.9" y2="531.3" stroke="#000" stroke-width="1" />
<text x="43.9" y="533.7" font-size="6.8" text-anchor="end" stroke="#000" stroke-width="0.07" >50</text>
<line x1="50.9" y1="528.7" x2="50.9" y2="595.9" stroke="#000" stroke-width="1.25" />
<line x1="47.5" y1="595.3" x2="93.3" y2="595.3" stroke="#000" stroke-width="1.25" />
<line x1="61.3" y1="595.3" x2="61.3" y2="598.3" stroke="#000" stroke-width="1" />
<line x1="82.5" y1="595.3" x2="82.5" y2="598.3" stroke="#000" stroke-width="1" />
<text x="61.3" y="608.7" font-size="7.4" text-anchor="middle" textLength="13.8" lengthAdjust="spacingAndGlyphs" stroke="#000" stroke-width="0.07" >Ctrl.</text>
<text x="82.8" y="608.7" font-size="7.4" text-anchor="middle" textLength="17.2" lengthAdjust="spacingAndGlyphs" stroke="#000" stroke-width="0.07" >Depl.</text>
<line x1="61.3" y1="578.66" x2="82.5" y2="537.06" stroke="#111" stroke-width="1.1" />
<line x1="61.3" y1="579.94" x2="82.5" y2="555.62" stroke="#111" stroke-width="1.1" />
<line x1="61.3" y1="583.14" x2="82.5" y2="564.84" stroke="#111" stroke-width="1.1" />
<circle cx="61.3" cy="578.66" r="1.45" fill="#111"/>
<circle cx="82.5" cy="537.06" r="1.45" fill="#c8143c"/>
<circle cx="61.3" cy="579.94" r="1.45" fill="#111"/>
<circle cx="82.5" cy="555.62" r="1.45" fill="#c8143c"/>
<circle cx="61.3" cy="583.14" r="1.45" fill="#111"/>
<circle cx="82.5" cy="564.84" r="1.45" fill="#c8143c"/>
<text x="72.1" y="518.7" font-size="8.3" text-anchor="middle" textLength="26" lengthAdjust="spacingAndGlyphs" stroke="#000" stroke-width="0.07" >pStat5</text>
<text x="71.9" y="532" font-size="5.3" text-anchor="middle" textLength="22.75" lengthAdjust="spacingAndGlyphs" stroke="#000" stroke-width="0.14" >p=0.002</text>
<line x1="112.3" y1="595.3" x2="115.7" y2="595.3" stroke="#000" stroke-width="1" />
<text x="108.7" y="597.7" font-size="6.8" text-anchor="end" stroke="#000" stroke-width="0.07" >0</text>
<line x1="112.3" y1="582.5" x2="115.7" y2="582.5" stroke="#000" stroke-width="1" />
<text x="108.7" y="584.9" font-size="6.8" text-anchor="end" stroke="#000" stroke-width="0.07" >10</text>
<line x1="112.3" y1="569.7" x2="115.7" y2="569.7" stroke="#000" stroke-width="1" />
<text x="108.7" y="572.1" font-size="6.8" text-anchor="end" stroke="#000" stroke-width="0.07" >20</text>
<line x1="112.3" y1="556.9" x2="115.7" y2="556.9" stroke="#000" stroke-width="1" />
<text x="108.7" y="559.3" font-size="6.8" text-anchor="end" stroke="#000" stroke-width="0.07" >30</text>
<line x1="112.3" y1="544.1" x2="115.7" y2="544.1" stroke="#000" stroke-width="1" />
<text x="108.7" y="546.5" font-size="6.8" text-anchor="end" stroke="#000" stroke-width="0.07" >40</text>
<line x1="112.3" y1="531.3" x2="115.7" y2="531.3" stroke="#000" stroke-width="1" />
<text x="108.7" y="533.7" font-size="6.8" text-anchor="end" stroke="#000" stroke-width="0.07" >50</text>
<line x1="115.7" y1="528.7" x2="115.7" y2="595.9" stroke="#000" stroke-width="1.25" />
<line x1="112.3" y1="595.3" x2="158.8" y2="595.3" stroke="#000" stroke-width="1.25" />
<line x1="126.2" y1="595.3" x2="126.2" y2="598.3" stroke="#000" stroke-width="1" />
<line x1="147.8" y1="595.3" x2="147.8" y2="598.3" stroke="#000" stroke-width="1" />
<text x="126.2" y="608.7" font-size="7.4" text-anchor="middle" textLength="13.8" lengthAdjust="spacingAndGlyphs" stroke="#000" stroke-width="0.07" >Ctrl.</text>
<text x="148.1" y="608.7" font-size="7.4" text-anchor="middle" textLength="17.2" lengthAdjust="spacingAndGlyphs" stroke="#000" stroke-width="0.07" >Depl.</text>
<line x1="126.2" y1="577.38" x2="147.8" y2="556.9" stroke="#111" stroke-width="1.1" />
<line x1="126.2" y1="580.58" x2="147.8" y2="565.86" stroke="#111" stroke-width="1.1" />
<line x1="126.2" y1="588.9" x2="147.8" y2="580.58" stroke="#111" stroke-width="1.1" />
<circle cx="126.2" cy="577.38" r="1.45" fill="#203c7c"/>
<circle cx="147.8" cy="556.9" r="1.45" fill="#c8143c"/>
<circle cx="126.2" cy="580.58" r="1.45" fill="#203c7c"/>
<circle cx="147.8" cy="565.86" r="1.45" fill="#c8143c"/>
<circle cx="126.2" cy="588.9" r="1.45" fill="#203c7c"/>
<circle cx="147.8" cy="580.58" r="1.45" fill="#c8143c"/>
<text x="137.25" y="518.7" font-size="8.3" text-anchor="middle" textLength="31" lengthAdjust="spacingAndGlyphs" stroke="#000" stroke-width="0.07" >pErk1/2</text>
<text x="137" y="532" font-size="5.3" text-anchor="middle" textLength="22.75" lengthAdjust="spacingAndGlyphs" stroke="#000" stroke-width="0.14" >p=0.036</text>
<text x="241.7" y="501.4" font-size="8.8" text-anchor="middle" textLength="24.3" lengthAdjust="spacingAndGlyphs" stroke="#000" stroke-width="0.07" >MPP2</text>
<line x1="191.4" y1="595.3" x2="194.8" y2="595.3" stroke="#000" stroke-width="1" />
<text x="187.8" y="597.7" font-size="6.8" text-anchor="end" stroke="#000" stroke-width="0.07" >0</text>
<line x1="191.4" y1="579.3" x2="194.8" y2="579.3" stroke="#000" stroke-width="1" />
<text x="187.8" y="581.7" font-size="6.8" text-anchor="end" stroke="#000" stroke-width="0.07" >20</text>
<line x1="191.4" y1="563.3" x2="194.8" y2="563.3" stroke="#000" stroke-width="1" />
<text x="187.8" y="565.7" font-size="6.8" text-anchor="end" stroke="#000" stroke-width="0.07" >40</text>
<line x1="191.4" y1="547.3" x2="194.8" y2="547.3" stroke="#000" stroke-width="1" />
<text x="187.8" y="549.7" font-size="6.8" text-anchor="end" stroke="#000" stroke-width="0.07" >60</text>
<line x1="191.4" y1="531.3" x2="194.8" y2="531.3" stroke="#000" stroke-width="1" />
<text x="187.8" y="533.7" font-size="6.8" text-anchor="end" stroke="#000" stroke-width="0.07" >80</text>
<line x1="194.8" y1="528.7" x2="194.8" y2="595.9" stroke="#000" stroke-width="1.25" />
<line x1="191.4" y1="595.3" x2="237.9" y2="595.3" stroke="#000" stroke-width="1.25" />
<line x1="205.3" y1="595.3" x2="205.3" y2="598.3" stroke="#000" stroke-width="1" />
<line x1="226.8" y1="595.3" x2="226.8" y2="598.3" stroke="#000" stroke-width="1" />
<text x="205.3" y="608.7" font-size="7.4" text-anchor="middle" textLength="13.8" lengthAdjust="spacingAndGlyphs" stroke="#000" stroke-width="0.07" >Ctrl.</text>
<text x="227.1" y="608.7" font-size="7.4" text-anchor="middle" textLength="17.2" lengthAdjust="spacingAndGlyphs" stroke="#000" stroke-width="0.07" >Depl.</text>
<line x1="205.3" y1="562.9" x2="226.8" y2="549.86" stroke="#111" stroke-width="1.1" />
<line x1="205.3" y1="569.7" x2="226.8" y2="555.3" stroke="#111" stroke-width="1.1" />
<line x1="205.3" y1="571.3" x2="226.8" y2="566.5" stroke="#111" stroke-width="1.1" />
<line x1="205.3" y1="572.1" x2="226.8" y2="567.3" stroke="#111" stroke-width="1.1" />
<circle cx="205.3" cy="562.9" r="1.45" fill="#203c7c"/>
<circle cx="226.8" cy="549.86" r="1.45" fill="#c8143c"/>
<circle cx="205.3" cy="569.7" r="1.45" fill="#203c7c"/>
<circle cx="226.8" cy="555.3" r="1.45" fill="#c8143c"/>
<circle cx="205.3" cy="571.3" r="1.45" fill="#203c7c"/>
<circle cx="226.8" cy="566.5" r="1.45" fill="#c8143c"/>
<circle cx="205.3" cy="572.1" r="1.45" fill="#203c7c"/>
<circle cx="226.8" cy="567.3" r="1.45" fill="#c8143c"/>
<text x="216.35" y="518.7" font-size="8.3" text-anchor="middle" textLength="26" lengthAdjust="spacingAndGlyphs" stroke="#000" stroke-width="0.07" >pStat5</text>
<text x="216.05" y="532" font-size="5.3" text-anchor="middle" textLength="19.5" lengthAdjust="spacingAndGlyphs" stroke="#000" stroke-width="0.14" >p=0.01</text>
<line x1="256.8" y1="595.3" x2="260.2" y2="595.3" stroke="#000" stroke-width="1" />
<text x="253.2" y="597.7" font-size="6.8" text-anchor="end" stroke="#000" stroke-width="0.07" >0</text>
<line x1="256.8" y1="579.3" x2="260.2" y2="579.3" stroke="#000" stroke-width="1" />
<text x="253.2" y="581.7" font-size="6.8" text-anchor="end" stroke="#000" stroke-width="0.07" >10</text>
<line x1="256.8" y1="563.3" x2="260.2" y2="563.3" stroke="#000" stroke-width="1" />
<text x="253.2" y="565.7" font-size="6.8" text-anchor="end" stroke="#000" stroke-width="0.07" >20</text>
<line x1="256.8" y1="547.3" x2="260.2" y2="547.3" stroke="#000" stroke-width="1" />
<text x="253.2" y="549.7" font-size="6.8" text-anchor="end" stroke="#000" stroke-width="0.07" >30</text>
<line x1="256.8" y1="531.3" x2="260.2" y2="531.3" stroke="#000" stroke-width="1" />
<text x="253.2" y="533.7" font-size="6.8" text-anchor="end" stroke="#000" stroke-width="0.07" >40</text>
<line x1="260.2" y1="528.7" x2="260.2" y2="595.9" stroke="#000" stroke-width="1.25" />
<line x1="256.8" y1="595.3" x2="303.1" y2="595.3" stroke="#000" stroke-width="1.25" />
<line x1="270.6" y1="595.3" x2="270.6" y2="598.3" stroke="#000" stroke-width="1" />
<line x1="292.1" y1="595.3" x2="292.1" y2="598.3" stroke="#000" stroke-width="1" />
<text x="270.6" y="608.7" font-size="7.4" text-anchor="middle" textLength="13.8" lengthAdjust="spacingAndGlyphs" stroke="#000" stroke-width="0.07" >Ctrl.</text>
<text x="292.4" y="608.7" font-size="7.4" text-anchor="middle" textLength="17.2" lengthAdjust="spacingAndGlyphs" stroke="#000" stroke-width="0.07" >Depl.</text>
<line x1="270.6" y1="556.1" x2="292.1" y2="547.3" stroke="#111" stroke-width="1.1" />
<line x1="270.6" y1="560.58" x2="292.1" y2="550.5" stroke="#111" stroke-width="1.1" />
<line x1="270.6" y1="572.1" x2="292.1" y2="565.7" stroke="#111" stroke-width="1.1" />
<circle cx="270.6" cy="556.1" r="1.45" fill="#203c7c"/>
<circle cx="292.1" cy="547.3" r="1.45" fill="#c8143c"/>
<circle cx="270.6" cy="560.58" r="1.45" fill="#203c7c"/>
<circle cx="292.1" cy="550.5" r="1.45" fill="#c8143c"/>
<circle cx="270.6" cy="572.1" r="1.45" fill="#203c7c"/>
<circle cx="292.1" cy="565.7" r="1.45" fill="#c8143c"/>
<text x="281.65" y="518.7" font-size="8.3" text-anchor="middle" textLength="31" lengthAdjust="spacingAndGlyphs" stroke="#000" stroke-width="0.07" >pErk1/2</text>
<text x="281.35" y="532" font-size="5.3" text-anchor="middle" textLength="22.75" lengthAdjust="spacingAndGlyphs" stroke="#000" stroke-width="0.14" >p=0.008</text>
<text x="386.2" y="501.6" font-size="8.8" text-anchor="middle" textLength="33.5" lengthAdjust="spacingAndGlyphs" stroke="#000" stroke-width="0.07" >PreMeg</text>
<line x1="335.6" y1="595.3" x2="339" y2="595.3" stroke="#000" stroke-width="1" />
<text x="332" y="597.7" font-size="6.8" text-anchor="end" stroke="#000" stroke-width="0.07" >0</text>
<line x1="335.6" y1="579.3" x2="339" y2="579.3" stroke="#000" stroke-width="1" />
<text x="332" y="581.7" font-size="6.8" text-anchor="end" stroke="#000" stroke-width="0.07" >20</text>
<line x1="335.6" y1="563.3" x2="339" y2="563.3" stroke="#000" stroke-width="1" />
<text x="332" y="565.7" font-size="6.8" text-anchor="end" stroke="#000" stroke-width="0.07" >40</text>
<line x1="335.6" y1="547.3" x2="339" y2="547.3" stroke="#000" stroke-width="1" />
<text x="332" y="549.7" font-size="6.8" text-anchor="end" stroke="#000" stroke-width="0.07" >60</text>
<line x1="335.6" y1="531.3" x2="339" y2="531.3" stroke="#000" stroke-width="1" />
<text x="332" y="533.7" font-size="6.8" text-anchor="end" stroke="#000" stroke-width="0.07" >80</text>
<line x1="339" y1="528.7" x2="339" y2="595.9" stroke="#000" stroke-width="1.25" />
<line x1="335.6" y1="595.3" x2="382.9" y2="595.3" stroke="#000" stroke-width="1.25" />
<line x1="349.6" y1="595.3" x2="349.6" y2="598.3" stroke="#000" stroke-width="1" />
<line x1="371.4" y1="595.3" x2="371.4" y2="598.3" stroke="#000" stroke-width="1" />
<text x="349.6" y="608.7" font-size="7.4" text-anchor="middle" textLength="13.8" lengthAdjust="spacingAndGlyphs" stroke="#000" stroke-width="0.07" >Ctrl.</text>
<text x="371.7" y="608.7" font-size="7.4" text-anchor="middle" textLength="17.2" lengthAdjust="spacingAndGlyphs" stroke="#000" stroke-width="0.07" >Depl.</text>
<line x1="349.6" y1="570.1" x2="371.4" y2="540.66" stroke="#111" stroke-width="1.1" />
<line x1="349.6" y1="575.3" x2="371.4" y2="561.3" stroke="#111" stroke-width="1.1" />
<line x1="349.6" y1="570.5" x2="371.4" y2="568.1" stroke="#111" stroke-width="1.1" />
<circle cx="349.6" cy="570.1" r="1.45" fill="#203c7c"/>
<circle cx="371.4" cy="540.66" r="1.45" fill="#c8143c"/>
<circle cx="349.6" cy="575.3" r="1.45" fill="#203c7c"/>
<circle cx="371.4" cy="561.3" r="1.45" fill="#c8143c"/>
<circle cx="349.6" cy="570.5" r="1.45" fill="#203c7c"/>
<circle cx="371.4" cy="568.1" r="1.45" fill="#c8143c"/>
<text x="360.95" y="518.7" font-size="8.3" text-anchor="middle" textLength="26" lengthAdjust="spacingAndGlyphs" stroke="#000" stroke-width="0.07" >pStat5</text>
<text x="360.5" y="532" font-size="5.3" text-anchor="middle" textLength="19.5" lengthAdjust="spacingAndGlyphs" stroke="#000" stroke-width="0.14" >p=0.01</text>
<line x1="401.3" y1="595.3" x2="404.7" y2="595.3" stroke="#000" stroke-width="1" />
<text x="397.7" y="597.7" font-size="6.8" text-anchor="end" stroke="#000" stroke-width="0.07" >0</text>
<line x1="401.3" y1="582.5" x2="404.7" y2="582.5" stroke="#000" stroke-width="1" />
<text x="397.7" y="584.9" font-size="6.8" text-anchor="end" stroke="#000" stroke-width="0.07" >10</text>
<line x1="401.3" y1="569.7" x2="404.7" y2="569.7" stroke="#000" stroke-width="1" />
<text x="397.7" y="572.1" font-size="6.8" text-anchor="end" stroke="#000" stroke-width="0.07" >20</text>
<line x1="401.3" y1="556.9" x2="404.7" y2="556.9" stroke="#000" stroke-width="1" />
<text x="397.7" y="559.3" font-size="6.8" text-anchor="end" stroke="#000" stroke-width="0.07" >30</text>
<line x1="401.3" y1="544.1" x2="404.7" y2="544.1" stroke="#000" stroke-width="1" />
<text x="397.7" y="546.5" font-size="6.8" text-anchor="end" stroke="#000" stroke-width="0.07" >40</text>
<line x1="401.3" y1="531.3" x2="404.7" y2="531.3" stroke="#000" stroke-width="1" />
<text x="397.7" y="533.7" font-size="6.8" text-anchor="end" stroke="#000" stroke-width="0.07" >50</text>
<line x1="404.7" y1="528.7" x2="404.7" y2="595.9" stroke="#000" stroke-width="1.25" />
<line x1="401.3" y1="595.3" x2="447.9" y2="595.3" stroke="#000" stroke-width="1.25" />
<line x1="415.3" y1="595.3" x2="415.3" y2="598.3" stroke="#000" stroke-width="1" />
<line x1="436.8" y1="595.3" x2="436.8" y2="598.3" stroke="#000" stroke-width="1" />
<text x="415.3" y="608.7" font-size="7.4" text-anchor="middle" textLength="13.8" lengthAdjust="spacingAndGlyphs" stroke="#000" stroke-width="0.07" >Ctrl.</text>
<text x="437.1" y="608.7" font-size="7.4" text-anchor="middle" textLength="17.2" lengthAdjust="spacingAndGlyphs" stroke="#000" stroke-width="0.07" >Depl.</text>
<line x1="415.3" y1="570.98" x2="436.8" y2="540.9" stroke="#111" stroke-width="1.1" />
<line x1="415.3" y1="574.82" x2="436.8" y2="550.24" stroke="#111" stroke-width="1.1" />
<line x1="415.3" y1="581.48" x2="436.8" y2="569.7" stroke="#111" stroke-width="1.1" />
<circle cx="415.3" cy="570.98" r="1.45" fill="#203c7c"/>
<circle cx="436.8" cy="540.9" r="1.45" fill="#c8143c"/>
<circle cx="415.3" cy="574.82" r="1.45" fill="#203c7c"/>
<circle cx="436.8" cy="550.24" r="1.45" fill="#c8143c"/>
<circle cx="415.3" cy="581.48" r="1.45" fill="#203c7c"/>
<circle cx="436.8" cy="569.7" r="1.45" fill="#c8143c"/>
<text x="426.3" y="518.7" font-size="8.3" text-anchor="middle" textLength="31" lengthAdjust="spacingAndGlyphs" stroke="#000" stroke-width="0.07" >pErk1/2</text>
<text x="426.05" y="532" font-size="5.3" text-anchor="middle" textLength="19.5" lengthAdjust="spacingAndGlyphs" stroke="#000" stroke-width="0.14" >p=0.02</text>
<text x="160.4" y="634.8" font-size="8.8" text-anchor="middle" textLength="31.2" lengthAdjust="spacingAndGlyphs" stroke="#000" stroke-width="0.07" >MPP3/4</text>
<line x1="109.1" y1="729" x2="112.5" y2="729" stroke="#000" stroke-width="1" />
<text x="105.5" y="731.4" font-size="6.8" text-anchor="end" stroke="#000" stroke-width="0.07" >0</text>
<line x1="109.1" y1="716.1" x2="112.5" y2="716.1" stroke="#000" stroke-width="1" />
<text x="105.5" y="718.5" font-size="6.8" text-anchor="end" stroke="#000" stroke-width="0.07" >10</text>
<line x1="109.1" y1="703.2" x2="112.5" y2="703.2" stroke="#000" stroke-width="1" />
<text x="105.5" y="705.6" font-size="6.8" text-anchor="end" stroke="#000" stroke-width="0.07" >20</text>
<line x1="109.1" y1="690.3" x2="112.5" y2="690.3" stroke="#000" stroke-width="1" />
<text x="105.5" y="692.7" font-size="6.8" text-anchor="end" stroke="#000" stroke-width="0.07" >30</text>
<line x1="109.1" y1="677.4" x2="112.5" y2="677.4" stroke="#000" stroke-width="1" />
<text x="105.5" y="679.8" font-size="6.8" text-anchor="end" stroke="#000" stroke-width="0.07" >40</text>
<line x1="109.1" y1="664.5" x2="112.5" y2="664.5" stroke="#000" stroke-width="1" />
<text x="105.5" y="666.9" font-size="6.8" text-anchor="end" stroke="#000" stroke-width="0.07" >50</text>
<line x1="112.5" y1="661.9" x2="112.5" y2="729.6" stroke="#000" stroke-width="1.25" />
<line x1="109.1" y1="729" x2="155.8" y2="729" stroke="#000" stroke-width="1.25" />
<line x1="123.3" y1="729" x2="123.3" y2="732" stroke="#000" stroke-width="1" />
<line x1="145" y1="729" x2="145" y2="732" stroke="#000" stroke-width="1" />
<text x="123.3" y="742.6" font-size="7.4" text-anchor="middle" textLength="13.8" lengthAdjust="spacingAndGlyphs" stroke="#000" stroke-width="0.07" >Ctrl.</text>
<text x="145.3" y="742.6" font-size="7.4" text-anchor="middle" textLength="17.2" lengthAdjust="spacingAndGlyphs" stroke="#000" stroke-width="0.07" >Depl.</text>
<line x1="123.3" y1="708.36" x2="145" y2="707.72" stroke="#111" stroke-width="1.1" />
<line x1="123.3" y1="711.59" x2="145" y2="708.1" stroke="#111" stroke-width="1.1" />
<line x1="123.3" y1="713.52" x2="145" y2="708.75" stroke="#111" stroke-width="1.1" />
<circle cx="123.3" cy="708.36" r="1.45" fill="#203c7c"/>
<circle cx="145" cy="707.72" r="1.45" fill="#c8143c"/>
<circle cx="123.3" cy="711.59" r="1.45" fill="#203c7c"/>
<circle cx="145" cy="708.1" r="1.45" fill="#c8143c"/>
<circle cx="123.3" cy="713.52" r="1.45" fill="#203c7c"/>
<circle cx="145" cy="708.75" r="1.45" fill="#c8143c"/>
<text x="134.15" y="650.5" font-size="8.3" text-anchor="middle" textLength="26" lengthAdjust="spacingAndGlyphs" stroke="#000" stroke-width="0.07" >pStat5</text>
<text x="134.15" y="670.6" font-size="5.3" text-anchor="middle" textLength="19.5" lengthAdjust="spacingAndGlyphs" stroke="#000" stroke-width="0.14" >p=0.13</text>
<line x1="174.3" y1="729" x2="177.7" y2="729" stroke="#000" stroke-width="1" />
<text x="170.7" y="731.4" font-size="6.8" text-anchor="end" stroke="#000" stroke-width="0.07" >0</text>
<line x1="174.3" y1="716.1" x2="177.7" y2="716.1" stroke="#000" stroke-width="1" />
<text x="170.7" y="718.5" font-size="6.8" text-anchor="end" stroke="#000" stroke-width="0.07" >10</text>
<line x1="174.3" y1="703.2" x2="177.7" y2="703.2" stroke="#000" stroke-width="1" />
<text x="170.7" y="705.6" font-size="6.8" text-anchor="end" stroke="#000" stroke-width="0.07" >20</text>
<line x1="174.3" y1="690.3" x2="177.7" y2="690.3" stroke="#000" stroke-width="1" />
<text x="170.7" y="692.7" font-size="6.8" text-anchor="end" stroke="#000" stroke-width="0.07" >30</text>
<line x1="174.3" y1="677.4" x2="177.7" y2="677.4" stroke="#000" stroke-width="1" />
<text x="170.7" y="679.8" font-size="6.8" text-anchor="end" stroke="#000" stroke-width="0.07" >40</text>
<line x1="174.3" y1="664.5" x2="177.7" y2="664.5" stroke="#000" stroke-width="1" />
<text x="170.7" y="666.9" font-size="6.8" text-anchor="end" stroke="#000" stroke-width="0.07" >50</text>
<line x1="177.7" y1="661.9" x2="177.7" y2="729.6" stroke="#000" stroke-width="1.25" />
<line x1="174.3" y1="729" x2="220.8" y2="729" stroke="#000" stroke-width="1.25" />
<line x1="188.5" y1="729" x2="188.5" y2="732" stroke="#000" stroke-width="1" />
<line x1="210.3" y1="729" x2="210.3" y2="732" stroke="#000" stroke-width="1" />
<text x="188.5" y="742.6" font-size="7.4" text-anchor="middle" textLength="13.8" lengthAdjust="spacingAndGlyphs" stroke="#000" stroke-width="0.07" >Ctrl.</text>
<text x="210.6" y="742.6" font-size="7.4" text-anchor="middle" textLength="17.2" lengthAdjust="spacingAndGlyphs" stroke="#000" stroke-width="0.07" >Depl.</text>
<line x1="188.5" y1="715.46" x2="210.3" y2="714.42" stroke="#111" stroke-width="1.1" />
<line x1="188.5" y1="718.68" x2="210.3" y2="717.39" stroke="#111" stroke-width="1.1" />
<line x1="188.5" y1="720.23" x2="210.3" y2="718.68" stroke="#111" stroke-width="1.1" />
<circle cx="188.5" cy="715.46" r="1.45" fill="#203c7c"/>
<circle cx="210.3" cy="714.42" r="1.45" fill="#c8143c"/>
<circle cx="188.5" cy="718.68" r="1.45" fill="#203c7c"/>
<circle cx="210.3" cy="717.39" r="1.45" fill="#c8143c"/>
<circle cx="188.5" cy="720.23" r="1.45" fill="#203c7c"/>
<circle cx="210.3" cy="718.68" r="1.45" fill="#c8143c"/>
<text x="199.25" y="650.5" font-size="8.3" text-anchor="middle" textLength="31" lengthAdjust="spacingAndGlyphs" stroke="#000" stroke-width="0.07" >pErk1/2</text>
<text x="199.4" y="670.6" font-size="5.3" text-anchor="middle" textLength="19.5" lengthAdjust="spacingAndGlyphs" stroke="#000" stroke-width="0.14" >p=0.06</text>
<text x="310.5" y="637.8" font-size="8.8" text-anchor="middle" textLength="43.1" lengthAdjust="spacingAndGlyphs" stroke="#000" stroke-width="0.07" >CMP-GMP</text>
<line x1="253.2" y1="729" x2="256.6" y2="729" stroke="#000" stroke-width="1" />
<text x="249.6" y="731.4" font-size="6.8" text-anchor="end" stroke="#000" stroke-width="0.07" >0</text>
<line x1="253.2" y1="716.1" x2="256.6" y2="716.1" stroke="#000" stroke-width="1" />
<text x="249.6" y="718.5" font-size="6.8" text-anchor="end" stroke="#000" stroke-width="0.07" >10</text>
<line x1="253.2" y1="703.2" x2="256.6" y2="703.2" stroke="#000" stroke-width="1" />
<text x="249.6" y="705.6" font-size="6.8" text-anchor="end" stroke="#000" stroke-width="0.07" >20</text>
<line x1="253.2" y1="690.3" x2="256.6" y2="690.3" stroke="#000" stroke-width="1" />
<text x="249.6" y="692.7" font-size="6.8" text-anchor="end" stroke="#000" stroke-width="0.07" >30</text>
<line x1="253.2" y1="677.4" x2="256.6" y2="677.4" stroke="#000" stroke-width="1" />
<text x="249.6" y="679.8" font-size="6.8" text-anchor="end" stroke="#000" stroke-width="0.07" >40</text>
<line x1="253.2" y1="664.5" x2="256.6" y2="664.5" stroke="#000" stroke-width="1" />
<text x="249.6" y="666.9" font-size="6.8" text-anchor="end" stroke="#000" stroke-width="0.07" >50</text>
<line x1="256.6" y1="661.9" x2="256.6" y2="729.6" stroke="#000" stroke-width="1.25" />
<line x1="253.2" y1="729" x2="300" y2="729" stroke="#000" stroke-width="1.25" />
<line x1="267.6" y1="729" x2="267.6" y2="732" stroke="#000" stroke-width="1" />
<line x1="289.2" y1="729" x2="289.2" y2="732" stroke="#000" stroke-width="1" />
<text x="267.6" y="742.6" font-size="7.4" text-anchor="middle" textLength="13.8" lengthAdjust="spacingAndGlyphs" stroke="#000" stroke-width="0.07" >Ctrl.</text>
<text x="289.5" y="742.6" font-size="7.4" text-anchor="middle" textLength="17.2" lengthAdjust="spacingAndGlyphs" stroke="#000" stroke-width="0.07" >Depl.</text>
<line x1="267.6" y1="711.59" x2="289.2" y2="710.94" stroke="#111" stroke-width="1.1" />
<line x1="267.6" y1="714.81" x2="289.2" y2="712.88" stroke="#111" stroke-width="1.1" />
<line x1="267.6" y1="717.39" x2="289.2" y2="714.81" stroke="#111" stroke-width="1.1" />
<circle cx="267.6" cy="711.59" r="1.45" fill="#203c7c"/>
<circle cx="289.2" cy="710.94" r="1.45" fill="#c8143c"/>
<circle cx="267.6" cy="714.81" r="1.45" fill="#203c7c"/>
<circle cx="289.2" cy="712.88" r="1.45" fill="#c8143c"/>
<circle cx="267.6" cy="717.39" r="1.45" fill="#203c7c"/>
<circle cx="289.2" cy="714.81" r="1.45" fill="#c8143c"/>
<text x="278.3" y="650.5" font-size="8.3" text-anchor="middle" textLength="26" lengthAdjust="spacingAndGlyphs" stroke="#000" stroke-width="0.07" >pStat5</text>
<text x="278.4" y="670.6" font-size="5.3" text-anchor="middle" textLength="16.25" lengthAdjust="spacingAndGlyphs" stroke="#000" stroke-width="0.14" >p=0.1</text>
<line x1="333.1" y1="729" x2="336.5" y2="729" stroke="#000" stroke-width="1" />
<text x="329.5" y="731.4" font-size="6.8" text-anchor="end" stroke="#000" stroke-width="0.07" >0</text>
<line x1="333.1" y1="716.1" x2="336.5" y2="716.1" stroke="#000" stroke-width="1" />
<text x="329.5" y="718.5" font-size="6.8" text-anchor="end" stroke="#000" stroke-width="0.07" >10</text>
<line x1="333.1" y1="703.2" x2="336.5" y2="703.2" stroke="#000" stroke-width="1" />
<text x="329.5" y="705.6" font-size="6.8" text-anchor="end" stroke="#000" stroke-width="0.07" >20</text>
<line x1="333.1" y1="690.3" x2="336.5" y2="690.3" stroke="#000" stroke-width="1" />
<text x="329.5" y="692.7" font-size="6.8" text-anchor="end" stroke="#000" stroke-width="0.07" >30</text>
<line x1="333.1" y1="677.4" x2="336.5" y2="677.4" stroke="#000" stroke-width="1" />
<text x="329.5" y="679.8" font-size="6.8" text-anchor="end" stroke="#000" stroke-width="0.07" >40</text>
<line x1="333.1" y1="664.5" x2="336.5" y2="664.5" stroke="#000" stroke-width="1" />
<text x="329.5" y="666.9" font-size="6.8" text-anchor="end" stroke="#000" stroke-width="0.07" >50</text>
<line x1="336.5" y1="661.9" x2="336.5" y2="729.6" stroke="#000" stroke-width="1.25" />
<line x1="333.1" y1="729" x2="379.6" y2="729" stroke="#000" stroke-width="1.25" />
<line x1="346.8" y1="729" x2="346.8" y2="732" stroke="#000" stroke-width="1" />
<line x1="368.4" y1="729" x2="368.4" y2="732" stroke="#000" stroke-width="1" />
<text x="346.8" y="742.6" font-size="7.4" text-anchor="middle" textLength="13.8" lengthAdjust="spacingAndGlyphs" stroke="#000" stroke-width="0.07" >Ctrl.</text>
<text x="368.7" y="742.6" font-size="7.4" text-anchor="middle" textLength="17.2" lengthAdjust="spacingAndGlyphs" stroke="#000" stroke-width="0.07" >Depl.</text>
<line x1="346.8" y1="718.68" x2="368.4" y2="718.68" stroke="#111" stroke-width="1.6" />
<line x1="346.8" y1="722.55" x2="368.4" y2="721" stroke="#111" stroke-width="1.1" />
<circle cx="346.8" cy="718.68" r="1.45" fill="#203c7c"/>
<circle cx="368.4" cy="718.68" r="1.45" fill="#c8143c"/>
<circle cx="346.8" cy="722.55" r="1.45" fill="#203c7c"/>
<circle cx="368.4" cy="721" r="1.45" fill="#c8143c"/>
<text x="358.05" y="650.5" font-size="8.3" text-anchor="middle" textLength="31" lengthAdjust="spacingAndGlyphs" stroke="#000" stroke-width="0.07" >pErk1/2</text>
<text x="357.6" y="670.6" font-size="5.3" text-anchor="middle" textLength="16.25" lengthAdjust="spacingAndGlyphs" stroke="#000" stroke-width="0.14" >p=0.4</text>
<text x="29.9" y="561.9" font-size="7.6" text-anchor="middle" textLength="58.9" lengthAdjust="spacingAndGlyphs" transform="rotate(-90 29.9 561.9)" stroke="#000" stroke-width="0.07" >Relative intensity</text>
<text x="92.5" y="695" font-size="7.6" text-anchor="middle" textLength="58" lengthAdjust="spacingAndGlyphs" transform="rotate(-90 92.5 695)" stroke="#000" stroke-width="0.07" >Relative intensity</text>
<text x="316.3" y="695" font-size="7.6" text-anchor="middle" textLength="58" lengthAdjust="spacingAndGlyphs" transform="rotate(-90 316.3 695)" stroke="#000" stroke-width="0.07" >Relative intensity</text>
<rect x="0" y="0" width="520" height="1.15" fill="#000"/><rect x="0" y="0" width="1.1" height="752" fill="#000"/><rect x="518.6" y="0" width="1.4" height="752" fill="#000"/><rect x="0" y="750.3" width="520" height="1.7" fill="#000"/>
</svg>
</body></html>
